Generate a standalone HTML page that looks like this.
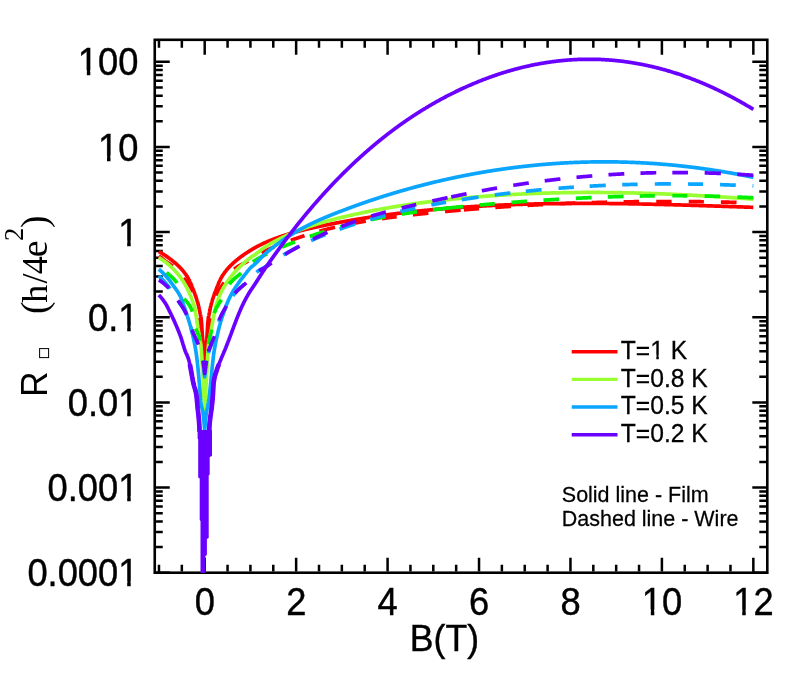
<!DOCTYPE html>
<html><head><meta charset="utf-8"><title>R vs B</title>
<style>
html,body{margin:0;padding:0;background:#fff;}
body{width:789px;height:684px;overflow:hidden;font-family:"Liberation Sans",sans-serif;}
svg{will-change:transform;display:block;position:absolute;left:0;top:0}
</style></head>
<body>
<svg width="789" height="684" viewBox="0 0 789 684">
<rect width="789" height="684" fill="#fff"/>
<rect x="154.75" y="39.8" width="612.55" height="532.90" fill="none" stroke="#000" stroke-width="2.6"/>
<path d="M158.98,571.40v-6.7 M158.98,41.10v6.7 M181.84,571.40v-6.7 M181.84,41.10v6.7 M204.70,571.40v-13.7 M204.70,41.10v13.7 M227.56,571.40v-6.7 M227.56,41.10v6.7 M250.42,571.40v-6.7 M250.42,41.10v6.7 M273.28,571.40v-6.7 M273.28,41.10v6.7 M296.14,571.40v-13.7 M296.14,41.10v13.7 M319.00,571.40v-6.7 M319.00,41.10v6.7 M341.86,571.40v-6.7 M341.86,41.10v6.7 M364.72,571.40v-6.7 M364.72,41.10v6.7 M387.58,571.40v-13.7 M387.58,41.10v13.7 M410.44,571.40v-6.7 M410.44,41.10v6.7 M433.30,571.40v-6.7 M433.30,41.10v6.7 M456.16,571.40v-6.7 M456.16,41.10v6.7 M479.02,571.40v-13.7 M479.02,41.10v13.7 M501.88,571.40v-6.7 M501.88,41.10v6.7 M524.74,571.40v-6.7 M524.74,41.10v6.7 M547.60,571.40v-6.7 M547.60,41.10v6.7 M570.46,571.40v-13.7 M570.46,41.10v13.7 M593.32,571.40v-6.7 M593.32,41.10v6.7 M616.18,571.40v-6.7 M616.18,41.10v6.7 M639.04,571.40v-6.7 M639.04,41.10v6.7 M661.90,571.40v-13.7 M661.90,41.10v13.7 M684.76,571.40v-6.7 M684.76,41.10v6.7 M707.62,571.40v-6.7 M707.62,41.10v6.7 M730.48,571.40v-6.7 M730.48,41.10v6.7 M753.34,571.40v-13.7 M753.34,41.10v13.7 M156.05,572.70h13.7 M766.00,572.70h-13.7 M156.05,547.07h6.7 M766.00,547.07h-6.7 M156.05,532.07h6.7 M766.00,532.07h-6.7 M156.05,521.43h6.7 M766.00,521.43h-6.7 M156.05,513.18h6.7 M766.00,513.18h-6.7 M156.05,506.44h6.7 M766.00,506.44h-6.7 M156.05,500.74h6.7 M766.00,500.74h-6.7 M156.05,495.80h6.7 M766.00,495.80h-6.7 M156.05,491.45h6.7 M766.00,491.45h-6.7 M156.05,487.55h13.7 M766.00,487.55h-13.7 M156.05,461.92h6.7 M766.00,461.92h-6.7 M156.05,446.92h6.7 M766.00,446.92h-6.7 M156.05,436.28h6.7 M766.00,436.28h-6.7 M156.05,428.03h6.7 M766.00,428.03h-6.7 M156.05,421.29h6.7 M766.00,421.29h-6.7 M156.05,415.59h6.7 M766.00,415.59h-6.7 M156.05,410.65h6.7 M766.00,410.65h-6.7 M156.05,406.30h6.7 M766.00,406.30h-6.7 M156.05,402.40h13.7 M766.00,402.40h-13.7 M156.05,376.77h6.7 M766.00,376.77h-6.7 M156.05,361.77h6.7 M766.00,361.77h-6.7 M156.05,351.13h6.7 M766.00,351.13h-6.7 M156.05,342.88h6.7 M766.00,342.88h-6.7 M156.05,336.14h6.7 M766.00,336.14h-6.7 M156.05,330.44h6.7 M766.00,330.44h-6.7 M156.05,325.50h6.7 M766.00,325.50h-6.7 M156.05,321.15h6.7 M766.00,321.15h-6.7 M156.05,317.25h13.7 M766.00,317.25h-13.7 M156.05,291.62h6.7 M766.00,291.62h-6.7 M156.05,276.62h6.7 M766.00,276.62h-6.7 M156.05,265.98h6.7 M766.00,265.98h-6.7 M156.05,257.73h6.7 M766.00,257.73h-6.7 M156.05,250.99h6.7 M766.00,250.99h-6.7 M156.05,245.29h6.7 M766.00,245.29h-6.7 M156.05,240.35h6.7 M766.00,240.35h-6.7 M156.05,236.00h6.7 M766.00,236.00h-6.7 M156.05,232.10h13.7 M766.00,232.10h-13.7 M156.05,206.47h6.7 M766.00,206.47h-6.7 M156.05,191.47h6.7 M766.00,191.47h-6.7 M156.05,180.83h6.7 M766.00,180.83h-6.7 M156.05,172.58h6.7 M766.00,172.58h-6.7 M156.05,165.84h6.7 M766.00,165.84h-6.7 M156.05,160.14h6.7 M766.00,160.14h-6.7 M156.05,155.20h6.7 M766.00,155.20h-6.7 M156.05,150.85h6.7 M766.00,150.85h-6.7 M156.05,146.95h13.7 M766.00,146.95h-13.7 M156.05,121.32h6.7 M766.00,121.32h-6.7 M156.05,106.32h6.7 M766.00,106.32h-6.7 M156.05,95.68h6.7 M766.00,95.68h-6.7 M156.05,87.43h6.7 M766.00,87.43h-6.7 M156.05,80.69h6.7 M766.00,80.69h-6.7 M156.05,74.99h6.7 M766.00,74.99h-6.7 M156.05,70.05h6.7 M766.00,70.05h-6.7 M156.05,65.70h6.7 M766.00,65.70h-6.7 M156.05,61.80h13.7 M766.00,61.80h-13.7" stroke="#000" stroke-width="2.5" fill="none"/>
<clipPath id="c"><rect x="154.75" y="39.80" width="612.55" height="533.20"/></clipPath>
<g clip-path="url(#c)" fill="none" stroke-linejoin="round">
<path d="M158.80,251.49 L158.98,251.60 L159.16,251.71 L159.35,251.82 L159.53,251.93 L159.71,252.04 L159.89,252.14 L160.08,252.25 L160.26,252.36 L160.44,252.47 L160.62,252.58 L160.80,252.69 L160.98,252.79 L161.16,252.90 L161.34,253.01 L161.52,253.12 L161.69,253.23 L161.87,253.33 L162.05,253.44 L162.23,253.55 L162.40,253.66 L162.58,253.77 L162.76,253.88 L162.93,253.99 L163.11,254.10 L163.28,254.20 L163.46,254.31 L163.63,254.42 L163.80,254.53 L163.98,254.65 L164.15,254.76 L164.32,254.87 L164.50,254.98 L164.67,255.09 L164.84,255.20 L165.01,255.32 L165.18,255.43 L165.35,255.54 L165.52,255.66 L165.69,255.77 L165.86,255.89 L166.03,256.00 L166.20,256.12 L166.37,256.24 L166.54,256.35 L166.70,256.47 L166.87,256.59 L167.04,256.71 L167.20,256.83 L167.37,256.94 L167.54,257.06 L167.70,257.18 L167.87,257.30 L168.03,257.41 L168.19,257.53 L168.36,257.65 L168.52,257.77 L168.69,257.89 L168.85,258.00 L169.01,258.12 L169.17,258.24 L169.33,258.36 L169.50,258.48 L169.66,258.60 L169.82,258.71 L169.98,258.83 L170.14,258.95 L170.30,259.07 L170.46,259.19 L170.61,259.31 L170.77,259.43 L170.93,259.55 L171.09,259.67 L171.25,259.79 L171.40,259.91 L171.56,260.03 L171.71,260.15 L171.87,260.27 L172.03,260.39 L172.18,260.51 L172.34,260.63 L172.49,260.75 L172.64,260.87 L172.80,260.99 L172.95,261.12 L173.10,261.24 L173.26,261.36 L173.41,261.49 L173.56,261.61 L173.71,261.73 L173.86,261.86 L174.01,261.98 L174.16,262.10 L174.31,262.23 L174.46,262.35 L174.61,262.48 L174.76,262.61 L174.91,262.73 L175.06,262.86 L175.20,262.98 L175.35,263.11 L175.50,263.24 L175.65,263.37 L175.79,263.50 L175.94,263.62 L176.08,263.75 L176.23,263.88 L176.37,264.01 L176.52,264.14 L176.66,264.27 L176.80,264.40 L176.95,264.53 L177.09,264.66 L177.23,264.80 L177.37,264.93 L177.52,265.06 L177.66,265.19 L177.80,265.33 L177.94,265.46 L178.08,265.60 L178.22,265.73 L178.36,265.87 L178.50,266.00 L178.64,266.14 L178.78,266.27 L178.91,266.41 L179.05,266.55 L179.19,266.68 L179.33,266.82 L179.46,266.96 L179.60,267.10 L179.73,267.24 L179.87,267.38 L180.01,267.52 L180.14,267.66 L180.27,267.80 L180.41,267.94 L180.54,268.08 L180.68,268.22 L180.81,268.36 L180.94,268.50 L181.07,268.64 L181.21,268.79 L181.34,268.93 L181.47,269.07 L181.60,269.22 L181.73,269.36 L181.86,269.51 L181.99,269.65 L182.12,269.80 L182.25,269.95 L182.37,270.09 L182.50,270.24 L182.63,270.39 L182.76,270.54 L182.88,270.69 L183.01,270.84 L183.14,270.99 L183.26,271.14 L183.39,271.30 L183.51,271.45 L183.64,271.61 L183.76,271.76 L183.89,271.92 L184.01,272.07 L184.13,272.23 L184.26,272.39 L184.38,272.55 L184.50,272.71 L184.62,272.87 L184.75,273.03 L184.87,273.19 L184.99,273.36 L185.11,273.52 L185.23,273.69 L185.35,273.85 L185.47,274.02 L185.59,274.19 L185.70,274.35 L185.82,274.52 L185.94,274.69 L186.06,274.86 L186.18,275.04 L186.29,275.21 L186.41,275.38 L186.52,275.56 L186.64,275.73 L186.75,275.91 L186.87,276.09 L186.98,276.26 L187.10,276.44 L187.21,276.62 L187.33,276.80 L187.44,276.99 L187.55,277.17 L187.66,277.35 L187.78,277.54 L187.89,277.73 L188.00,277.92 L188.11,278.12 L188.22,278.31 L188.33,278.51 L188.44,278.72 L188.55,278.92 L188.66,279.13 L188.77,279.34 L188.87,279.55 L188.98,279.76 L189.09,279.98 L189.20,280.19 L189.30,280.41 L189.41,280.63 L189.52,280.85 L189.62,281.08 L189.73,281.30 L189.83,281.53 L189.94,281.76 L190.04,281.98 L190.14,282.21 L190.25,282.44 L190.35,282.68 L190.45,282.91 L190.56,283.14 L190.66,283.38 L190.76,283.61 L190.86,283.85 L190.96,284.08 L191.06,284.32 L191.16,284.56 L191.26,284.79 L191.36,285.03 L191.46,285.27 L191.56,285.51 L191.66,285.75 L191.75,285.99 L191.85,286.23 L191.95,286.47 L192.05,286.70 L192.14,286.94 L192.24,287.18 L192.33,287.42 L192.43,287.66 L192.52,287.90 L192.62,288.14 L192.71,288.37 L192.81,288.61 L192.90,288.85 L192.99,289.08 L193.09,289.32 L193.18,289.55 L193.27,289.79 L193.36,290.02 L193.45,290.26 L193.54,290.49 L193.63,290.72 L193.72,290.95 L193.81,291.19 L193.90,291.42 L193.99,291.65 L194.08,291.88 L194.17,292.11 L194.26,292.34 L194.35,292.57 L194.43,292.80 L194.52,293.03 L194.61,293.26 L194.69,293.49 L194.78,293.72 L194.86,293.95 L194.95,294.18 L195.03,294.41 L195.12,294.64 L195.20,294.87 L195.28,295.11 L195.37,295.34 L195.45,295.57 L195.53,295.80 L195.61,296.04 L195.70,296.27 L195.78,296.51 L195.86,296.74 L195.94,296.98 L196.02,297.21 L196.10,297.45 L196.18,297.69 L196.26,297.92 L196.34,298.16 L196.41,298.40 L196.49,298.64 L196.57,298.88 L196.65,299.12 L196.72,299.37 L196.80,299.61 L196.88,299.85 L196.95,300.10 L197.03,300.34 L197.10,300.59 L197.18,300.84 L197.25,301.08 L197.33,301.33 L197.40,301.58 L197.47,301.83 L197.55,302.08 L197.62,302.33 L197.69,302.59 L197.76,302.84 L197.83,303.09 L197.90,303.35 L197.97,303.60 L198.05,303.86 L198.11,304.12 L198.18,304.37 L198.25,304.63 L198.32,304.89 L198.39,305.15 L198.46,305.42 L198.53,305.69 L198.59,305.97 L198.66,306.25 L198.73,306.54 L198.79,306.83 L198.86,307.12 L198.92,307.42 L198.99,307.73 L199.05,308.03 L199.12,308.34 L199.18,308.65 L199.25,308.96 L199.31,309.27 L199.37,309.59 L199.43,309.90 L199.50,310.21 L199.56,310.53 L199.62,310.84 L199.68,311.15 L199.74,311.46 L199.80,311.77 L199.86,312.07 L199.92,312.38 L199.98,312.67 L200.04,312.96 L200.10,313.24 L200.16,313.52 L200.21,313.79 L200.27,314.06 L200.33,314.33 L200.38,314.60 L200.44,314.87 L200.50,315.14 L200.55,315.42 L200.61,315.70 L200.66,315.98 L200.72,316.27 L200.77,316.56 L200.82,316.87 L200.88,317.18 L200.93,317.50 L200.98,317.83 L201.03,318.17 L201.09,318.52 L201.14,318.89 L201.19,319.26 L201.24,319.65 L201.29,320.05 L201.34,320.50 L201.39,321.00 L201.44,321.54 L201.49,322.12 L201.54,322.74 L201.58,323.38 L201.63,324.05 L201.68,324.75 L201.73,325.46 L201.77,326.18 L201.82,326.92 L201.87,327.66 L201.91,328.41 L201.96,329.16 L202.00,329.91 L202.05,330.65 L202.09,331.39 L202.13,332.11 L202.18,332.83 L202.22,333.53 L202.26,334.21 L202.30,334.87 L202.35,335.51 L202.39,336.13 L202.43,336.73 L202.47,337.30 L202.51,337.84 L202.55,338.35 L202.59,338.84 L202.63,339.29 L202.67,339.71 L202.71,340.12 L202.74,340.51 L202.78,340.88 L202.82,341.25 L202.86,341.60 L202.89,341.93 L202.93,342.26 L202.97,342.58 L203.00,342.89 L203.04,343.19 L203.07,343.49 L203.11,343.78 L203.14,344.06 L203.17,344.34 L203.21,344.61 L203.24,344.88 L203.27,345.15 L203.30,345.41 L203.34,345.67 L203.37,345.93 L203.40,346.18 L203.43,346.44 L203.46,346.69 L203.49,346.94 L203.52,347.20 L203.55,347.45 L203.58,347.70 L203.61,347.95 L203.64,348.21 L203.66,348.46 L203.69,348.71 L203.72,348.97 L203.74,349.23 L203.77,349.48 L203.80,349.74 L203.82,350.00 L203.85,350.25 L203.87,350.51 L203.90,350.76 L203.92,351.01 L203.94,351.25 L203.97,351.50 L203.99,351.74 L204.01,351.98 L204.04,352.22 L204.06,352.45 L204.08,352.69 L204.10,352.91 L204.12,353.14 L204.14,353.36 L204.16,353.58 L204.18,353.80 L204.20,354.02 L204.22,354.23 L204.24,354.44 L204.26,354.64 L204.28,354.84 L204.29,355.04 L204.31,355.23 L204.33,355.43 L204.34,355.61 L204.36,355.80 L204.37,355.98 L204.39,356.15 L204.41,356.32 L204.42,356.49 L204.43,356.66 L204.45,356.82 L204.46,356.98 L204.47,357.13 L204.49,357.28 L204.50,357.42 L204.51,357.57 L204.52,357.70 L204.53,357.84 L204.54,357.96 L204.56,358.09 L204.57,358.21 L204.58,358.33 L204.58,358.44 L204.59,358.55 L204.60,358.65 L204.61,358.75 L204.62,358.84 L204.63,358.93 L204.63,359.02 L204.64,359.10 L204.65,359.18 L204.65,359.25 L204.66,359.32 L204.66,359.39 L204.67,359.45 L204.67,359.50 L204.68,359.55 L204.68,359.60 L204.69,359.64 L204.69,359.68 L204.69,359.72 L204.69,359.74 L204.70,359.77 L204.70,359.79 L204.70,359.80 L204.70,359.82 L204.70,359.82 L204.70,359.82 L204.70,359.82 L204.70,359.82 L204.70,359.82 L204.70,359.81 L204.70,359.80 L204.70,359.79 L204.70,359.78 L204.71,359.76 L204.71,359.74 L204.71,359.72 L204.71,359.69 L204.71,359.66 L204.72,359.63 L204.72,359.60 L204.72,359.56 L204.73,359.52 L204.73,359.48 L204.73,359.43 L204.74,359.38 L204.74,359.33 L204.75,359.27 L204.75,359.21 L204.76,359.15 L204.76,359.08 L204.77,359.01 L204.77,358.94 L204.78,358.86 L204.79,358.78 L204.79,358.70 L204.80,358.61 L204.81,358.52 L204.82,358.43 L204.82,358.33 L204.83,358.23 L204.84,358.13 L204.85,358.02 L204.86,357.91 L204.87,357.79 L204.88,357.68 L204.89,357.55 L204.90,357.43 L204.91,357.30 L204.92,357.17 L204.93,357.03 L204.95,356.90 L204.96,356.75 L204.97,356.61 L204.98,356.46 L205.00,356.31 L205.01,356.15 L205.02,355.99 L205.04,355.83 L205.05,355.66 L205.07,355.50 L205.08,355.32 L205.10,355.15 L205.11,354.97 L205.13,354.79 L205.15,354.60 L205.16,354.41 L205.18,354.22 L205.20,354.03 L205.21,353.83 L205.23,353.63 L205.25,353.43 L205.27,353.22 L205.29,353.01 L205.31,352.80 L205.33,352.58 L205.35,352.37 L205.37,352.15 L205.39,351.92 L205.41,351.70 L205.43,351.47 L205.45,351.24 L205.48,351.01 L205.50,350.77 L205.52,350.54 L205.55,350.30 L205.57,350.06 L205.59,349.81 L205.62,349.57 L205.64,349.32 L205.67,349.08 L205.69,348.84 L205.72,348.59 L205.75,348.35 L205.77,348.11 L205.80,347.87 L205.83,347.63 L205.85,347.38 L205.88,347.14 L205.91,346.90 L205.94,346.66 L205.97,346.41 L206.00,346.17 L206.03,345.92 L206.06,345.67 L206.09,345.42 L206.12,345.17 L206.15,344.91 L206.18,344.65 L206.22,344.38 L206.25,344.12 L206.28,343.84 L206.32,343.56 L206.35,343.28 L206.38,342.99 L206.42,342.69 L206.45,342.38 L206.49,342.06 L206.52,341.74 L206.56,341.40 L206.60,341.05 L206.63,340.69 L206.67,340.32 L206.71,339.93 L206.74,339.53 L206.78,339.10 L206.82,338.65 L206.86,338.16 L206.90,337.65 L206.94,337.11 L206.98,336.54 L207.02,335.94 L207.06,335.33 L207.10,334.69 L207.15,334.02 L207.19,333.34 L207.23,332.65 L207.27,331.94 L207.32,331.21 L207.36,330.48 L207.40,329.74 L207.45,329.00 L207.49,328.25 L207.54,327.50 L207.59,326.76 L207.63,326.03 L207.68,325.30 L207.73,324.59 L207.77,323.90 L207.82,323.23 L207.87,322.58 L207.92,321.97 L207.97,321.39 L208.02,320.85 L208.07,320.36 L208.12,319.91 L208.17,319.51 L208.22,319.12 L208.27,318.74 L208.32,318.37 L208.37,318.02 L208.43,317.68 L208.48,317.34 L208.53,317.02 L208.59,316.71 L208.64,316.40 L208.70,316.10 L208.75,315.81 L208.81,315.52 L208.86,315.24 L208.92,314.96 L208.98,314.68 L209.03,314.41 L209.09,314.13 L209.15,313.86 L209.21,313.58 L209.27,313.30 L209.33,313.01 L209.38,312.72 L209.44,312.42 L209.51,312.12 L209.57,311.80 L209.63,311.49 L209.69,311.17 L209.75,310.85 L209.81,310.53 L209.88,310.21 L209.94,309.88 L210.00,309.56 L210.07,309.24 L210.13,308.92 L210.20,308.59 L210.26,308.27 L210.33,307.96 L210.40,307.64 L210.46,307.32 L210.53,307.01 L210.60,306.71 L210.67,306.40 L210.74,306.10 L210.81,305.81 L210.87,305.52 L210.94,305.24 L211.01,304.97 L211.09,304.70 L211.16,304.43 L211.23,304.16 L211.30,303.89 L211.37,303.62 L211.45,303.35 L211.52,303.09 L211.59,302.82 L211.67,302.56 L211.74,302.29 L211.82,302.03 L211.89,301.76 L211.97,301.50 L212.04,301.24 L212.12,300.98 L212.20,300.72 L212.28,300.46 L212.35,300.20 L212.43,299.94 L212.51,299.69 L212.59,299.43 L212.67,299.17 L212.75,298.92 L212.83,298.66 L212.91,298.41 L212.99,298.16 L213.08,297.91 L213.16,297.65 L213.24,297.40 L213.33,297.15 L213.41,296.90 L213.49,296.65 L213.58,296.40 L213.66,296.15 L213.75,295.91 L213.83,295.66 L213.92,295.41 L214.01,295.16 L214.10,294.92 L214.18,294.67 L214.27,294.42 L214.36,294.18 L214.45,293.93 L214.54,293.69 L214.63,293.44 L214.72,293.20 L214.81,292.95 L214.90,292.71 L214.99,292.46 L215.09,292.22 L215.18,291.97 L215.27,291.72 L215.37,291.48 L215.46,291.23 L215.55,290.98 L215.65,290.74 L215.74,290.49 L215.84,290.24 L215.94,289.99 L216.03,289.74 L216.13,289.49 L216.23,289.24 L216.33,288.98 L216.43,288.73 L216.52,288.48 L216.62,288.22 L216.72,287.97 L216.82,287.71 L216.93,287.45 L217.03,287.20 L217.13,286.94 L217.23,286.68 L217.33,286.43 L217.44,286.17 L217.54,285.91 L217.64,285.65 L217.75,285.40 L217.85,285.14 L217.96,284.88 L218.07,284.62 L218.17,284.37 L218.28,284.11 L218.39,283.85 L218.49,283.60 L218.60,283.34 L218.71,283.09 L218.82,282.83 L218.93,282.58 L219.04,282.33 L219.15,282.07 L219.26,281.82 L219.37,281.57 L219.48,281.33 L219.60,281.08 L219.71,280.83 L219.82,280.59 L219.94,280.35 L220.05,280.11 L220.17,279.87 L220.28,279.63 L220.40,279.40 L220.51,279.16 L220.63,278.93 L220.75,278.70 L220.86,278.48 L220.98,278.25 L221.10,278.03 L221.22,277.81 L221.34,277.60 L221.46,277.39 L221.58,277.18 L221.70,276.97 L221.82,276.77 L221.94,276.57 L222.06,276.37 L222.19,276.17 L222.31,275.97 L222.43,275.77 L222.56,275.58 L222.68,275.38 L222.81,275.19 L222.93,274.99 L223.06,274.80 L223.19,274.61 L223.31,274.42 L223.44,274.23 L223.57,274.04 L223.70,273.86 L223.83,273.67 L223.95,273.49 L224.08,273.30 L224.21,273.12 L224.35,272.94 L224.48,272.75 L224.61,272.57 L224.74,272.39 L224.87,272.22 L225.01,272.04 L225.14,271.86 L225.27,271.68 L225.41,271.51 L225.54,271.33 L225.68,271.16 L225.81,270.99 L225.95,270.82 L226.09,270.65 L226.23,270.48 L226.36,270.31 L226.50,270.14 L226.64,269.97 L226.78,269.80 L226.92,269.64 L227.06,269.47 L227.20,269.31 L227.34,269.14 L227.48,268.98 L227.63,268.81 L227.77,268.65 L227.91,268.49 L228.06,268.33 L228.20,268.17 L228.34,268.01 L228.49,267.85 L228.64,267.69 L228.78,267.53 L228.93,267.37 L229.08,267.21 L229.22,267.05 L229.37,266.90 L229.52,266.74 L229.67,266.58 L229.82,266.43 L229.97,266.27 L230.12,266.11 L230.27,265.96 L230.42,265.80 L230.57,265.65 L230.73,265.50 L230.88,265.34 L231.03,265.19 L231.19,265.03 L231.34,264.88 L231.49,264.73 L231.65,264.58 L231.81,264.43 L231.96,264.28 L232.12,264.13 L232.28,263.98 L232.43,263.83 L232.59,263.68 L232.75,263.53 L232.91,263.38 L233.07,263.23 L233.23,263.09 L233.39,262.94 L233.55,262.79 L233.71,262.65 L233.88,262.50 L234.04,262.35 L234.20,262.21 L234.37,262.06 L234.53,261.92 L234.70,261.78 L234.86,261.63 L235.03,261.49 L235.19,261.35 L235.36,261.20 L235.53,261.06 L235.69,260.92 L235.86,260.78 L236.03,260.64 L236.20,260.50 L236.37,260.35 L236.54,260.21 L236.71,260.07 L236.88,259.93 L237.05,259.79 L237.23,259.65 L237.40,259.52 L237.57,259.38 L237.75,259.24 L237.92,259.10 L238.09,258.96 L238.27,258.82 L238.45,258.69 L238.62,258.55 L238.80,258.41 L238.98,258.27 L239.15,258.13 L239.33,258.00 L239.51,257.86 L239.69,257.72 L239.87,257.59 L240.05,257.45 L240.23,257.31 L240.41,257.18 L240.59,257.04 L240.77,256.90 L240.96,256.77 L241.14,256.63 L241.32,256.49 L241.51,256.36 L241.69,256.22 L241.88,256.08 L242.06,255.95 L242.25,255.81 L242.44,255.67 L242.62,255.53 L242.81,255.40 L243.00,255.26 L243.19,255.12 L243.38,254.99 L243.57,254.85 L243.76,254.72 L243.95,254.59 L244.14,254.45 L244.33,254.32 L244.52,254.19 L244.72,254.06 L244.91,253.93 L245.10,253.80 L245.30,253.67 L245.49,253.54 L245.69,253.41 L245.88,253.28 L246.08,253.15 L246.28,253.02 L246.48,252.89 L246.67,252.76 L246.87,252.64 L247.07,252.51 L247.27,252.38 L247.47,252.25 L247.67,252.13 L247.87,252.00 L248.07,251.87 L248.27,251.75 L248.48,251.62 L248.68,251.49 L248.88,251.36 L249.09,251.24 L249.29,251.11 L249.50,250.98 L249.70,250.85 L249.91,250.73 L250.12,250.60 L250.32,250.47 L250.53,250.34 L250.74,250.21 L250.95,250.08 L251.16,249.95 L251.37,249.82 L251.58,249.69 L251.79,249.56 L252.00,249.43 L252.21,249.30 L252.42,249.18 L252.64,249.05 L252.85,248.92 L253.06,248.79 L253.28,248.66 L253.49,248.54 L253.71,248.41 L253.92,248.29 L254.14,248.16 L254.36,248.04 L254.57,247.92 L254.79,247.79 L255.01,247.67 L255.23,247.55 L255.45,247.43 L255.67,247.31 L255.89,247.19 L256.11,247.07 L256.33,246.95 L256.55,246.83 L256.78,246.71 L257.00,246.59 L257.22,246.48 L257.45,246.36 L257.67,246.24 L257.90,246.12 L258.12,246.00 L258.35,245.89 L258.58,245.77 L258.80,245.65 L259.03,245.53 L259.26,245.42 L259.49,245.30 L259.72,245.19 L259.95,245.07 L260.18,244.96 L260.41,244.84 L260.64,244.73 L260.87,244.61 L261.11,244.50 L261.34,244.38 L261.57,244.27 L261.81,244.16 L262.04,244.05 L262.28,243.93 L262.51,243.82 L262.75,243.71 L262.99,243.60 L263.22,243.49 L263.46,243.38 L263.70,243.27 L263.94,243.16 L264.18,243.05 L264.42,242.94 L264.66,242.83 L264.90,242.73 L265.14,242.62 L265.38,242.51 L265.62,242.40 L265.87,242.30 L266.11,242.19 L266.36,242.08 L266.60,241.98 L266.84,241.87 L267.09,241.77 L267.34,241.66 L267.58,241.56 L267.83,241.45 L268.08,241.35 L268.33,241.24 L268.58,241.14 L268.83,241.04 L269.08,240.93 L269.33,240.83 L269.58,240.73 L269.83,240.62 L270.08,240.52 L270.33,240.42 L270.59,240.32 L270.84,240.21 L271.09,240.11 L271.35,240.01 L271.60,239.91 L271.86,239.81 L272.12,239.71 L272.37,239.61 L272.63,239.51 L272.89,239.41 L273.15,239.31 L273.41,239.21 L273.67,239.11 L273.93,239.01 L274.19,238.91 L274.45,238.81 L274.71,238.71 L274.97,238.62 L275.23,238.52 L275.50,238.42 L275.76,238.32 L276.03,238.22 L276.29,238.13 L276.56,238.03 L276.82,237.93 L277.09,237.84 L277.36,237.74 L277.62,237.64 L277.89,237.55 L278.16,237.45 L278.43,237.35 L278.70,237.26 L278.97,237.16 L279.24,237.07 L279.51,236.97 L279.78,236.88 L280.05,236.78 L280.33,236.69 L280.60,236.60 L280.88,236.50 L281.15,236.41 L281.43,236.32 L281.70,236.22 L281.98,236.13 L282.25,236.04 L282.53,235.94 L282.81,235.85 L283.09,235.76 L283.37,235.67 L283.65,235.58 L283.93,235.49 L284.21,235.39 L284.49,235.30 L284.77,235.21 L285.05,235.12 L285.33,235.03 L285.62,234.94 L285.90,234.85 L286.18,234.76 L286.47,234.67 L286.75,234.59 L287.04,234.50 L287.33,234.41 L287.61,234.32 L287.90,234.23 L288.19,234.14 L288.48,234.06 L288.77,233.97 L289.06,233.88 L289.35,233.80 L289.64,233.71 L289.93,233.62 L290.22,233.54 L290.51,233.45 L290.81,233.37 L291.10,233.28 L291.39,233.19 L291.69,233.11 L291.98,233.02 L292.28,232.94 L292.58,232.86 L292.87,232.77 L293.17,232.69 L293.47,232.60 L293.77,232.52 L294.07,232.44 L294.36,232.35 L294.66,232.27 L294.97,232.19 L295.27,232.10 L295.57,232.02 L295.87,231.94 L296.17,231.86 L296.48,231.78 L296.78,231.69 L297.08,231.61 L297.39,231.53 L297.70,231.45 L298.00,231.37 L298.31,231.29 L298.62,231.21 L298.92,231.13 L299.23,231.05 L299.54,230.97 L299.85,230.89 L300.16,230.81 L300.47,230.73 L300.78,230.65 L301.09,230.57 L301.40,230.49 L301.72,230.41 L302.03,230.34 L302.34,230.26 L302.66,230.18 L302.97,230.10 L303.29,230.02 L303.61,229.95 L303.92,229.87 L304.24,229.79 L304.56,229.72 L304.87,229.64 L305.19,229.56 L305.51,229.49 L305.83,229.41 L306.15,229.33 L306.47,229.26 L306.80,229.18 L307.12,229.11 L307.44,229.03 L307.76,228.95 L308.09,228.88 L308.41,228.80 L308.74,228.73 L309.06,228.65 L309.39,228.58 L309.71,228.50 L310.04,228.43 L310.37,228.35 L310.70,228.28 L311.03,228.20 L311.35,228.13 L311.68,228.05 L312.01,227.98 L312.35,227.90 L312.68,227.83 L313.01,227.76 L313.34,227.68 L313.68,227.61 L314.01,227.54 L314.34,227.46 L314.68,227.39 L315.01,227.32 L315.35,227.24 L315.69,227.17 L316.02,227.10 L316.36,227.03 L316.70,226.95 L317.04,226.88 L317.38,226.81 L317.72,226.73 L318.06,226.66 L318.40,226.59 L318.74,226.52 L319.08,226.45 L319.42,226.37 L319.77,226.30 L320.11,226.23 L320.46,226.16 L320.80,226.08 L321.15,226.01 L321.49,225.94 L321.84,225.87 L322.19,225.79 L322.53,225.72 L322.88,225.65 L323.23,225.58 L323.58,225.50 L323.93,225.43 L324.28,225.36 L324.63,225.29 L324.98,225.22 L325.33,225.14 L325.69,225.07 L326.04,225.00 L326.39,224.93 L326.75,224.86 L327.10,224.79 L327.46,224.71 L327.82,224.64 L328.17,224.57 L328.53,224.50 L328.89,224.43 L329.25,224.36 L329.60,224.29 L329.96,224.21 L330.32,224.14 L330.68,224.07 L331.05,224.00 L331.41,223.93 L331.77,223.86 L332.13,223.79 L332.50,223.72 L332.86,223.65 L333.23,223.58 L333.59,223.51 L333.96,223.43 L334.32,223.36 L334.69,223.29 L335.06,223.22 L335.42,223.15 L335.79,223.08 L336.16,223.01 L336.53,222.94 L336.90,222.87 L337.27,222.80 L337.64,222.73 L338.02,222.66 L338.39,222.59 L338.76,222.52 L339.13,222.45 L339.51,222.38 L339.88,222.31 L340.26,222.24 L340.64,222.17 L341.01,222.10 L341.39,222.03 L341.77,221.96 L342.14,221.89 L342.52,221.82 L342.90,221.75 L343.28,221.69 L343.66,221.62 L344.04,221.55 L344.43,221.48 L344.81,221.41 L345.19,221.34 L345.57,221.27 L345.96,221.20 L346.34,221.14 L346.73,221.07 L347.11,221.00 L347.50,220.93 L347.89,220.86 L348.27,220.79 L348.66,220.72 L349.05,220.66 L349.44,220.59 L349.83,220.52 L350.22,220.45 L350.61,220.39 L351.00,220.32 L351.39,220.25 L351.78,220.18 L352.18,220.11 L352.57,220.05 L352.96,219.98 L353.36,219.91 L353.75,219.85 L354.15,219.78 L354.55,219.71 L354.94,219.64 L355.34,219.58 L355.74,219.51 L356.14,219.44 L356.54,219.38 L356.94,219.31 L357.34,219.25 L357.74,219.18 L358.14,219.11 L358.54,219.05 L358.94,218.98 L359.35,218.91 L359.75,218.85 L360.16,218.78 L360.56,218.72 L360.97,218.65 L361.37,218.59 L361.78,218.52 L362.19,218.46 L362.60,218.39 L363.00,218.33 L363.41,218.26 L363.82,218.19 L364.23,218.13 L364.64,218.07 L365.05,218.00 L365.47,217.94 L365.88,217.87 L366.29,217.81 L366.71,217.74 L367.12,217.68 L367.53,217.61 L367.95,217.55 L368.37,217.49 L368.78,217.42 L369.20,217.36 L369.62,217.30 L370.04,217.23 L370.45,217.17 L370.87,217.11 L371.29,217.04 L371.71,216.98 L372.14,216.92 L372.56,216.85 L372.98,216.79 L373.40,216.73 L373.83,216.67 L374.25,216.60 L374.68,216.54 L375.10,216.48 L375.53,216.42 L375.95,216.35 L376.38,216.29 L376.81,216.23 L377.24,216.17 L377.66,216.11 L378.09,216.05 L378.52,215.98 L378.95,215.92 L379.38,215.86 L379.82,215.80 L380.25,215.74 L380.68,215.68 L381.11,215.62 L381.55,215.56 L381.98,215.50 L382.42,215.44 L382.85,215.38 L383.29,215.32 L383.73,215.26 L384.16,215.20 L384.60,215.14 L385.04,215.08 L385.48,215.02 L385.92,214.96 L386.36,214.90 L386.80,214.84 L387.24,214.78 L387.68,214.72 L388.13,214.66 L388.57,214.60 L389.01,214.54 L389.46,214.49 L389.90,214.43 L390.35,214.37 L390.80,214.31 L391.24,214.25 L391.69,214.20 L392.14,214.14 L392.59,214.08 L393.04,214.02 L393.49,213.96 L393.94,213.91 L394.39,213.85 L394.84,213.79 L395.29,213.74 L395.74,213.68 L396.20,213.62 L396.65,213.57 L397.10,213.51 L397.56,213.45 L398.01,213.40 L398.47,213.34 L398.93,213.28 L399.38,213.23 L399.84,213.17 L400.30,213.12 L400.76,213.06 L401.22,213.01 L401.68,212.95 L402.14,212.90 L402.60,212.84 L403.06,212.79 L403.53,212.73 L403.99,212.68 L404.45,212.62 L404.92,212.57 L405.38,212.51 L405.85,212.46 L406.31,212.41 L406.78,212.35 L407.25,212.30 L407.72,212.25 L408.18,212.19 L408.65,212.14 L409.12,212.09 L409.59,212.03 L410.06,211.98 L410.54,211.93 L411.01,211.88 L411.48,211.82 L411.95,211.77 L412.43,211.72 L412.90,211.67 L413.38,211.61 L413.85,211.56 L414.33,211.51 L414.80,211.46 L415.28,211.41 L415.76,211.36 L416.24,211.31 L416.72,211.26 L417.20,211.20 L417.68,211.15 L418.16,211.10 L418.64,211.05 L419.12,211.00 L419.60,210.95 L420.09,210.90 L420.57,210.85 L421.06,210.80 L421.54,210.75 L422.03,210.70 L422.51,210.65 L423.00,210.61 L423.49,210.56 L423.98,210.51 L424.46,210.46 L424.95,210.41 L425.44,210.36 L425.93,210.31 L426.42,210.27 L426.92,210.22 L427.41,210.17 L427.90,210.12 L428.39,210.08 L428.89,210.03 L429.38,209.98 L429.88,209.93 L430.37,209.89 L430.87,209.84 L431.37,209.79 L431.86,209.75 L432.36,209.70 L432.86,209.65 L433.36,209.61 L433.86,209.56 L434.36,209.52 L434.86,209.47 L435.36,209.42 L435.86,209.38 L436.37,209.33 L436.87,209.29 L437.37,209.24 L437.88,209.20 L438.38,209.16 L438.89,209.11 L439.40,209.07 L439.90,209.02 L440.41,208.98 L440.92,208.93 L441.43,208.89 L441.94,208.85 L442.45,208.80 L442.96,208.76 L443.47,208.72 L443.98,208.67 L444.49,208.63 L445.01,208.59 L445.52,208.55 L446.03,208.50 L446.55,208.46 L447.06,208.42 L447.58,208.38 L448.10,208.34 L448.61,208.30 L449.13,208.25 L449.65,208.21 L450.17,208.17 L450.69,208.13 L451.21,208.09 L451.73,208.05 L452.25,208.01 L452.77,207.97 L453.30,207.93 L453.82,207.89 L454.34,207.85 L454.87,207.81 L455.39,207.77 L455.92,207.73 L456.44,207.69 L456.97,207.65 L457.50,207.61 L458.03,207.57 L458.55,207.54 L459.08,207.50 L459.61,207.46 L460.14,207.42 L460.67,207.38 L461.21,207.35 L461.74,207.31 L462.27,207.27 L462.80,207.23 L463.34,207.20 L463.87,207.16 L464.41,207.12 L464.94,207.09 L465.48,207.05 L466.02,207.01 L466.55,206.98 L467.09,206.94 L467.63,206.91 L468.17,206.87 L468.71,206.84 L469.25,206.80 L469.79,206.76 L470.33,206.73 L470.88,206.70 L471.42,206.66 L471.96,206.63 L472.51,206.59 L473.05,206.56 L473.60,206.52 L474.14,206.49 L474.69,206.46 L475.24,206.42 L475.79,206.39 L476.33,206.36 L476.88,206.33 L477.43,206.29 L477.98,206.26 L478.53,206.23 L479.09,206.20 L479.64,206.16 L480.19,206.13 L480.74,206.10 L481.30,206.07 L481.85,206.04 L482.41,206.01 L482.96,205.98 L483.52,205.95 L484.08,205.91 L484.63,205.88 L485.19,205.85 L485.75,205.82 L486.31,205.79 L486.87,205.76 L487.43,205.74 L487.99,205.71 L488.55,205.68 L489.12,205.65 L489.68,205.62 L490.24,205.59 L490.81,205.56 L491.37,205.53 L491.94,205.51 L492.50,205.48 L493.07,205.45 L493.64,205.42 L494.21,205.40 L494.77,205.37 L495.34,205.34 L495.91,205.31 L496.48,205.29 L497.05,205.26 L497.63,205.24 L498.20,205.21 L498.77,205.18 L499.34,205.16 L499.92,205.13 L500.49,205.11 L501.07,205.08 L501.64,205.06 L502.22,205.03 L502.80,205.01 L503.37,204.98 L503.95,204.96 L504.53,204.93 L505.11,204.91 L505.69,204.89 L506.27,204.86 L506.85,204.84 L507.43,204.82 L508.02,204.79 L508.60,204.77 L509.18,204.75 L509.77,204.73 L510.35,204.70 L510.94,204.68 L511.52,204.66 L512.11,204.64 L512.70,204.62 L513.29,204.60 L513.87,204.57 L514.46,204.55 L515.05,204.53 L515.64,204.51 L516.24,204.49 L516.83,204.47 L517.42,204.45 L518.01,204.43 L518.61,204.41 L519.20,204.39 L519.79,204.37 L520.39,204.36 L520.99,204.34 L521.58,204.32 L522.18,204.30 L522.78,204.28 L523.38,204.26 L523.97,204.24 L524.57,204.23 L525.17,204.21 L525.78,204.19 L526.38,204.17 L526.98,204.16 L527.58,204.14 L528.19,204.12 L528.79,204.11 L529.39,204.09 L530.00,204.08 L530.60,204.06 L531.21,204.04 L531.82,204.03 L532.43,204.01 L533.03,204.00 L533.64,203.98 L534.25,203.97 L534.86,203.95 L535.47,203.94 L536.08,203.93 L536.70,203.91 L537.31,203.90 L537.92,203.88 L538.54,203.87 L539.15,203.86 L539.76,203.85 L540.38,203.83 L541.00,203.82 L541.61,203.81 L542.23,203.79 L542.85,203.78 L543.47,203.77 L544.09,203.76 L544.71,203.75 L545.33,203.74 L545.95,203.72 L546.57,203.71 L547.19,203.70 L547.82,203.69 L548.44,203.68 L549.06,203.67 L549.69,203.66 L550.31,203.65 L550.94,203.64 L551.57,203.63 L552.19,203.62 L552.82,203.61 L553.45,203.61 L554.08,203.60 L554.71,203.59 L555.34,203.58 L555.97,203.57 L556.60,203.56 L557.24,203.56 L557.87,203.55 L558.50,203.54 L559.14,203.53 L559.77,203.53 L560.41,203.52 L561.04,203.51 L561.68,203.51 L562.32,203.50 L562.95,203.50 L563.59,203.49 L564.23,203.48 L564.87,203.48 L565.51,203.47 L566.15,203.47 L566.79,203.46 L567.44,203.46 L568.08,203.45 L568.72,203.45 L569.37,203.44 L570.01,203.44 L570.66,203.43 L571.30,203.43 L571.95,203.43 L572.60,203.43 L573.24,203.42 L573.89,203.42 L574.54,203.42 L575.19,203.42 L575.84,203.41 L576.49,203.41 L577.14,203.41 L577.80,203.41 L578.45,203.41 L579.10,203.40 L579.76,203.40 L580.41,203.40 L581.07,203.40 L581.72,203.40 L582.38,203.40 L583.04,203.40 L583.69,203.40 L584.35,203.40 L585.01,203.40 L585.67,203.40 L586.33,203.40 L586.99,203.40 L587.65,203.40 L588.32,203.40 L588.98,203.40 L589.64,203.41 L590.31,203.41 L590.97,203.41 L591.64,203.41 L592.30,203.41 L592.97,203.42 L593.64,203.42 L594.30,203.42 L594.97,203.42 L595.64,203.43 L596.31,203.43 L596.98,203.43 L597.65,203.43 L598.32,203.44 L598.99,203.44 L599.67,203.45 L600.34,203.45 L601.02,203.46 L601.69,203.46 L602.36,203.47 L603.04,203.47 L603.72,203.48 L604.39,203.48 L605.07,203.49 L605.75,203.49 L606.43,203.50 L607.11,203.50 L607.79,203.51 L608.47,203.52 L609.15,203.52 L609.83,203.53 L610.52,203.54 L611.20,203.54 L611.88,203.55 L612.57,203.56 L613.25,203.57 L613.94,203.57 L614.63,203.58 L615.31,203.59 L616.00,203.60 L616.69,203.61 L617.38,203.62 L618.07,203.62 L618.76,203.63 L619.45,203.64 L620.14,203.65 L620.83,203.66 L621.53,203.67 L622.22,203.68 L622.91,203.69 L623.61,203.70 L624.30,203.71 L625.00,203.72 L625.70,203.73 L626.39,203.74 L627.09,203.75 L627.79,203.76 L628.49,203.78 L629.19,203.79 L629.89,203.80 L630.59,203.81 L631.29,203.82 L631.99,203.83 L632.70,203.85 L633.40,203.86 L634.11,203.87 L634.81,203.88 L635.52,203.90 L636.22,203.91 L636.93,203.92 L637.64,203.94 L638.34,203.95 L639.05,203.96 L639.76,203.98 L640.47,203.99 L641.18,204.00 L641.89,204.02 L642.60,204.03 L643.32,204.05 L644.03,204.06 L644.74,204.08 L645.46,204.09 L646.17,204.11 L646.89,204.12 L647.60,204.14 L648.32,204.15 L649.04,204.17 L649.76,204.18 L650.47,204.20 L651.19,204.22 L651.91,204.23 L652.63,204.25 L653.36,204.26 L654.08,204.28 L654.80,204.30 L655.52,204.31 L656.25,204.33 L656.97,204.35 L657.70,204.37 L658.42,204.38 L659.15,204.40 L659.88,204.42 L660.60,204.44 L661.33,204.46 L662.06,204.47 L662.79,204.49 L663.52,204.51 L664.25,204.53 L664.98,204.55 L665.71,204.57 L666.45,204.58 L667.18,204.60 L667.91,204.62 L668.65,204.64 L669.38,204.66 L670.12,204.68 L670.85,204.70 L671.59,204.72 L672.33,204.74 L673.07,204.76 L673.81,204.78 L674.55,204.80 L675.29,204.82 L676.03,204.84 L676.77,204.86 L677.51,204.88 L678.25,204.90 L679.00,204.93 L679.74,204.95 L680.49,204.97 L681.23,204.99 L681.98,205.01 L682.72,205.03 L683.47,205.05 L684.22,205.08 L684.97,205.10 L685.72,205.12 L686.47,205.14 L687.22,205.16 L687.97,205.19 L688.72,205.21 L689.47,205.23 L690.22,205.25 L690.98,205.28 L691.73,205.30 L692.49,205.32 L693.24,205.35 L694.00,205.37 L694.76,205.39 L695.51,205.42 L696.27,205.44 L697.03,205.46 L697.79,205.49 L698.55,205.51 L699.31,205.53 L700.07,205.56 L700.83,205.58 L701.60,205.61 L702.36,205.63 L703.12,205.65 L703.89,205.68 L704.65,205.70 L705.42,205.73 L706.18,205.75 L706.95,205.78 L707.72,205.80 L708.49,205.83 L709.26,205.85 L710.03,205.88 L710.80,205.90 L711.57,205.93 L712.34,205.95 L713.11,205.98 L713.88,206.00 L714.66,206.03 L715.43,206.05 L716.21,206.08 L716.98,206.11 L717.76,206.13 L718.53,206.16 L719.31,206.18 L720.09,206.21 L720.87,206.24 L721.65,206.26 L722.43,206.29 L723.21,206.31 L723.99,206.34 L724.77,206.37 L725.55,206.39 L726.33,206.42 L727.12,206.45 L727.90,206.47 L728.69,206.50 L729.47,206.53 L730.26,206.55 L731.05,206.58 L731.83,206.61 L732.62,206.63 L733.41,206.66 L734.20,206.69 L734.99,206.71 L735.78,206.74 L736.57,206.77 L737.36,206.80 L738.16,206.82 L738.95,206.85 L739.74,206.88 L740.54,206.90 L741.33,206.93 L742.13,206.96 L742.93,206.99 L743.72,207.01 L744.52,207.04 L745.32,207.07 L746.12,207.10 L746.92,207.12 L747.72,207.15 L748.52,207.18 L749.32,207.21 L750.12,207.23 L750.93,207.26 L751.73,207.29 L752.54,207.32 L753.34,207.34" stroke="#ff0000" stroke-width="3.7"/>
<path d="M158.80,256.16 L158.98,256.28 L159.16,256.41 L159.35,256.53 L159.53,256.65 L159.71,256.77 L159.89,256.90 L160.08,257.03 L160.26,257.16 L160.44,257.29 L160.62,257.42 L160.80,257.55 L160.98,257.68 L161.16,257.81 L161.34,257.95 L161.52,258.08 L161.69,258.22 L161.87,258.35 L162.05,258.49 L162.23,258.62 L162.40,258.76 L162.58,258.89 L162.76,259.03 L162.93,259.17 L163.11,259.30 L163.28,259.44 L163.46,259.57 L163.63,259.71 L163.80,259.84 L163.98,259.98 L164.15,260.11 L164.32,260.25 L164.50,260.38 L164.67,260.51 L164.84,260.64 L165.01,260.78 L165.18,260.91 L165.35,261.04 L165.52,261.16 L165.69,261.29 L165.86,261.42 L166.03,261.54 L166.20,261.67 L166.37,261.79 L166.54,261.92 L166.70,262.04 L166.87,262.16 L167.04,262.27 L167.20,262.39 L167.37,262.50 L167.54,262.62 L167.70,262.73 L167.87,262.84 L168.03,262.95 L168.19,263.05 L168.36,263.16 L168.52,263.26 L168.69,263.37 L168.85,263.47 L169.01,263.58 L169.17,263.68 L169.33,263.78 L169.50,263.89 L169.66,263.99 L169.82,264.09 L169.98,264.20 L170.14,264.30 L170.30,264.41 L170.46,264.51 L170.61,264.62 L170.77,264.73 L170.93,264.83 L171.09,264.94 L171.25,265.05 L171.40,265.17 L171.56,265.28 L171.71,265.39 L171.87,265.51 L172.03,265.63 L172.18,265.75 L172.34,265.87 L172.49,265.99 L172.64,266.12 M183.51,278.12 L183.64,278.27 L183.76,278.43 L183.89,278.58 L184.01,278.73 L184.13,278.88 L184.26,279.02 L184.38,279.17 L184.50,279.31 L184.62,279.46 L184.75,279.60 L184.87,279.74 L184.99,279.88 L185.11,280.02 L185.23,280.16 L185.35,280.29 L185.47,280.43 L185.59,280.57 L185.70,280.70 L185.82,280.84 L185.94,280.97 L186.06,281.11 L186.18,281.24 L186.29,281.38 L186.41,281.51 L186.52,281.65 L186.64,281.78 L186.75,281.91 L186.87,282.05 L186.98,282.18 L187.10,282.32 L187.21,282.45 L187.33,282.59 L187.44,282.72 L187.55,282.86 L187.66,283.00 L187.78,283.14 L187.89,283.27 L188.00,283.41 L188.11,283.55 L188.22,283.69 L188.33,283.83 L188.44,283.97 L188.55,284.12 L188.66,284.26 L188.77,284.40 L188.87,284.55 L188.98,284.70 L189.09,284.84 L189.20,284.99 L189.30,285.14 L189.41,285.29 L189.52,285.45 L189.62,285.60 L189.73,285.75 L189.83,285.91 L189.94,286.07 L190.04,286.22 L190.14,286.38 L190.25,286.55 L190.35,286.71 L190.45,286.87 L190.56,287.04 L190.66,287.20 L190.76,287.37 L190.86,287.54 L190.96,287.71 L191.06,287.89 L191.16,288.06 L191.26,288.24 L191.36,288.42 L191.46,288.60 L191.56,288.78 L191.66,288.96 L191.75,289.14 L191.85,289.33 L191.95,289.52 L192.05,289.71 L192.14,289.90 L192.24,290.09 L192.33,290.29 L192.43,290.48 L192.52,290.68 L192.62,290.88 L192.71,291.08 L192.81,291.29 L192.90,291.49 L192.99,291.70 M198.92,318.05 L198.99,318.45 L199.05,318.85 L199.12,319.26 L199.18,319.66 L199.25,320.06 L199.31,320.46 L199.37,320.86 L199.43,321.26 L199.50,321.65 L199.56,322.05 L199.62,322.45 L199.68,322.84 L199.74,323.23 L199.80,323.63 L199.86,324.02 L199.92,324.41 L199.98,324.80 L200.04,325.18 L200.10,325.57 L200.16,325.95 L200.21,326.34 L200.27,326.73 L200.33,327.13 L200.38,327.53 L200.44,327.94 L200.50,328.34 L200.55,328.75 L200.61,329.17 L200.66,329.58 L200.72,329.99 L200.77,330.41 L200.82,330.82 L200.88,331.24 L200.93,331.65 L200.98,332.06 L201.03,332.47 L201.09,332.88 L201.14,333.29 L201.19,333.69 L201.24,334.10 L201.29,334.49 L201.34,334.89 L201.39,335.28 L201.44,335.67 L201.49,336.06 L201.54,336.44 L201.58,336.81 L201.63,337.18 L201.68,337.55 L201.73,337.91 L201.77,338.27 L201.82,338.62 L201.87,338.96 L201.91,339.30 L201.96,339.63 L202.00,339.96 L202.05,340.28 L202.09,340.60 L202.13,340.91 L202.18,341.21 L202.22,341.51 L202.26,341.80 L202.30,342.08 L202.35,342.36 L202.39,342.63 L202.43,342.89 L202.47,343.15 L202.51,343.40 L202.55,343.66 L202.59,343.91 L202.63,344.15 L202.67,344.39 L202.71,344.63 L202.74,344.87 L202.78,345.10 L202.82,345.33 L202.86,345.56 L202.89,345.79 L202.93,346.01 L202.97,346.22 L203.00,346.44 L203.04,346.65 L203.07,346.86 L203.11,347.06 L203.14,347.27 L203.17,347.47 L203.21,347.66 L203.24,347.86 L203.27,348.05 L203.30,348.23 L203.34,348.42 L203.37,348.60 L203.40,348.78 L203.43,348.96 L203.46,349.13 L203.49,349.30 L203.52,349.47 L203.55,349.63 L203.58,349.80 L203.61,349.96 L203.64,350.11 L203.66,350.27 L203.69,350.42 L203.72,350.57 L203.74,350.71 L203.77,350.86 L203.80,351.00 L203.82,351.14 L203.85,351.28 L203.87,351.41 L203.90,351.54 L203.92,351.67 L203.94,351.80 L203.97,351.92 L203.99,352.04 L204.01,352.16 L204.04,352.28 L204.06,352.39 L204.08,352.51 L204.10,352.62 L204.12,352.73 L204.14,352.83 L204.16,352.93 L204.18,353.04 L204.20,353.13 L204.22,353.23 L204.24,353.33 L204.26,353.42 L204.28,353.51 L204.29,353.60 L204.31,353.68 L204.33,353.77 L204.34,353.85 L204.36,353.93 L204.37,354.01 L204.39,354.08 L204.41,354.15 L204.42,354.23 L204.43,354.30 L204.45,354.36 L204.46,354.43 L204.47,354.49 L204.49,354.55 L204.50,354.61 L204.51,354.67 L204.52,354.73 L204.53,354.78 L204.54,354.83 L204.56,354.88 L204.57,354.93 L204.58,354.98 L204.58,355.02 L204.59,355.07 L204.60,355.11 L204.61,355.15 L204.62,355.19 L204.63,355.22 L204.63,355.26 L204.64,355.29 L204.65,355.32 L204.65,355.35 L204.66,355.37 L204.66,355.40 L204.67,355.42 L204.67,355.44 L204.68,355.46 L204.68,355.48 L204.69,355.50 L204.69,355.51 L204.69,355.53 L204.69,355.54 L204.70,355.55 L204.70,355.55 L204.70,355.56 L204.70,355.56 L204.70,355.57 L204.70,355.57 L204.70,355.57 L204.70,355.57 L204.70,355.56 L204.70,355.56 L204.70,355.56 L204.70,355.55 L204.70,355.55 L204.71,355.54 L204.71,355.53 L204.71,355.53 L204.71,355.52 L204.71,355.51 L204.72,355.49 L204.72,355.48 L204.72,355.47 L204.73,355.45 L204.73,355.43 L204.73,355.41 L204.74,355.40 L204.74,355.37 L204.75,355.35 L204.75,355.33 L204.76,355.31 L204.76,355.28 L204.77,355.25 L204.77,355.22 L204.78,355.19 L204.79,355.16 L204.79,355.13 L204.80,355.09 L204.81,355.06 L204.82,355.02 L204.82,354.98 L204.83,354.94 L204.84,354.90 L204.85,354.86 L204.86,354.81 L204.87,354.77 L204.88,354.72 L204.89,354.67 L204.90,354.62 L204.91,354.57 L204.92,354.51 L204.93,354.46 L204.95,354.40 L204.96,354.34 L204.97,354.28 L204.98,354.21 L205.00,354.15 L205.01,354.08 L205.02,354.02 L205.04,353.95 L205.05,353.87 L205.07,353.80 L205.08,353.73 L205.10,353.65 L205.11,353.57 L205.13,353.49 L205.15,353.41 L205.16,353.32 L205.18,353.23 L205.20,353.14 L205.21,353.05 L205.23,352.96 L205.25,352.87 L205.27,352.77 L205.29,352.67 L205.31,352.57 L205.33,352.47 L205.35,352.36 L205.37,352.25 L205.39,352.14 L205.41,352.03 L205.43,351.92 L205.45,351.80 L205.48,351.68 L205.50,351.56 L205.52,351.44 L205.55,351.31 L205.57,351.18 L205.59,351.05 L205.62,350.92 L205.64,350.78 L205.67,350.65 L205.69,350.51 L205.72,350.36 L205.75,350.22 L205.77,350.07 L205.80,349.92 L205.83,349.77 L205.85,349.61 L205.88,349.45 L205.91,349.29 L205.94,349.13 L205.97,348.96 L206.00,348.79 L206.03,348.62 L206.06,348.44 L206.09,348.27 L206.12,348.09 L206.15,347.90 L206.18,347.72 L206.22,347.53 L206.25,347.33 L206.28,347.14 L206.32,346.94 L206.35,346.74 L206.38,346.53 L206.42,346.33 L206.45,346.12 L206.49,345.90 L206.52,345.69 L206.56,345.47 L206.60,345.24 L206.63,345.02 L206.67,344.79 L206.71,344.55 L206.74,344.32 L206.78,344.08 L206.82,343.83 L206.86,343.59 L206.90,343.34 L206.94,343.09 L206.98,342.83 L207.02,342.57 L207.06,342.30 L207.10,342.02 L207.15,341.74 L207.19,341.45 L207.23,341.15 L207.27,340.85 L207.32,340.54 L207.36,340.22 L207.40,339.90 L207.45,339.57 L207.49,339.23 L207.54,338.89 L207.59,338.54 L207.63,338.18 L207.68,337.82 L207.73,337.45 L207.77,337.08 L207.82,336.71 L207.87,336.32 L207.92,335.94 L207.97,335.55 L208.02,335.15 L208.07,334.75 L208.12,334.35 L208.17,333.94 L208.22,333.53 L208.27,333.12 L208.32,332.71 L208.37,332.30 L208.43,331.88 L208.48,331.46 L208.53,331.04 L208.59,330.63 L208.64,330.21 L208.70,329.79 L208.75,329.38 L208.81,328.96 L208.86,328.55 L208.92,328.15 L208.98,327.74 L209.03,327.34 L209.09,326.95 L209.15,326.56 L209.21,326.18 L209.27,325.80 L209.33,325.43 L209.38,325.06 L209.44,324.69 L209.51,324.31 L209.57,323.94 L209.63,323.56 L209.69,323.18 L209.75,322.81 L209.81,322.43 L209.88,322.05 L209.94,321.67 L210.00,321.29 L210.07,320.91 L210.13,320.53 L210.20,320.15 L210.26,319.76 L210.33,319.38 L210.40,319.00 L210.46,318.62 L210.53,318.24 M216.52,295.72 L216.62,295.49 L216.72,295.26 L216.82,295.04 L216.93,294.81 L217.03,294.58 L217.13,294.36 L217.23,294.14 L217.33,293.92 L217.44,293.70 L217.54,293.48 L217.64,293.26 L217.75,293.04 L217.85,292.83 L217.96,292.62 L218.07,292.40 L218.17,292.19 L218.28,291.98 L218.39,291.77 L218.49,291.57 L218.60,291.36 L218.71,291.15 L218.82,290.95 L218.93,290.75 L219.04,290.54 L219.15,290.34 L219.26,290.14 L219.37,289.94 L219.48,289.75 L219.60,289.55 L219.71,289.35 L219.82,289.16 L219.94,288.96 L220.05,288.77 L220.17,288.58 L220.28,288.38 L220.40,288.19 L220.51,288.00 L220.63,287.81 L220.75,287.62 L220.86,287.43 L220.98,287.24 L221.10,287.05 L221.22,286.86 L221.34,286.68 L221.46,286.49 L221.58,286.30 L221.70,286.12 L221.82,285.93 L221.94,285.74 L222.06,285.55 L222.19,285.37 L222.31,285.18 L222.43,284.99 L222.56,284.81 L222.68,284.62 L222.81,284.43 L222.93,284.24 L223.06,284.05 L223.19,283.86 L223.31,283.67 L223.44,283.48 L223.57,283.29 L223.70,283.10 L223.83,282.90 L223.95,282.71 L224.08,282.51 M234.20,269.21 L234.37,269.08 L234.53,268.95 L234.70,268.81 L234.86,268.68 L235.03,268.55 L235.19,268.42 L235.36,268.30 L235.53,268.17 L235.69,268.05 L235.86,267.92 L236.03,267.80 L236.20,267.68 L236.37,267.56 L236.54,267.44 L236.71,267.33 L236.88,267.21 L237.05,267.10 L237.23,266.98 L237.40,266.87 L237.57,266.76 L237.75,266.65 L237.92,266.54 L238.09,266.43 L238.27,266.32 L238.45,266.22 L238.62,266.11 L238.80,266.01 L238.98,265.90 L239.15,265.80 L239.33,265.69 L239.51,265.59 L239.69,265.49 L239.87,265.39 L240.05,265.29 L240.23,265.19 L240.41,265.09 L240.59,264.99 L240.77,264.89 L240.96,264.80 L241.14,264.70 L241.32,264.60 L241.51,264.50 L241.69,264.41 L241.88,264.31 L242.06,264.21 L242.25,264.12 L242.44,264.02 L242.62,263.93 L242.81,263.83 L243.00,263.73 L243.19,263.64 L243.38,263.54 L243.57,263.44 L243.76,263.35 L243.95,263.25 L244.14,263.15 L244.33,263.05 L244.52,262.96 L244.72,262.86 L244.91,262.76 L245.10,262.66 L245.30,262.55 L245.49,262.45 L245.69,262.35 L245.88,262.25 L246.08,262.14 L246.28,262.04 L246.48,261.93 L246.67,261.82 L246.87,261.71 L247.07,261.60 L247.27,261.49 L247.47,261.38 L247.67,261.26 L247.87,261.15 L248.07,261.03 M261.57,252.88 L261.81,252.75 L262.04,252.62 L262.28,252.49 L262.51,252.36 L262.75,252.24 L262.99,252.11 L263.22,251.99 L263.46,251.86 L263.70,251.74 L263.94,251.62 L264.18,251.49 L264.42,251.37 L264.66,251.25 L264.90,251.13 L265.14,251.02 L265.38,250.90 L265.62,250.78 L265.87,250.66 L266.11,250.55 L266.36,250.43 L266.60,250.31 L266.84,250.20 L267.09,250.08 L267.34,249.97 L267.58,249.86 L267.83,249.74 L268.08,249.63 L268.33,249.52 L268.58,249.41 L268.83,249.29 L269.08,249.18 L269.33,249.07 L269.58,248.96 L269.83,248.85 L270.08,248.74 L270.33,248.63 L270.59,248.52 L270.84,248.41 L271.09,248.30 L271.35,248.19 L271.60,248.08 L271.86,247.97 L272.12,247.86 L272.37,247.75 L272.63,247.64 L272.89,247.53 L273.15,247.42 L273.41,247.31 L273.67,247.20 L273.93,247.09 L274.19,246.98 M290.81,240.37 L291.10,240.26 L291.39,240.15 L291.69,240.04 L291.98,239.94 L292.28,239.83 L292.58,239.72 L292.87,239.61 L293.17,239.51 L293.47,239.40 L293.77,239.29 L294.07,239.19 L294.36,239.08 L294.66,238.97 L294.97,238.87 L295.27,238.76 L295.57,238.65 L295.87,238.55 L296.17,238.44 L296.48,238.34 L296.78,238.23 L297.08,238.13 L297.39,238.02 L297.70,237.91 L298.00,237.81 L298.31,237.70 L298.62,237.60 L298.92,237.50 L299.23,237.39 L299.54,237.29 L299.85,237.18 L300.16,237.08 L300.47,236.97 L300.78,236.87 L301.09,236.77 L301.40,236.66 L301.72,236.56 L302.03,236.46 L302.34,236.35 L302.66,236.25 L302.97,236.15 L303.29,236.04 L303.61,235.94 L303.92,235.84 L304.24,235.74 L304.56,235.63 M319.42,231.20 L319.77,231.11 L320.11,231.01 L320.46,230.92 L320.80,230.83 L321.15,230.73 L321.49,230.64 L321.84,230.55 L322.19,230.45 L322.53,230.36 L322.88,230.27 L323.23,230.17 L323.58,230.08 L323.93,229.99 L324.28,229.90 L324.63,229.81 L324.98,229.71 L325.33,229.62 L325.69,229.53 L326.04,229.44 L326.39,229.35 L326.75,229.26 L327.10,229.17 L327.46,229.08 L327.82,228.99 L328.17,228.90 L328.53,228.81 L328.89,228.72 L329.25,228.63 L329.60,228.54 L329.96,228.45 L330.32,228.36 L330.68,228.27 L331.05,228.19 L331.41,228.10 L331.77,228.01 L332.13,227.92 L332.50,227.84 L332.86,227.75 L333.23,227.66 L333.59,227.58 L333.96,227.49 L334.32,227.40 L334.69,227.32 L335.06,227.23 M349.83,224.04 L350.22,223.96 L350.61,223.89 L351.00,223.81 L351.39,223.73 L351.78,223.65 L352.18,223.58 L352.57,223.50 L352.96,223.43 L353.36,223.35 L353.75,223.27 L354.15,223.20 L354.55,223.12 L354.94,223.05 L355.34,222.97 L355.74,222.90 L356.14,222.83 L356.54,222.75 L356.94,222.68 L357.34,222.60 L357.74,222.53 L358.14,222.46 L358.54,222.38 L358.94,222.31 L359.35,222.24 L359.75,222.17 L360.16,222.09 L360.56,222.02 L360.97,221.95 L361.37,221.88 L361.78,221.81 L362.19,221.74 L362.60,221.67 L363.00,221.60 L363.41,221.52 L363.82,221.45 L364.23,221.38 L364.64,221.31 L365.05,221.24 L365.47,221.18 L365.88,221.11 M381.98,218.62 L382.42,218.56 L382.85,218.50 L383.29,218.44 L383.73,218.38 L384.16,218.32 L384.60,218.26 L385.04,218.20 L385.48,218.14 L385.92,218.08 L386.36,218.02 L386.80,217.96 L387.24,217.90 L387.68,217.84 L388.13,217.78 L388.57,217.72 L389.01,217.66 L389.46,217.60 L389.90,217.54 L390.35,217.48 L390.80,217.43 L391.24,217.37 L391.69,217.31 L392.14,217.25 L392.59,217.19 L393.04,217.14 L393.49,217.08 L393.94,217.02 L394.39,216.96 L394.84,216.91 L395.29,216.85 L395.74,216.79 L396.20,216.74 L396.65,216.68 M412.90,214.79 L413.38,214.74 L413.85,214.69 L414.33,214.63 L414.80,214.58 L415.28,214.53 L415.76,214.48 L416.24,214.43 L416.72,214.38 L417.20,214.32 L417.68,214.27 L418.16,214.22 L418.64,214.17 L419.12,214.12 L419.60,214.07 L420.09,214.02 L420.57,213.97 L421.06,213.92 L421.54,213.86 L422.03,213.81 L422.51,213.76 L423.00,213.71 L423.49,213.66 L423.98,213.61 L424.46,213.56 L424.95,213.51 L425.44,213.46 L425.93,213.41 L426.42,213.36 L426.92,213.31 L427.41,213.26 L427.90,213.21 L428.39,213.16 M445.01,211.53 L445.52,211.49 L446.03,211.44 L446.55,211.39 L447.06,211.34 L447.58,211.29 L448.10,211.25 L448.61,211.20 L449.13,211.15 L449.65,211.10 L450.17,211.06 L450.69,211.01 L451.21,210.96 L451.73,210.91 L452.25,210.87 L452.77,210.82 L453.30,210.77 L453.82,210.73 L454.34,210.68 L454.87,210.63 L455.39,210.59 L455.92,210.54 L456.44,210.49 L456.97,210.45 L457.50,210.40 L458.03,210.35 L458.55,210.31 L459.08,210.26 L459.61,210.21 L460.14,210.17 L460.67,210.12 M463.87,209.85 L464.41,209.80 L464.94,209.76 L465.48,209.71 L466.02,209.67 L466.55,209.62 L467.09,209.58 L467.63,209.53 L468.17,209.49 L468.71,209.44 L469.25,209.40 L469.79,209.35 L470.33,209.31 L470.88,209.26 L471.42,209.22 L471.96,209.18 L472.51,209.13 L473.05,209.09 L473.60,209.04 L474.14,209.00 L474.69,208.96 L475.24,208.91 L475.79,208.87 L476.33,208.82 L476.88,208.78 L477.43,208.74 L477.98,208.69 L478.53,208.65 L479.09,208.61 M495.34,207.40 L495.91,207.36 L496.48,207.32 L497.05,207.28 L497.63,207.24 L498.20,207.20 L498.77,207.16 L499.34,207.12 L499.92,207.08 L500.49,207.04 L501.07,207.00 L501.64,206.96 L502.22,206.92 L502.80,206.89 L503.37,206.85 L503.95,206.81 L504.53,206.77 L505.11,206.73 L505.69,206.69 L506.27,206.65 L506.85,206.62 L507.43,206.58 L508.02,206.54 L508.60,206.50 L509.18,206.46 L509.77,206.43 L510.35,206.39 L510.94,206.35 M527.58,205.35 L528.19,205.32 L528.79,205.28 L529.39,205.25 L530.00,205.22 L530.60,205.18 L531.21,205.15 L531.82,205.12 L532.43,205.08 L533.03,205.05 L533.64,205.02 L534.25,204.99 L534.86,204.95 L535.47,204.92 L536.08,204.89 L536.70,204.86 L537.31,204.82 L537.92,204.79 L538.54,204.76 L539.15,204.73 L539.76,204.70 L540.38,204.67 L541.00,204.63 L541.61,204.60 L542.23,204.57 L542.85,204.54 M559.77,203.76 L560.41,203.73 L561.04,203.70 L561.68,203.68 L562.32,203.65 L562.95,203.62 L563.59,203.60 L564.23,203.57 L564.87,203.55 L565.51,203.52 L566.15,203.49 L566.79,203.47 L567.44,203.44 L568.08,203.42 L568.72,203.39 L569.37,203.37 L570.01,203.34 L570.66,203.32 L571.30,203.29 L571.95,203.27 L572.60,203.25 L573.24,203.22 L573.89,203.20 L574.54,203.17 L575.19,203.15 M591.64,202.61 L592.30,202.59 L592.97,202.57 L593.64,202.55 L594.30,202.53 L594.97,202.51 L595.64,202.49 L596.31,202.48 L596.98,202.46 L597.65,202.44 L598.32,202.42 L598.99,202.40 L599.67,202.39 L600.34,202.37 L601.02,202.35 L601.69,202.33 L602.36,202.32 L603.04,202.30 L603.72,202.28 L604.39,202.27 L605.07,202.25 L605.75,202.23 L606.43,202.22 L607.11,202.20 M623.61,201.87 L624.30,201.86 L625.00,201.85 L625.70,201.84 L626.39,201.83 L627.09,201.82 L627.79,201.81 L628.49,201.80 L629.19,201.79 L629.89,201.78 L630.59,201.77 L631.29,201.76 L631.99,201.75 L632.70,201.74 L633.40,201.73 L634.11,201.72 L634.81,201.71 L635.52,201.70 L636.22,201.69 L636.93,201.68 L637.64,201.68 L638.34,201.67 L639.05,201.66 M656.25,201.54 L656.97,201.53 L657.70,201.53 L658.42,201.53 L659.15,201.52 L659.88,201.52 L660.60,201.52 L661.33,201.52 L662.06,201.52 L662.79,201.52 L663.52,201.51 L664.25,201.51 L664.98,201.51 L665.71,201.51 L666.45,201.52 L667.18,201.52 L667.91,201.52 L668.65,201.52 L669.38,201.52 L670.12,201.52 L670.85,201.52 L671.59,201.52 M688.72,201.60 L689.47,201.61 L690.22,201.61 L690.98,201.62 L691.73,201.63 L692.49,201.63 L693.24,201.64 L694.00,201.65 L694.76,201.66 L695.51,201.66 L696.27,201.67 L697.03,201.68 L697.79,201.69 L698.55,201.70 L699.31,201.71 L700.07,201.71 L700.83,201.72 L701.60,201.73 L702.36,201.74 L703.12,201.75 L703.89,201.76 M720.87,202.04 L721.65,202.06 L722.43,202.08 L723.21,202.09 L723.99,202.11 L724.77,202.12 L725.55,202.14 L726.33,202.16 L727.12,202.17 L727.90,202.19 L728.69,202.21 L729.47,202.23 L730.26,202.24 L731.05,202.26 L731.83,202.28 L732.62,202.30 L733.41,202.32 L734.20,202.34 L734.99,202.36 L735.78,202.37 L736.57,202.39" stroke="#ff0000" stroke-width="3.7"/>
<path d="M158.80,257.52 L158.98,257.65 L159.16,257.77 L159.35,257.90 L159.53,258.03 L159.71,258.15 L159.89,258.28 L160.08,258.40 L160.26,258.53 L160.44,258.65 L160.62,258.77 L160.80,258.89 L160.98,259.01 L161.16,259.13 L161.34,259.25 L161.52,259.37 L161.69,259.48 L161.87,259.60 L162.05,259.72 L162.23,259.84 L162.40,259.95 L162.58,260.07 L162.76,260.19 L162.93,260.30 L163.11,260.42 L163.28,260.54 L163.46,260.66 L163.63,260.78 L163.80,260.89 L163.98,261.01 L164.15,261.13 L164.32,261.25 L164.50,261.37 L164.67,261.49 L164.84,261.61 L165.01,261.73 L165.18,261.86 L165.35,261.98 L165.52,262.10 L165.69,262.23 L165.86,262.35 L166.03,262.48 L166.20,262.61 L166.37,262.74 L166.54,262.86 L166.70,263.00 L166.87,263.13 L167.04,263.26 L167.20,263.39 L167.37,263.53 L167.54,263.67 L167.70,263.80 L167.87,263.94 L168.03,264.08 L168.19,264.22 L168.36,264.36 L168.52,264.50 L168.69,264.64 L168.85,264.79 L169.01,264.93 L169.17,265.07 L169.33,265.22 L169.50,265.36 L169.66,265.50 L169.82,265.65 L169.98,265.79 L170.14,265.94 L170.30,266.09 L170.46,266.23 L170.61,266.38 L170.77,266.53 L170.93,266.68 L171.09,266.83 L171.25,266.98 L171.40,267.13 L171.56,267.28 L171.71,267.43 L171.87,267.58 L172.03,267.73 L172.18,267.89 L172.34,268.04 L172.49,268.19 L172.64,268.35 L172.80,268.50 L172.95,268.66 L173.10,268.81 L173.26,268.97 L173.41,269.12 L173.56,269.28 L173.71,269.44 L173.86,269.60 L174.01,269.75 L174.16,269.91 L174.31,270.07 L174.46,270.23 L174.61,270.39 L174.76,270.55 L174.91,270.71 L175.06,270.88 L175.20,271.04 L175.35,271.20 L175.50,271.36 L175.65,271.53 L175.79,271.69 L175.94,271.85 L176.08,272.02 L176.23,272.18 L176.37,272.35 L176.52,272.51 L176.66,272.68 L176.80,272.85 L176.95,273.01 L177.09,273.18 L177.23,273.35 L177.37,273.52 L177.52,273.68 L177.66,273.85 L177.80,274.02 L177.94,274.19 L178.08,274.36 L178.22,274.53 L178.36,274.70 L178.50,274.87 L178.64,275.04 L178.78,275.22 L178.91,275.39 L179.05,275.56 L179.19,275.73 L179.33,275.91 L179.46,276.08 L179.60,276.25 L179.73,276.43 L179.87,276.60 L180.01,276.78 L180.14,276.95 L180.27,277.13 L180.41,277.30 L180.54,277.48 L180.68,277.66 L180.81,277.84 L180.94,278.02 L181.07,278.20 L181.21,278.38 L181.34,278.57 L181.47,278.75 L181.60,278.94 L181.73,279.13 L181.86,279.31 L181.99,279.50 L182.12,279.70 L182.25,279.89 L182.37,280.08 L182.50,280.28 L182.63,280.47 L182.76,280.67 L182.88,280.86 L183.01,281.06 L183.14,281.26 L183.26,281.46 L183.39,281.66 L183.51,281.87 L183.64,282.07 L183.76,282.27 L183.89,282.48 L184.01,282.68 L184.13,282.89 L184.26,283.09 L184.38,283.30 L184.50,283.51 L184.62,283.72 L184.75,283.93 L184.87,284.14 L184.99,284.35 L185.11,284.56 L185.23,284.77 L185.35,284.98 L185.47,285.20 L185.59,285.41 L185.70,285.63 L185.82,285.84 L185.94,286.06 L186.06,286.27 L186.18,286.49 L186.29,286.71 L186.41,286.92 L186.52,287.14 L186.64,287.36 L186.75,287.58 L186.87,287.80 L186.98,288.02 L187.10,288.24 L187.21,288.47 L187.33,288.69 L187.44,288.92 L187.55,289.15 L187.66,289.38 L187.78,289.61 L187.89,289.85 L188.00,290.08 L188.11,290.31 L188.22,290.55 L188.33,290.79 L188.44,291.02 L188.55,291.26 L188.66,291.50 L188.77,291.74 L188.87,291.98 L188.98,292.23 L189.09,292.47 L189.20,292.71 L189.30,292.96 L189.41,293.20 L189.52,293.45 L189.62,293.69 L189.73,293.94 L189.83,294.19 L189.94,294.43 L190.04,294.68 L190.14,294.93 L190.25,295.18 L190.35,295.43 L190.45,295.68 L190.56,295.93 L190.66,296.17 L190.76,296.42 L190.86,296.67 L190.96,296.92 L191.06,297.17 L191.16,297.42 L191.26,297.67 L191.36,297.92 L191.46,298.17 L191.56,298.42 L191.66,298.67 L191.75,298.92 L191.85,299.17 L191.95,299.42 L192.05,299.66 L192.14,299.90 L192.24,300.15 L192.33,300.39 L192.43,300.63 L192.52,300.87 L192.62,301.11 L192.71,301.35 L192.81,301.59 L192.90,301.84 L192.99,302.09 L193.09,302.34 L193.18,302.59 L193.27,302.85 L193.36,303.12 L193.45,303.38 L193.54,303.65 L193.63,303.93 L193.72,304.21 L193.81,304.50 L193.90,304.79 L193.99,305.09 L194.08,305.40 L194.17,305.71 L194.26,306.03 L194.35,306.36 L194.43,306.70 L194.52,307.05 L194.61,307.42 L194.69,307.80 L194.78,308.19 L194.86,308.59 L194.95,309.00 L195.03,309.42 L195.12,309.85 L195.20,310.29 L195.28,310.74 L195.37,311.19 L195.45,311.65 L195.53,312.12 L195.61,312.60 L195.70,313.07 L195.78,313.56 L195.86,314.05 L195.94,314.54 L196.02,315.03 L196.10,315.53 L196.18,316.04 L196.26,316.54 L196.34,317.05 L196.41,317.55 L196.49,318.06 L196.57,318.57 L196.65,319.08 L196.72,319.59 L196.80,320.10 L196.88,320.61 L196.95,321.12 L197.03,321.63 L197.10,322.14 L197.18,322.64 L197.25,323.14 L197.33,323.64 L197.40,324.14 L197.47,324.63 L197.55,325.12 L197.62,325.61 L197.69,326.09 L197.76,326.57 L197.83,327.05 L197.90,327.52 L197.97,327.99 L198.05,328.45 L198.11,328.90 L198.18,329.36 L198.25,329.80 L198.32,330.24 L198.39,330.68 L198.46,331.11 L198.53,331.53 L198.59,331.95 L198.66,332.36 L198.73,332.76 L198.79,333.16 L198.86,333.55 L198.92,333.93 L198.99,334.31 L199.05,334.67 L199.12,335.02 L199.18,335.36 L199.25,335.69 L199.31,336.01 L199.37,336.32 L199.43,336.63 L199.50,336.92 L199.56,337.22 L199.62,337.51 L199.68,337.80 L199.74,338.09 L199.80,338.38 L199.86,338.67 L199.92,338.96 L199.98,339.26 L200.04,339.55 L200.10,339.86 L200.16,340.17 L200.21,340.48 L200.27,340.81 L200.33,341.14 L200.38,341.48 L200.44,341.83 L200.50,342.19 L200.55,342.56 L200.61,342.94 L200.66,343.33 L200.72,343.73 L200.77,344.15 L200.82,344.58 L200.88,345.04 L200.93,345.52 L200.98,346.04 L201.03,346.58 L201.09,347.14 L201.14,347.73 L201.19,348.34 L201.24,348.98 L201.29,349.63 L201.34,350.29 L201.39,350.98 L201.44,351.68 L201.49,352.39 L201.54,353.12 L201.58,353.86 L201.63,354.60 L201.68,355.36 L201.73,356.12 L201.77,356.90 L201.82,357.67 L201.87,358.46 L201.91,359.24 L201.96,360.04 L202.00,360.83 L202.05,361.62 L202.09,362.42 L202.13,363.21 L202.18,364.01 L202.22,364.80 L202.26,365.59 L202.30,366.38 L202.35,367.16 L202.39,367.94 L202.43,368.72 L202.47,369.49 L202.51,370.26 L202.55,371.02 L202.59,371.77 L202.63,372.52 L202.67,373.26 L202.71,373.99 L202.74,374.71 L202.78,375.43 L202.82,376.13 L202.86,376.83 L202.89,377.52 L202.93,378.19 L202.97,378.86 L203.00,379.52 L203.04,380.17 L203.07,380.81 L203.11,381.43 L203.14,382.05 L203.17,382.65 L203.21,383.25 L203.24,383.83 L203.27,384.40 L203.30,384.96 L203.34,385.51 L203.37,386.05 L203.40,386.59 L203.43,387.12 L203.46,387.65 L203.49,388.17 L203.52,388.69 L203.55,389.20 L203.58,389.71 L203.61,390.21 L203.64,390.71 L203.66,391.20 L203.69,391.68 L203.72,392.16 L203.74,392.64 L203.77,393.10 L203.80,393.57 L203.82,394.02 L203.85,394.47 L203.87,394.92 L203.90,395.36 L203.92,395.79 L203.94,396.22 L203.97,396.64 L203.99,397.06 L204.01,397.47 L204.04,397.87 L204.06,398.27 L204.08,398.66 L204.10,399.04 L204.12,399.42 L204.14,399.79 L204.16,400.16 L204.18,400.52 L204.20,400.87 L204.22,401.21 L204.24,401.56 L204.26,401.89 L204.28,402.22 L204.29,402.54 L204.31,402.85 L204.33,403.16 L204.34,403.46 L204.36,403.75 L204.37,404.04 L204.39,404.32 L204.41,404.60 L204.42,404.87 L204.43,405.13 L204.45,405.38 L204.46,405.63 L204.47,405.87 L204.49,406.11 L204.50,406.34 L204.51,406.56 L204.52,406.77 L204.53,406.98 L204.54,407.18 L204.56,407.38 L204.57,407.57 L204.58,407.75 L204.58,407.92 L204.59,408.09 L204.60,408.25 L204.61,408.40 L204.62,408.55 L204.63,408.69 L204.63,408.83 L204.64,408.95 L204.65,409.07 L204.65,409.19 L204.66,409.29 L204.66,409.39 L204.67,409.48 L204.67,409.57 L204.68,409.65 L204.68,409.72 L204.69,409.79 L204.69,409.84 L204.69,409.90 L204.69,409.94 L204.70,409.98 L204.70,410.01 L204.70,410.03 L204.70,410.05 L204.70,410.06 L204.70,410.06 L204.70,410.06 L204.70,410.06 L204.70,410.05 L204.70,410.04 L204.70,410.03 L204.70,410.01 L204.70,409.99 L204.71,409.96 L204.71,409.93 L204.71,409.90 L204.71,409.86 L204.71,409.81 L204.72,409.77 L204.72,409.71 L204.72,409.66 L204.73,409.59 L204.73,409.53 L204.73,409.46 L204.74,409.38 L204.74,409.30 L204.75,409.21 L204.75,409.12 L204.76,409.02 L204.76,408.92 L204.77,408.81 L204.77,408.70 L204.78,408.58 L204.79,408.46 L204.79,408.33 L204.80,408.20 L204.81,408.06 L204.82,407.91 L204.82,407.76 L204.83,407.60 L204.84,407.44 L204.85,407.28 L204.86,407.10 L204.87,406.92 L204.88,406.74 L204.89,406.55 L204.90,406.36 L204.91,406.15 L204.92,405.95 L204.93,405.73 L204.95,405.52 L204.96,405.29 L204.97,405.06 L204.98,404.83 L205.00,404.58 L205.01,404.34 L205.02,404.08 L205.04,403.82 L205.05,403.56 L205.07,403.29 L205.08,403.01 L205.10,402.73 L205.11,402.44 L205.13,402.15 L205.15,401.84 L205.16,401.54 L205.18,401.23 L205.20,400.91 L205.21,400.58 L205.23,400.25 L205.25,399.92 L205.27,399.57 L205.29,399.23 L205.31,398.87 L205.33,398.51 L205.35,398.15 L205.37,397.78 L205.39,397.40 L205.41,397.01 L205.43,396.63 L205.45,396.23 L205.48,395.83 L205.50,395.42 L205.52,395.01 L205.55,394.59 L205.57,394.17 L205.59,393.74 L205.62,393.30 L205.64,392.86 L205.67,392.41 L205.69,391.96 L205.72,391.50 L205.75,391.04 L205.77,390.57 L205.80,390.10 L205.83,389.62 L205.85,389.13 L205.88,388.64 L205.91,388.14 L205.94,387.64 L205.97,387.14 L206.00,386.63 L206.03,386.11 L206.06,385.59 L206.09,385.06 L206.12,384.52 L206.15,383.97 L206.18,383.41 L206.22,382.84 L206.25,382.25 L206.28,381.66 L206.32,381.06 L206.35,380.44 L206.38,379.82 L206.42,379.18 L206.45,378.53 L206.49,377.88 L206.52,377.21 L206.56,376.54 L206.60,375.85 L206.63,375.16 L206.67,374.45 L206.71,373.74 L206.74,373.02 L206.78,372.29 L206.82,371.56 L206.86,370.81 L206.90,370.06 L206.94,369.31 L206.98,368.55 L207.02,367.78 L207.06,367.01 L207.10,366.23 L207.15,365.45 L207.19,364.67 L207.23,363.88 L207.27,363.09 L207.32,362.30 L207.36,361.51 L207.40,360.72 L207.45,359.93 L207.49,359.15 L207.54,358.36 L207.59,357.58 L207.63,356.81 L207.68,356.04 L207.73,355.28 L207.77,354.52 L207.82,353.77 L207.87,353.04 L207.92,352.31 L207.97,351.60 L208.02,350.90 L208.07,350.21 L208.12,349.54 L208.17,348.89 L208.22,348.26 L208.27,347.65 L208.32,347.06 L208.37,346.49 L208.43,345.95 L208.48,345.43 L208.53,344.95 L208.59,344.49 L208.64,344.06 L208.70,343.64 L208.75,343.23 L208.81,342.83 L208.86,342.45 L208.92,342.07 L208.98,341.70 L209.03,341.35 L209.09,341.00 L209.15,340.66 L209.21,340.32 L209.27,340.00 L209.33,339.68 L209.38,339.36 L209.44,339.05 L209.51,338.75 L209.57,338.44 L209.63,338.14 L209.69,337.85 L209.75,337.55 L209.81,337.25 L209.88,336.95 L209.94,336.65 L210.00,336.35 L210.07,336.04 L210.13,335.72 L210.20,335.40 L210.26,335.07 L210.33,334.73 L210.40,334.38 L210.46,334.01 L210.53,333.65 L210.60,333.28 L210.67,332.90 L210.74,332.53 L210.81,332.14 L210.87,331.76 L210.94,331.37 L211.01,330.97 L211.09,330.58 L211.16,330.17 L211.23,329.77 L211.30,329.36 L211.37,328.95 L211.45,328.54 L211.52,328.12 L211.59,327.70 L211.67,327.27 L211.74,326.85 L211.82,326.42 L211.89,325.98 L211.97,325.55 L212.04,325.11 L212.12,324.67 L212.20,324.23 L212.28,323.79 L212.35,323.34 L212.43,322.90 L212.51,322.45 L212.59,322.00 L212.67,321.54 L212.75,321.09 L212.83,320.64 L212.91,320.18 L212.99,319.73 L213.08,319.27 L213.16,318.82 L213.24,318.36 L213.33,317.91 L213.41,317.45 L213.49,317.00 L213.58,316.54 L213.66,316.09 L213.75,315.64 L213.83,315.19 L213.92,314.74 L214.01,314.30 L214.10,313.85 L214.18,313.41 L214.27,312.97 L214.36,312.54 L214.45,312.11 L214.54,311.68 L214.63,311.25 L214.72,310.83 L214.81,310.42 L214.90,310.01 L214.99,309.60 L215.09,309.20 L215.18,308.80 L215.27,308.42 L215.37,308.03 L215.46,307.66 L215.55,307.29 L215.65,306.93 L215.74,306.58 L215.84,306.23 L215.94,305.90 L216.03,305.56 L216.13,305.23 L216.23,304.90 L216.33,304.57 L216.43,304.24 L216.52,303.92 L216.62,303.60 L216.72,303.28 L216.82,302.97 L216.93,302.65 L217.03,302.34 L217.13,302.03 L217.23,301.73 L217.33,301.42 L217.44,301.12 L217.54,300.82 L217.64,300.53 L217.75,300.23 L217.85,299.94 L217.96,299.65 L218.07,299.36 L218.17,299.07 L218.28,298.79 L218.39,298.51 L218.49,298.23 L218.60,297.95 L218.71,297.67 L218.82,297.40 L218.93,297.12 L219.04,296.85 L219.15,296.58 L219.26,296.32 L219.37,296.05 L219.48,295.79 L219.60,295.52 L219.71,295.26 L219.82,295.00 L219.94,294.74 L220.05,294.48 L220.17,294.22 L220.28,293.97 L220.40,293.71 L220.51,293.46 L220.63,293.20 L220.75,292.95 L220.86,292.70 L220.98,292.45 L221.10,292.20 L221.22,291.95 L221.34,291.70 L221.46,291.46 L221.58,291.21 L221.70,290.97 L221.82,290.73 L221.94,290.49 L222.06,290.26 L222.19,290.02 L222.31,289.79 L222.43,289.55 L222.56,289.32 L222.68,289.09 L222.81,288.87 L222.93,288.64 L223.06,288.41 L223.19,288.19 L223.31,287.96 L223.44,287.74 L223.57,287.52 L223.70,287.30 L223.83,287.08 L223.95,286.86 L224.08,286.64 L224.21,286.43 L224.35,286.21 L224.48,286.00 L224.61,285.78 L224.74,285.57 L224.87,285.36 L225.01,285.14 L225.14,284.93 L225.27,284.72 L225.41,284.51 L225.54,284.30 L225.68,284.09 L225.81,283.88 L225.95,283.66 L226.09,283.45 L226.23,283.24 L226.36,283.03 L226.50,282.82 L226.64,282.61 L226.78,282.40 L226.92,282.20 L227.06,281.99 L227.20,281.78 L227.34,281.57 L227.48,281.36 L227.63,281.16 L227.77,280.95 L227.91,280.75 L228.06,280.54 L228.20,280.33 L228.34,280.13 L228.49,279.92 L228.64,279.72 L228.78,279.52 L228.93,279.31 L229.08,279.11 L229.22,278.91 L229.37,278.71 L229.52,278.51 L229.67,278.30 L229.82,278.10 L229.97,277.90 L230.12,277.70 L230.27,277.51 L230.42,277.31 L230.57,277.11 L230.73,276.91 L230.88,276.71 L231.03,276.52 L231.19,276.32 L231.34,276.13 L231.49,275.93 L231.65,275.74 L231.81,275.54 L231.96,275.35 L232.12,275.16 L232.28,274.96 L232.43,274.77 L232.59,274.58 L232.75,274.39 L232.91,274.20 L233.07,274.01 L233.23,273.82 L233.39,273.63 L233.55,273.45 L233.71,273.26 L233.88,273.07 L234.04,272.89 L234.20,272.70 L234.37,272.52 L234.53,272.33 L234.70,272.15 L234.86,271.96 L235.03,271.78 L235.19,271.60 L235.36,271.41 L235.53,271.23 L235.69,271.05 L235.86,270.87 L236.03,270.69 L236.20,270.51 L236.37,270.32 L236.54,270.14 L236.71,269.97 L236.88,269.79 L237.05,269.61 L237.23,269.43 L237.40,269.25 L237.57,269.07 L237.75,268.90 L237.92,268.72 L238.09,268.54 L238.27,268.37 L238.45,268.19 L238.62,268.01 L238.80,267.84 L238.98,267.66 L239.15,267.49 L239.33,267.31 L239.51,267.14 L239.69,266.96 L239.87,266.79 L240.05,266.62 L240.23,266.44 L240.41,266.27 L240.59,266.10 L240.77,265.92 L240.96,265.75 L241.14,265.58 L241.32,265.40 L241.51,265.23 L241.69,265.06 L241.88,264.89 L242.06,264.72 L242.25,264.54 L242.44,264.37 L242.62,264.20 L242.81,264.03 L243.00,263.86 L243.19,263.68 L243.38,263.51 L243.57,263.34 L243.76,263.17 L243.95,263.00 L244.14,262.82 L244.33,262.65 L244.52,262.48 L244.72,262.31 L244.91,262.14 L245.10,261.97 L245.30,261.79 L245.49,261.62 L245.69,261.45 L245.88,261.28 L246.08,261.11 L246.28,260.94 L246.48,260.78 L246.67,260.61 L246.87,260.44 L247.07,260.27 L247.27,260.11 L247.47,259.94 L247.67,259.78 L247.87,259.61 L248.07,259.45 L248.27,259.29 L248.48,259.12 L248.68,258.96 L248.88,258.80 L249.09,258.64 L249.29,258.49 L249.50,258.33 L249.70,258.17 L249.91,258.02 L250.12,257.87 L250.32,257.72 L250.53,257.57 L250.74,257.42 L250.95,257.27 L251.16,257.13 L251.37,256.99 L251.58,256.85 L251.79,256.72 L252.00,256.58 L252.21,256.45 L252.42,256.32 L252.64,256.18 L252.85,256.05 L253.06,255.92 L253.28,255.79 L253.49,255.65 L253.71,255.51 L253.92,255.38 L254.14,255.24 L254.36,255.10 L254.57,254.95 L254.79,254.80 L255.01,254.65 L255.23,254.50 L255.45,254.34 L255.67,254.18 L255.89,254.02 L256.11,253.85 L256.33,253.69 L256.55,253.52 L256.78,253.35 L257.00,253.17 L257.22,253.00 L257.45,252.82 L257.67,252.64 L257.90,252.46 L258.12,252.28 L258.35,252.10 L258.58,251.92 L258.80,251.73 L259.03,251.55 L259.26,251.36 L259.49,251.18 L259.72,250.99 L259.95,250.81 L260.18,250.62 L260.41,250.43 L260.64,250.25 L260.87,250.06 L261.11,249.88 L261.34,249.70 L261.57,249.51 L261.81,249.33 L262.04,249.15 L262.28,248.97 L262.51,248.80 L262.75,248.62 L262.99,248.45 L263.22,248.28 L263.46,248.11 L263.70,247.94 L263.94,247.78 L264.18,247.62 L264.42,247.46 L264.66,247.30 L264.90,247.14 L265.14,246.98 L265.38,246.83 L265.62,246.67 L265.87,246.52 L266.11,246.37 L266.36,246.21 L266.60,246.06 L266.84,245.91 L267.09,245.76 L267.34,245.61 L267.58,245.46 L267.83,245.31 L268.08,245.16 L268.33,245.01 L268.58,244.86 L268.83,244.72 L269.08,244.57 L269.33,244.42 L269.58,244.28 L269.83,244.13 L270.08,243.99 L270.33,243.85 L270.59,243.70 L270.84,243.56 L271.09,243.42 L271.35,243.27 L271.60,243.13 L271.86,242.99 L272.12,242.85 L272.37,242.70 L272.63,242.56 L272.89,242.42 L273.15,242.28 L273.41,242.14 L273.67,242.00 L273.93,241.86 L274.19,241.72 L274.45,241.57 L274.71,241.43 L274.97,241.29 L275.23,241.15 L275.50,241.01 L275.76,240.87 L276.03,240.73 L276.29,240.59 L276.56,240.45 L276.82,240.31 L277.09,240.17 L277.36,240.03 L277.62,239.89 L277.89,239.75 L278.16,239.61 L278.43,239.47 L278.70,239.33 L278.97,239.19 L279.24,239.05 L279.51,238.92 L279.78,238.78 L280.05,238.64 L280.33,238.50 L280.60,238.37 L280.88,238.23 L281.15,238.09 L281.43,237.96 L281.70,237.82 L281.98,237.68 L282.25,237.55 L282.53,237.41 L282.81,237.28 L283.09,237.14 L283.37,237.01 L283.65,236.88 L283.93,236.74 L284.21,236.61 L284.49,236.48 L284.77,236.34 L285.05,236.21 L285.33,236.08 L285.62,235.95 L285.90,235.81 L286.18,235.68 L286.47,235.55 L286.75,235.42 L287.04,235.29 L287.33,235.16 L287.61,235.03 L287.90,234.90 L288.19,234.77 L288.48,234.64 L288.77,234.51 L289.06,234.38 L289.35,234.25 L289.64,234.12 L289.93,233.99 L290.22,233.87 L290.51,233.74 L290.81,233.61 L291.10,233.48 L291.39,233.36 L291.69,233.23 L291.98,233.10 L292.28,232.98 L292.58,232.85 L292.87,232.73 L293.17,232.60 L293.47,232.47 L293.77,232.35 L294.07,232.23 L294.36,232.10 L294.66,231.98 L294.97,231.85 L295.27,231.73 L295.57,231.61 L295.87,231.48 L296.17,231.36 L296.48,231.24 L296.78,231.12 L297.08,231.00 L297.39,230.88 L297.70,230.75 L298.00,230.63 L298.31,230.51 L298.62,230.39 L298.92,230.27 L299.23,230.15 L299.54,230.03 L299.85,229.92 L300.16,229.80 L300.47,229.68 L300.78,229.56 L301.09,229.44 L301.40,229.33 L301.72,229.21 L302.03,229.09 L302.34,228.97 L302.66,228.86 L302.97,228.74 L303.29,228.63 L303.61,228.51 L303.92,228.40 L304.24,228.28 L304.56,228.17 L304.87,228.05 L305.19,227.94 L305.51,227.82 L305.83,227.71 L306.15,227.60 L306.47,227.48 L306.80,227.37 L307.12,227.26 L307.44,227.15 L307.76,227.03 L308.09,226.92 L308.41,226.81 L308.74,226.70 L309.06,226.59 L309.39,226.48 L309.71,226.37 L310.04,226.26 L310.37,226.15 L310.70,226.04 L311.03,225.93 L311.35,225.82 L311.68,225.71 L312.01,225.61 L312.35,225.50 L312.68,225.39 L313.01,225.28 L313.34,225.18 L313.68,225.07 L314.01,224.96 L314.34,224.86 L314.68,224.75 L315.01,224.64 L315.35,224.54 L315.69,224.43 L316.02,224.33 L316.36,224.22 L316.70,224.12 L317.04,224.02 L317.38,223.91 L317.72,223.81 L318.06,223.70 L318.40,223.60 L318.74,223.50 L319.08,223.40 L319.42,223.29 L319.77,223.19 L320.11,223.09 L320.46,222.99 L320.80,222.89 L321.15,222.78 L321.49,222.68 L321.84,222.58 L322.19,222.48 L322.53,222.38 L322.88,222.28 L323.23,222.18 L323.58,222.08 L323.93,221.98 L324.28,221.88 L324.63,221.79 L324.98,221.69 L325.33,221.59 L325.69,221.49 L326.04,221.39 L326.39,221.30 L326.75,221.20 L327.10,221.10 L327.46,221.00 L327.82,220.91 L328.17,220.81 L328.53,220.71 L328.89,220.62 L329.25,220.52 L329.60,220.43 L329.96,220.33 L330.32,220.23 L330.68,220.14 L331.05,220.04 L331.41,219.95 L331.77,219.85 L332.13,219.76 L332.50,219.66 L332.86,219.57 L333.23,219.47 L333.59,219.38 L333.96,219.29 L334.32,219.19 L334.69,219.10 L335.06,219.01 L335.42,218.91 L335.79,218.82 L336.16,218.73 L336.53,218.63 L336.90,218.54 L337.27,218.45 L337.64,218.36 L338.02,218.26 L338.39,218.17 L338.76,218.08 L339.13,217.99 L339.51,217.90 L339.88,217.81 L340.26,217.72 L340.64,217.62 L341.01,217.53 L341.39,217.44 L341.77,217.35 L342.14,217.26 L342.52,217.17 L342.90,217.08 L343.28,216.99 L343.66,216.90 L344.04,216.81 L344.43,216.72 L344.81,216.63 L345.19,216.54 L345.57,216.45 L345.96,216.36 L346.34,216.27 L346.73,216.18 L347.11,216.09 L347.50,216.00 L347.89,215.91 L348.27,215.82 L348.66,215.73 L349.05,215.64 L349.44,215.55 L349.83,215.46 L350.22,215.38 L350.61,215.29 L351.00,215.20 L351.39,215.11 L351.78,215.02 L352.18,214.93 L352.57,214.85 L352.96,214.76 L353.36,214.67 L353.75,214.58 L354.15,214.49 L354.55,214.41 L354.94,214.32 L355.34,214.23 L355.74,214.15 L356.14,214.06 L356.54,213.97 L356.94,213.88 L357.34,213.80 L357.74,213.71 L358.14,213.63 L358.54,213.54 L358.94,213.45 L359.35,213.37 L359.75,213.28 L360.16,213.19 L360.56,213.11 L360.97,213.02 L361.37,212.94 L361.78,212.85 L362.19,212.77 L362.60,212.68 L363.00,212.60 L363.41,212.51 L363.82,212.43 L364.23,212.34 L364.64,212.26 L365.05,212.17 L365.47,212.09 L365.88,212.01 L366.29,211.92 L366.71,211.84 L367.12,211.76 L367.53,211.67 L367.95,211.59 L368.37,211.51 L368.78,211.42 L369.20,211.34 L369.62,211.26 L370.04,211.17 L370.45,211.09 L370.87,211.01 L371.29,210.93 L371.71,210.84 L372.14,210.76 L372.56,210.68 L372.98,210.60 L373.40,210.52 L373.83,210.44 L374.25,210.35 L374.68,210.27 L375.10,210.19 L375.53,210.11 L375.95,210.03 L376.38,209.95 L376.81,209.87 L377.24,209.79 L377.66,209.71 L378.09,209.63 L378.52,209.55 L378.95,209.47 L379.38,209.39 L379.82,209.31 L380.25,209.23 L380.68,209.15 L381.11,209.07 L381.55,208.99 L381.98,208.92 L382.42,208.84 L382.85,208.76 L383.29,208.68 L383.73,208.60 L384.16,208.52 L384.60,208.45 L385.04,208.37 L385.48,208.29 L385.92,208.21 L386.36,208.14 L386.80,208.06 L387.24,207.98 L387.68,207.91 L388.13,207.83 L388.57,207.75 L389.01,207.68 L389.46,207.60 L389.90,207.53 L390.35,207.45 L390.80,207.37 L391.24,207.30 L391.69,207.22 L392.14,207.15 L392.59,207.07 L393.04,207.00 L393.49,206.92 L393.94,206.85 L394.39,206.78 L394.84,206.70 L395.29,206.63 L395.74,206.55 L396.20,206.48 L396.65,206.41 L397.10,206.33 L397.56,206.26 L398.01,206.19 L398.47,206.11 L398.93,206.04 L399.38,205.97 L399.84,205.90 L400.30,205.82 L400.76,205.75 L401.22,205.68 L401.68,205.61 L402.14,205.54 L402.60,205.47 L403.06,205.39 L403.53,205.32 L403.99,205.25 L404.45,205.18 L404.92,205.11 L405.38,205.04 L405.85,204.97 L406.31,204.90 L406.78,204.83 L407.25,204.76 L407.72,204.69 L408.18,204.62 L408.65,204.55 L409.12,204.48 L409.59,204.42 L410.06,204.35 L410.54,204.28 L411.01,204.21 L411.48,204.14 L411.95,204.07 L412.43,204.01 L412.90,203.94 L413.38,203.87 L413.85,203.81 L414.33,203.74 L414.80,203.67 L415.28,203.60 L415.76,203.54 L416.24,203.47 L416.72,203.41 L417.20,203.34 L417.68,203.27 L418.16,203.21 L418.64,203.14 L419.12,203.08 L419.60,203.01 L420.09,202.95 L420.57,202.88 L421.06,202.82 L421.54,202.75 L422.03,202.69 L422.51,202.63 L423.00,202.56 L423.49,202.50 L423.98,202.43 L424.46,202.37 L424.95,202.31 L425.44,202.24 L425.93,202.18 L426.42,202.12 L426.92,202.06 L427.41,201.99 L427.90,201.93 L428.39,201.87 L428.89,201.81 L429.38,201.75 L429.88,201.69 L430.37,201.62 L430.87,201.56 L431.37,201.50 L431.86,201.44 L432.36,201.38 L432.86,201.32 L433.36,201.26 L433.86,201.20 L434.36,201.14 L434.86,201.08 L435.36,201.02 L435.86,200.96 L436.37,200.90 L436.87,200.85 L437.37,200.79 L437.88,200.73 L438.38,200.67 L438.89,200.61 L439.40,200.55 L439.90,200.50 L440.41,200.44 L440.92,200.38 L441.43,200.32 L441.94,200.27 L442.45,200.21 L442.96,200.15 L443.47,200.10 L443.98,200.04 L444.49,199.98 L445.01,199.93 L445.52,199.87 L446.03,199.82 L446.55,199.76 L447.06,199.71 L447.58,199.65 L448.10,199.60 L448.61,199.54 L449.13,199.49 L449.65,199.43 L450.17,199.38 L450.69,199.32 L451.21,199.27 L451.73,199.22 L452.25,199.16 L452.77,199.11 L453.30,199.06 L453.82,199.00 L454.34,198.95 L454.87,198.90 L455.39,198.85 L455.92,198.79 L456.44,198.74 L456.97,198.69 L457.50,198.64 L458.03,198.59 L458.55,198.54 L459.08,198.48 L459.61,198.43 L460.14,198.38 L460.67,198.33 L461.21,198.28 L461.74,198.23 L462.27,198.18 L462.80,198.13 L463.34,198.08 L463.87,198.03 L464.41,197.98 L464.94,197.93 L465.48,197.88 L466.02,197.84 L466.55,197.79 L467.09,197.74 L467.63,197.69 L468.17,197.64 L468.71,197.59 L469.25,197.55 L469.79,197.50 L470.33,197.45 L470.88,197.40 L471.42,197.36 L471.96,197.31 L472.51,197.26 L473.05,197.22 L473.60,197.17 L474.14,197.13 L474.69,197.08 L475.24,197.03 L475.79,196.99 L476.33,196.94 L476.88,196.90 L477.43,196.85 L477.98,196.81 L478.53,196.77 L479.09,196.72 L479.64,196.68 L480.19,196.63 L480.74,196.59 L481.30,196.55 L481.85,196.50 L482.41,196.46 L482.96,196.42 L483.52,196.38 L484.08,196.33 L484.63,196.29 L485.19,196.25 L485.75,196.21 L486.31,196.17 L486.87,196.12 L487.43,196.08 L487.99,196.04 L488.55,196.00 L489.12,195.96 L489.68,195.92 L490.24,195.88 L490.81,195.84 L491.37,195.80 L491.94,195.76 L492.50,195.72 L493.07,195.68 L493.64,195.64 L494.21,195.61 L494.77,195.57 L495.34,195.53 L495.91,195.49 L496.48,195.45 L497.05,195.42 L497.63,195.38 L498.20,195.34 L498.77,195.30 L499.34,195.27 L499.92,195.23 L500.49,195.19 L501.07,195.16 L501.64,195.12 L502.22,195.09 L502.80,195.05 L503.37,195.02 L503.95,194.98 L504.53,194.95 L505.11,194.91 L505.69,194.88 L506.27,194.84 L506.85,194.81 L507.43,194.78 L508.02,194.74 L508.60,194.71 L509.18,194.68 L509.77,194.64 L510.35,194.61 L510.94,194.58 L511.52,194.55 L512.11,194.52 L512.70,194.48 L513.29,194.45 L513.87,194.42 L514.46,194.39 L515.05,194.36 L515.64,194.33 L516.24,194.30 L516.83,194.27 L517.42,194.24 L518.01,194.21 L518.61,194.18 L519.20,194.15 L519.79,194.12 L520.39,194.09 L520.99,194.07 L521.58,194.04 L522.18,194.01 L522.78,193.98 L523.38,193.95 L523.97,193.93 L524.57,193.90 L525.17,193.87 L525.78,193.85 L526.38,193.82 L526.98,193.79 L527.58,193.77 L528.19,193.74 L528.79,193.72 L529.39,193.69 L530.00,193.67 L530.60,193.64 L531.21,193.62 L531.82,193.60 L532.43,193.57 L533.03,193.55 L533.64,193.52 L534.25,193.50 L534.86,193.48 L535.47,193.45 L536.08,193.43 L536.70,193.41 L537.31,193.39 L537.92,193.37 L538.54,193.35 L539.15,193.32 L539.76,193.30 L540.38,193.28 L541.00,193.26 L541.61,193.24 L542.23,193.22 L542.85,193.20 L543.47,193.18 L544.09,193.16 L544.71,193.14 L545.33,193.13 L545.95,193.11 L546.57,193.09 L547.19,193.07 L547.82,193.05 L548.44,193.04 L549.06,193.02 L549.69,193.00 L550.31,192.98 L550.94,192.97 L551.57,192.95 L552.19,192.94 L552.82,192.92 L553.45,192.90 L554.08,192.89 L554.71,192.87 L555.34,192.86 L555.97,192.84 L556.60,192.83 L557.24,192.82 L557.87,192.80 L558.50,192.79 L559.14,192.78 L559.77,192.76 L560.41,192.75 L561.04,192.74 L561.68,192.73 L562.32,192.71 L562.95,192.70 L563.59,192.69 L564.23,192.68 L564.87,192.67 L565.51,192.66 L566.15,192.65 L566.79,192.64 L567.44,192.63 L568.08,192.62 L568.72,192.61 L569.37,192.60 L570.01,192.59 L570.66,192.58 L571.30,192.57 L571.95,192.57 L572.60,192.56 L573.24,192.55 L573.89,192.54 L574.54,192.54 L575.19,192.53 L575.84,192.52 L576.49,192.52 L577.14,192.51 L577.80,192.50 L578.45,192.50 L579.10,192.49 L579.76,192.49 L580.41,192.48 L581.07,192.48 L581.72,192.47 L582.38,192.47 L583.04,192.47 L583.69,192.47 L584.35,192.46 L585.01,192.46 L585.67,192.46 L586.33,192.46 L586.99,192.46 L587.65,192.46 L588.32,192.46 L588.98,192.46 L589.64,192.46 L590.31,192.46 L590.97,192.46 L591.64,192.46 L592.30,192.46 L592.97,192.46 L593.64,192.46 L594.30,192.45 L594.97,192.45 L595.64,192.45 L596.31,192.46 L596.98,192.46 L597.65,192.46 L598.32,192.46 L598.99,192.46 L599.67,192.47 L600.34,192.47 L601.02,192.48 L601.69,192.48 L602.36,192.48 L603.04,192.49 L603.72,192.50 L604.39,192.50 L605.07,192.51 L605.75,192.51 L606.43,192.52 L607.11,192.52 L607.79,192.53 L608.47,192.54 L609.15,192.54 L609.83,192.55 L610.52,192.56 L611.20,192.57 L611.88,192.57 L612.57,192.58 L613.25,192.59 L613.94,192.60 L614.63,192.61 L615.31,192.62 L616.00,192.63 L616.69,192.64 L617.38,192.65 L618.07,192.66 L618.76,192.67 L619.45,192.68 L620.14,192.69 L620.83,192.71 L621.53,192.72 L622.22,192.73 L622.91,192.74 L623.61,192.76 L624.30,192.77 L625.00,192.78 L625.70,192.80 L626.39,192.81 L627.09,192.83 L627.79,192.84 L628.49,192.85 L629.19,192.87 L629.89,192.88 L630.59,192.90 L631.29,192.92 L631.99,192.93 L632.70,192.95 L633.40,192.97 L634.11,192.98 L634.81,193.00 L635.52,193.02 L636.22,193.04 L636.93,193.05 L637.64,193.07 L638.34,193.09 L639.05,193.11 L639.76,193.13 L640.47,193.15 L641.18,193.17 L641.89,193.19 L642.60,193.21 L643.32,193.23 L644.03,193.25 L644.74,193.27 L645.46,193.29 L646.17,193.32 L646.89,193.34 L647.60,193.36 L648.32,193.38 L649.04,193.41 L649.76,193.43 L650.47,193.45 L651.19,193.48 L651.91,193.50 L652.63,193.53 L653.36,193.55 L654.08,193.58 L654.80,193.60 L655.52,193.63 L656.25,193.65 L656.97,193.68 L657.70,193.70 L658.42,193.73 L659.15,193.76 L659.88,193.79 L660.60,193.81 L661.33,193.84 L662.06,193.87 L662.79,193.90 L663.52,193.93 L664.25,193.95 L664.98,193.98 L665.71,194.01 L666.45,194.04 L667.18,194.07 L667.91,194.10 L668.65,194.13 L669.38,194.16 L670.12,194.20 L670.85,194.23 L671.59,194.26 L672.33,194.29 L673.07,194.32 L673.81,194.36 L674.55,194.39 L675.29,194.42 L676.03,194.45 L676.77,194.49 L677.51,194.52 L678.25,194.56 L679.00,194.59 L679.74,194.63 L680.49,194.66 L681.23,194.70 L681.98,194.73 L682.72,194.77 L683.47,194.80 L684.22,194.84 L684.97,194.88 L685.72,194.91 L686.47,194.95 L687.22,194.99 L687.97,195.03 L688.72,195.07 L689.47,195.10 L690.22,195.14 L690.98,195.18 L691.73,195.22 L692.49,195.26 L693.24,195.30 L694.00,195.34 L694.76,195.38 L695.51,195.42 L696.27,195.46 L697.03,195.50 L697.79,195.54 L698.55,195.59 L699.31,195.63 L700.07,195.67 L700.83,195.71 L701.60,195.76 L702.36,195.80 L703.12,195.84 L703.89,195.89 L704.65,195.93 L705.42,195.97 L706.18,196.02 L706.95,196.06 L707.72,196.11 L708.49,196.15 L709.26,196.20 L710.03,196.25 L710.80,196.29 L711.57,196.34 L712.34,196.39 L713.11,196.43 L713.88,196.48 L714.66,196.53 L715.43,196.57 L716.21,196.62 L716.98,196.67 L717.76,196.72 L718.53,196.77 L719.31,196.82 L720.09,196.87 L720.87,196.92 L721.65,196.97 L722.43,197.02 L723.21,197.07 L723.99,197.12 L724.77,197.17 L725.55,197.22 L726.33,197.27 L727.12,197.32 L727.90,197.38 L728.69,197.43 L729.47,197.48 L730.26,197.53 L731.05,197.59 L731.83,197.64 L732.62,197.69 L733.41,197.75 L734.20,197.80 L734.99,197.86 L735.78,197.91 L736.57,197.97 L737.36,198.02 L738.16,198.08 L738.95,198.13 L739.74,198.19 L740.54,198.25 L741.33,198.30 L742.13,198.36 L742.93,198.42 L743.72,198.47 L744.52,198.53 L745.32,198.59 L746.12,198.65 L746.92,198.71 L747.72,198.77 L748.52,198.82 L749.32,198.88 L750.12,198.94 L750.93,199.00 L751.73,199.06 L752.54,199.12 L753.34,199.18" stroke="#99ff33" stroke-width="3.7"/>
<path d="M166.54,272.51 L166.70,272.66 L166.87,272.81 L167.04,272.96 L167.20,273.10 L167.37,273.25 L167.54,273.39 L167.70,273.54 L167.87,273.68 L168.03,273.82 L168.19,273.96 L168.36,274.10 L168.52,274.24 L168.69,274.38 L168.85,274.52 L169.01,274.66 L169.17,274.80 L169.33,274.94 L169.50,275.07 L169.66,275.21 L169.82,275.35 L169.98,275.49 L170.14,275.63 L170.30,275.76 L170.46,275.90 L170.61,276.04 L170.77,276.18 L170.93,276.32 L171.09,276.46 L171.25,276.60 L171.40,276.74 L171.56,276.88 L171.71,277.02 L171.87,277.17 L172.03,277.31 L172.18,277.46 L172.34,277.60 L172.49,277.75 L172.64,277.90 L172.80,278.04 L172.95,278.19 L173.10,278.34 L173.26,278.50 L173.41,278.65 L173.56,278.80 L173.71,278.96 L173.86,279.12 L174.01,279.28 L174.16,279.44 L174.31,279.60 L174.46,279.76 L174.61,279.93 L174.76,280.09 L174.91,280.26 L175.06,280.43 L175.20,280.60 L175.35,280.78 L175.50,280.95 L175.65,281.13 L175.79,281.31 L175.94,281.49 L176.08,281.67 L176.23,281.85 L176.37,282.04 L176.52,282.23 L176.66,282.42 L176.80,282.61 L176.95,282.81 L177.09,283.01 M184.26,298.50 L184.38,298.69 L184.50,298.88 L184.62,299.06 L184.75,299.24 L184.87,299.41 L184.99,299.58 L185.11,299.74 L185.23,299.90 L185.35,300.06 L185.47,300.21 L185.59,300.36 L185.70,300.51 L185.82,300.66 L185.94,300.80 L186.06,300.94 L186.18,301.08 L186.29,301.21 L186.41,301.35 L186.52,301.49 L186.64,301.62 L186.75,301.75 L186.87,301.89 L186.98,302.02 L187.10,302.15 L187.21,302.29 L187.33,302.42 L187.44,302.56 L187.55,302.69 L187.66,302.83 L187.78,302.97 L187.89,303.11 L188.00,303.25 L188.11,303.40 L188.22,303.54 L188.33,303.69 L188.44,303.84 L188.55,304.00 L188.66,304.15 L188.77,304.31 L188.87,304.47 L188.98,304.64 L189.09,304.81 L189.20,304.98 L189.30,305.16 L189.41,305.33 L189.52,305.50 L189.62,305.68 L189.73,305.85 L189.83,306.03 L189.94,306.21 L190.04,306.38 L190.14,306.56 L190.25,306.75 L190.35,306.93 L190.45,307.12 L190.56,307.30 L190.66,307.50 L190.76,307.69 L190.86,307.89 L190.96,308.09 L191.06,308.29 L191.16,308.50 L191.26,308.71 L191.36,308.93 L191.46,309.15 L191.56,309.37 L191.66,309.60 L191.75,309.83 L191.85,310.07 L191.95,310.32 L192.05,310.56 L192.14,310.82 L192.24,311.08 L192.33,311.34 L192.43,311.62 M195.86,328.57 L195.94,328.83 L196.02,329.08 L196.10,329.32 L196.18,329.55 L196.26,329.78 L196.34,330.00 L196.41,330.21 L196.49,330.41 L196.57,330.61 L196.65,330.80 L196.72,330.99 L196.80,331.17 L196.88,331.35 L196.95,331.52 L197.03,331.69 L197.10,331.85 L197.18,332.02 L197.25,332.18 L197.33,332.33 L197.40,332.49 L197.47,332.64 L197.55,332.79 L197.62,332.94 L197.69,333.09 L197.76,333.23 L197.83,333.38 L197.90,333.53 L197.97,333.67 L198.05,333.82 L198.11,333.97 L198.18,334.11 L198.25,334.26 L198.32,334.41 L198.39,334.56 L198.46,334.71 L198.53,334.87 L198.59,335.02 L198.66,335.18 L198.73,335.34 L198.79,335.50 L198.86,335.66 L198.92,335.83 L198.99,336.00 L199.05,336.17 L199.12,336.35 L199.18,336.52 L199.25,336.71 L199.31,336.89 L199.37,337.08 L199.43,337.27 L199.50,337.47 L199.56,337.67 L199.62,337.87 L199.68,338.07 L199.74,338.29 L199.80,338.51 L199.86,338.73 L199.92,338.97 L199.98,339.21 L200.04,339.47 L200.10,339.72 L200.16,339.98 L200.21,340.25 L200.27,340.52 L200.33,340.80 M203.80,360.14 L203.82,360.31 L203.85,360.47 L203.87,360.62 L203.90,360.78 L203.92,360.93 L203.94,361.08 L203.97,361.23 L203.99,361.38 L204.01,361.52 L204.04,361.67 L204.06,361.81 L204.08,361.95 L204.10,362.08 L204.12,362.22 L204.14,362.35 L204.16,362.48 L204.18,362.61 L204.20,362.74 L204.22,362.86 L204.24,362.98 L204.26,363.10 L204.28,363.22 L204.29,363.33 L204.31,363.44 L204.33,363.56 L204.34,363.66 L204.36,363.77 L204.37,363.87 L204.39,363.97 L204.41,364.07 L204.42,364.17 L204.43,364.26 L204.45,364.35 L204.46,364.44 L204.47,364.53 L204.49,364.61 L204.50,364.70 L204.51,364.78 L204.52,364.85 L204.53,364.93 L204.54,365.00 L204.56,365.07 L204.57,365.14 L204.58,365.20 L204.58,365.27 L204.59,365.33 L204.60,365.39 L204.61,365.44 L204.62,365.49 L204.63,365.55 L204.63,365.59 L204.64,365.64 L204.65,365.68 L204.65,365.72 L204.66,365.76 L204.66,365.80 L204.67,365.83 L204.67,365.86 L204.68,365.89 L204.68,365.92 L204.69,365.94 L204.69,365.96 L204.69,365.98 L204.69,366.00 L204.70,366.01 L204.70,366.02 L204.70,366.03 L204.70,366.04 L204.70,366.04 L204.70,366.04 L204.70,366.04 L204.70,366.04 L204.70,366.04 L204.70,366.03 L204.70,366.03 L204.70,366.02 L204.70,366.01 L204.71,366.01 L204.71,365.99 L204.71,365.98 L204.71,365.97 L204.71,365.95 L204.72,365.94 L204.72,365.92 L204.72,365.90 L204.73,365.88 L204.73,365.85 L204.73,365.83 L204.74,365.80 L204.74,365.77 L204.75,365.74 L204.75,365.71 L204.76,365.68 L204.76,365.64 L204.77,365.61 L204.77,365.57 L204.78,365.53 L204.79,365.48 L204.79,365.44 L204.80,365.39 L204.81,365.34 L204.82,365.29 L204.82,365.24 L204.83,365.19 L204.84,365.13 L204.85,365.07 L204.86,365.01 L204.87,364.95 L204.88,364.88 L204.89,364.82 L204.90,364.75 L204.91,364.68 L204.92,364.61 L204.93,364.53 L204.95,364.46 L204.96,364.38 L204.97,364.30 L204.98,364.22 L205.00,364.13 L205.01,364.04 L205.02,363.96 L205.04,363.87 L205.05,363.77 L205.07,363.68 L205.08,363.58 L205.10,363.48 L205.11,363.38 L205.13,363.28 L205.15,363.17 L205.16,363.06 L205.18,362.95 L205.20,362.84 L205.21,362.73 L205.23,362.61 L205.25,362.49 L205.27,362.37 L205.29,362.25 L205.31,362.12 L205.33,362.00 L205.35,361.87 L205.37,361.74 L205.39,361.60 L205.41,361.47 L205.43,361.33 L205.45,361.19 L205.48,361.05 L205.50,360.90 L205.52,360.75 L205.55,360.60 L205.57,360.45 L205.59,360.30 L205.62,360.14 M208.22,343.88 L208.27,343.61 L208.32,343.34 L208.37,343.08 L208.43,342.82 L208.48,342.57 L208.53,342.32 L208.59,342.06 L208.64,341.82 L208.70,341.57 L208.75,341.33 L208.81,341.08 L208.86,340.84 L208.92,340.61 L208.98,340.37 L209.03,340.14 L209.09,339.90 L209.15,339.67 L209.21,339.44 L209.27,339.21 L209.33,338.98 L209.38,338.76 L209.44,338.53 L209.51,338.30 L209.57,338.07 L209.63,337.85 L209.69,337.62 L209.75,337.39 L209.81,337.16 L209.88,336.93 L209.94,336.70 L210.00,336.46 L210.07,336.22 L210.13,335.98 L210.20,335.74 L210.26,335.50 L210.33,335.25 L210.40,334.99 L210.46,334.74 L210.53,334.48 L210.60,334.21 L210.67,333.93 L210.74,333.66 L210.81,333.37 L210.87,333.08 L210.94,332.78 L211.01,332.47 L211.09,332.15 L211.16,331.83 L211.23,331.49 L211.30,331.15 L211.37,330.79 L211.45,330.43 L211.52,330.05 L211.59,329.66 M214.27,313.16 L214.36,312.89 L214.45,312.63 L214.54,312.37 L214.63,312.11 L214.72,311.86 L214.81,311.61 L214.90,311.37 L214.99,311.14 L215.09,310.90 L215.18,310.68 L215.27,310.45 L215.37,310.23 L215.46,310.01 L215.55,309.80 L215.65,309.59 L215.74,309.39 L215.84,309.18 L215.94,308.98 L216.03,308.79 L216.13,308.59 L216.23,308.40 L216.33,308.21 L216.43,308.02 L216.52,307.84 L216.62,307.65 L216.72,307.47 L216.82,307.29 L216.93,307.11 L217.03,306.93 L217.13,306.75 L217.23,306.57 L217.33,306.39 L217.44,306.21 L217.54,306.03 L217.64,305.85 L217.75,305.67 L217.85,305.49 L217.96,305.30 L218.07,305.11 L218.17,304.92 L218.28,304.73 L218.39,304.53 L218.49,304.34 L218.60,304.14 L218.71,303.95 L218.82,303.76 L218.93,303.58 L219.04,303.39 L219.15,303.21 L219.26,303.04 L219.37,302.86 L219.48,302.69 L219.60,302.51 L219.71,302.34 L219.82,302.17 L219.94,302.01 L220.05,301.84 L220.17,301.67 L220.28,301.50 L220.40,301.33 L220.51,301.16 L220.63,300.99 L220.75,300.82 L220.86,300.65 L220.98,300.48 L221.10,300.30 L221.22,300.12 L221.34,299.94 L221.46,299.76 M229.22,284.24 L229.37,284.04 L229.52,283.85 L229.67,283.66 L229.82,283.47 L229.97,283.29 L230.12,283.10 L230.27,282.92 L230.42,282.74 L230.57,282.56 L230.73,282.39 L230.88,282.21 L231.03,282.04 L231.19,281.87 L231.34,281.70 L231.49,281.53 L231.65,281.37 L231.81,281.20 L231.96,281.04 L232.12,280.88 L232.28,280.72 L232.43,280.56 L232.59,280.40 L232.75,280.25 L232.91,280.10 L233.07,279.94 L233.23,279.79 L233.39,279.64 L233.55,279.49 L233.71,279.35 L233.88,279.20 L234.04,279.05 L234.20,278.91 L234.37,278.76 L234.53,278.62 L234.70,278.48 L234.86,278.34 L235.03,278.19 L235.19,278.05 L235.36,277.91 L235.53,277.77 L235.69,277.63 L235.86,277.49 L236.03,277.36 L236.20,277.22 L236.37,277.08 L236.54,276.94 L236.71,276.80 L236.88,276.66 L237.05,276.52 L237.23,276.38 L237.40,276.24 L237.57,276.10 L237.75,275.95 L237.92,275.81 L238.09,275.67 L238.27,275.52 L238.45,275.38 L238.62,275.23 L238.80,275.09 L238.98,274.94 L239.15,274.79 L239.33,274.63 L239.51,274.48 L239.69,274.33 L239.87,274.17 L240.05,274.01 L240.23,273.85 L240.41,273.69 L240.59,273.52 L240.77,273.36 L240.96,273.19 L241.14,273.01 M252.85,261.89 L253.06,261.73 L253.28,261.58 L253.49,261.43 L253.71,261.28 L253.92,261.14 L254.14,260.99 L254.36,260.85 L254.57,260.70 L254.79,260.56 L255.01,260.42 L255.23,260.28 L255.45,260.14 L255.67,260.00 L255.89,259.87 L256.11,259.73 L256.33,259.60 L256.55,259.46 L256.78,259.33 L257.00,259.20 L257.22,259.07 L257.45,258.94 L257.67,258.81 L257.90,258.68 L258.12,258.55 L258.35,258.42 L258.58,258.30 L258.80,258.17 L259.03,258.04 L259.26,257.92 L259.49,257.79 L259.72,257.67 L259.95,257.55 L260.18,257.42 L260.41,257.30 L260.64,257.18 L260.87,257.05 L261.11,256.93 L261.34,256.81 L261.57,256.69 L261.81,256.56 L262.04,256.44 L262.28,256.32 L262.51,256.20 L262.75,256.07 L262.99,255.95 L263.22,255.83 L263.46,255.70 L263.70,255.58 L263.94,255.46 L264.18,255.33 L264.42,255.21 L264.66,255.08 L264.90,254.96 L265.14,254.84 L265.38,254.72 L265.62,254.59 L265.87,254.47 L266.11,254.35 L266.36,254.23 L266.60,254.11 L266.84,253.99 L267.09,253.87 M281.98,247.14 L282.25,247.02 L282.53,246.90 L282.81,246.78 L283.09,246.66 L283.37,246.54 L283.65,246.42 L283.93,246.30 L284.21,246.19 L284.49,246.07 L284.77,245.95 L285.05,245.83 L285.33,245.71 L285.62,245.59 L285.90,245.47 L286.18,245.36 L286.47,245.24 L286.75,245.12 L287.04,245.00 L287.33,244.88 L287.61,244.76 L287.90,244.65 L288.19,244.53 L288.48,244.41 L288.77,244.29 L289.06,244.17 L289.35,244.06 L289.64,243.94 L289.93,243.82 L290.22,243.70 L290.51,243.58 L290.81,243.47 L291.10,243.35 L291.39,243.23 L291.69,243.11 L291.98,242.99 L292.28,242.88 L292.58,242.76 L292.87,242.64 L293.17,242.52 L293.47,242.41 L293.77,242.29 L294.07,242.17 L294.36,242.05 L294.66,241.94 L294.97,241.82 M309.71,236.40 L310.04,236.29 L310.37,236.18 L310.70,236.06 L311.03,235.95 L311.35,235.84 L311.68,235.73 L312.01,235.61 L312.35,235.50 L312.68,235.39 L313.01,235.28 L313.34,235.16 L313.68,235.05 L314.01,234.94 L314.34,234.83 L314.68,234.72 L315.01,234.61 L315.35,234.49 L315.69,234.38 L316.02,234.27 L316.36,234.16 L316.70,234.05 L317.04,233.94 L317.38,233.83 L317.72,233.72 L318.06,233.61 L318.40,233.50 L318.74,233.39 L319.08,233.28 L319.42,233.17 L319.77,233.06 L320.11,232.95 L320.46,232.84 L320.80,232.73 L321.15,232.62 L321.49,232.51 L321.84,232.40 L322.19,232.29 L322.53,232.18 L322.88,232.07 L323.23,231.96 L323.58,231.86 L323.93,231.75 L324.28,231.64 L324.63,231.53 M340.26,227.01 L340.64,226.91 L341.01,226.81 L341.39,226.71 L341.77,226.60 L342.14,226.50 L342.52,226.40 L342.90,226.30 L343.28,226.20 L343.66,226.10 L344.04,226.00 L344.43,225.90 L344.81,225.80 L345.19,225.70 L345.57,225.60 L345.96,225.50 L346.34,225.40 L346.73,225.30 L347.11,225.20 L347.50,225.11 L347.89,225.01 L348.27,224.91 L348.66,224.81 L349.05,224.71 L349.44,224.61 L349.83,224.52 L350.22,224.42 L350.61,224.32 L351.00,224.22 L351.39,224.13 L351.78,224.03 L352.18,223.93 L352.57,223.84 L352.96,223.74 L353.36,223.64 L353.75,223.55 L354.15,223.45 L354.55,223.36 L354.94,223.26 L355.34,223.17 M371.29,219.60 L371.71,219.52 L372.14,219.43 L372.56,219.34 L372.98,219.26 L373.40,219.17 L373.83,219.08 L374.25,219.00 L374.68,218.91 L375.10,218.83 L375.53,218.74 L375.95,218.65 L376.38,218.57 L376.81,218.48 L377.24,218.40 L377.66,218.32 L378.09,218.23 L378.52,218.15 L378.95,218.06 L379.38,217.98 L379.82,217.90 L380.25,217.81 L380.68,217.73 L381.11,217.65 L381.55,217.56 L381.98,217.48 L382.42,217.40 L382.85,217.32 L383.29,217.24 L383.73,217.15 L384.16,217.07 L384.60,216.99 L385.04,216.91 L385.48,216.83 M401.68,214.06 L402.14,213.99 L402.60,213.92 L403.06,213.84 L403.53,213.77 L403.99,213.70 L404.45,213.63 L404.92,213.56 L405.38,213.49 L405.85,213.41 L406.31,213.34 L406.78,213.27 L407.25,213.20 L407.72,213.13 L408.18,213.06 L408.65,212.99 L409.12,212.92 L409.59,212.85 L410.06,212.78 L410.54,212.71 L411.01,212.64 L411.48,212.57 L411.95,212.51 L412.43,212.44 L412.90,212.37 L413.38,212.30 L413.85,212.23 L414.33,212.17 L414.80,212.10 L415.28,212.03 L415.76,211.97 L416.24,211.90 L416.72,211.83 L417.20,211.77 M432.86,209.75 L433.36,209.69 L433.86,209.63 L434.36,209.57 L434.86,209.51 L435.36,209.45 L435.86,209.39 L436.37,209.33 L436.87,209.27 L437.37,209.21 L437.88,209.15 L438.38,209.10 L438.89,209.04 L439.40,208.98 L439.90,208.92 L440.41,208.87 L440.92,208.81 L441.43,208.75 L441.94,208.69 L442.45,208.64 L442.96,208.58 L443.47,208.52 L443.98,208.47 L444.49,208.41 L445.01,208.36 L445.52,208.30 L446.03,208.24 L446.55,208.19 L447.06,208.13 L447.58,208.08 L448.10,208.02 L448.61,207.97 L449.13,207.91 L449.65,207.86 L450.17,207.80 L450.69,207.75 L451.21,207.70 L451.73,207.64 L452.25,207.59 L452.77,207.53 L453.30,207.48 L453.82,207.43 L454.34,207.37 L454.87,207.32 L455.39,207.27 L455.92,207.22 L456.44,207.16 L456.97,207.11 L457.50,207.06 L458.03,207.01 L458.55,206.95 L459.08,206.90 L459.61,206.85 L460.14,206.80 L460.67,206.75 L461.21,206.70 L461.74,206.64 L462.27,206.59 L462.80,206.54 L463.34,206.49 M479.64,205.01 L480.19,204.96 L480.74,204.92 L481.30,204.87 L481.85,204.82 L482.41,204.77 L482.96,204.72 L483.52,204.68 L484.08,204.63 L484.63,204.58 L485.19,204.53 L485.75,204.49 L486.31,204.44 L486.87,204.39 L487.43,204.35 L487.99,204.30 L488.55,204.25 L489.12,204.20 L489.68,204.16 L490.24,204.11 L490.81,204.06 L491.37,204.02 L491.94,203.97 L492.50,203.92 L493.07,203.88 L493.64,203.83 L494.21,203.78 L494.77,203.74 M511.52,202.42 L512.11,202.37 L512.70,202.33 L513.29,202.28 L513.87,202.24 L514.46,202.19 L515.05,202.15 L515.64,202.11 L516.24,202.06 L516.83,202.02 L517.42,201.97 L518.01,201.93 L518.61,201.89 L519.20,201.84 L519.79,201.80 L520.39,201.76 L520.99,201.71 L521.58,201.67 L522.18,201.63 L522.78,201.58 L523.38,201.54 L523.97,201.50 L524.57,201.45 L525.17,201.41 L525.78,201.37 L526.38,201.33 L526.98,201.28 M543.47,200.17 L544.09,200.13 L544.71,200.09 L545.33,200.05 L545.95,200.01 L546.57,199.97 L547.19,199.94 L547.82,199.90 L548.44,199.86 L549.06,199.82 L549.69,199.78 L550.31,199.74 L550.94,199.70 L551.57,199.67 L552.19,199.63 L552.82,199.59 L553.45,199.55 L554.08,199.51 L554.71,199.48 L555.34,199.44 L555.97,199.40 L556.60,199.36 L557.24,199.33 L557.87,199.29 L558.50,199.25 L559.14,199.22 M575.84,198.31 L576.49,198.28 L577.14,198.25 L577.80,198.21 L578.45,198.18 L579.10,198.15 L579.76,198.12 L580.41,198.08 L581.07,198.05 L581.72,198.02 L582.38,197.99 L583.04,197.96 L583.69,197.93 L584.35,197.90 L585.01,197.87 L585.67,197.84 L586.33,197.81 L586.99,197.78 L587.65,197.75 L588.32,197.72 L588.98,197.69 L589.64,197.66 L590.31,197.63 L590.97,197.60 L591.64,197.57 M607.79,196.93 L608.47,196.91 L609.15,196.89 L609.83,196.86 L610.52,196.84 L611.20,196.81 L611.88,196.79 L612.57,196.77 L613.25,196.75 L613.94,196.72 L614.63,196.70 L615.31,196.68 L616.00,196.66 L616.69,196.64 L617.38,196.62 L618.07,196.59 L618.76,196.57 L619.45,196.55 L620.14,196.53 L620.83,196.51 L621.53,196.49 L622.22,196.47 L622.91,196.45 L623.61,196.43 M639.76,196.06 L640.47,196.05 L641.18,196.03 L641.89,196.02 L642.60,196.01 L643.32,196.00 L644.03,195.98 L644.74,195.97 L645.46,195.96 L646.17,195.95 L646.89,195.94 L647.60,195.93 L648.32,195.92 L649.04,195.91 L649.76,195.90 L650.47,195.89 L651.19,195.88 L651.91,195.87 L652.63,195.86 L653.36,195.85 L654.08,195.85 L654.80,195.84 M672.33,195.75 L673.07,195.74 L673.81,195.74 L674.55,195.74 L675.29,195.74 L676.03,195.74 L676.77,195.74 L677.51,195.75 L678.25,195.75 L679.00,195.75 L679.74,195.75 L680.49,195.76 L681.23,195.76 L681.98,195.77 L682.72,195.77 L683.47,195.78 L684.22,195.78 L684.97,195.79 L685.72,195.79 L686.47,195.80 L687.22,195.80 M704.65,196.05 L705.42,196.06 L706.18,196.08 L706.95,196.09 L707.72,196.11 L708.49,196.13 L709.26,196.14 L710.03,196.16 L710.80,196.18 L711.57,196.20 L712.34,196.22 L713.11,196.24 L713.88,196.25 L714.66,196.28 L715.43,196.30 L716.21,196.32 L716.98,196.34 L717.76,196.36 L718.53,196.38 L719.31,196.40 L720.09,196.43 M737.36,197.04 L738.16,197.07 L738.95,197.11 L739.74,197.14 L740.54,197.18 L741.33,197.21 L742.13,197.25 L742.93,197.28 L743.72,197.32 L744.52,197.35 L745.32,197.39 L746.12,197.43 L746.92,197.47 L747.72,197.51 L748.52,197.55 L749.32,197.59 L750.12,197.63 L750.93,197.67 L751.73,197.71 L752.54,197.75 L753.34,197.79" stroke="#00ee00" stroke-width="3.7"/>
<path d="M158.80,269.23 L158.98,269.37 L159.16,269.52 L159.35,269.67 L159.53,269.83 L159.71,269.98 L159.89,270.13 L160.08,270.29 L160.26,270.45 L160.44,270.61 L160.62,270.77 L160.80,270.93 L160.98,271.09 L161.16,271.26 L161.34,271.42 L161.52,271.59 L161.69,271.76 L161.87,271.93 L162.05,272.10 L162.23,272.27 L162.40,272.44 L162.58,272.61 L162.76,272.78 L162.93,272.96 L163.11,273.13 L163.28,273.31 L163.46,273.49 L163.63,273.67 L163.80,273.84 L163.98,274.02 L164.15,274.20 L164.32,274.39 L164.50,274.57 L164.67,274.75 L164.84,274.93 L165.01,275.12 L165.18,275.30 L165.35,275.49 L165.52,275.67 L165.69,275.86 L165.86,276.04 L166.03,276.23 L166.20,276.42 L166.37,276.60 L166.54,276.79 L166.70,276.98 L166.87,277.17 L167.04,277.36 L167.20,277.55 L167.37,277.74 L167.54,277.93 L167.70,278.12 L167.87,278.31 L168.03,278.51 L168.19,278.70 L168.36,278.90 L168.52,279.10 L168.69,279.30 L168.85,279.50 L169.01,279.70 L169.17,279.91 L169.33,280.11 L169.50,280.32 L169.66,280.53 L169.82,280.74 L169.98,280.95 L170.14,281.16 L170.30,281.37 L170.46,281.59 L170.61,281.80 L170.77,282.02 L170.93,282.23 L171.09,282.45 L171.25,282.66 L171.40,282.88 L171.56,283.10 L171.71,283.32 L171.87,283.53 L172.03,283.75 L172.18,283.97 L172.34,284.19 L172.49,284.41 L172.64,284.62 L172.80,284.84 L172.95,285.06 L173.10,285.28 L173.26,285.50 L173.41,285.72 L173.56,285.93 L173.71,286.15 L173.86,286.37 L174.01,286.58 L174.16,286.80 L174.31,287.01 L174.46,287.22 L174.61,287.43 L174.76,287.64 L174.91,287.85 L175.06,288.05 L175.20,288.26 L175.35,288.46 L175.50,288.66 L175.65,288.87 L175.79,289.07 L175.94,289.27 L176.08,289.47 L176.23,289.67 L176.37,289.88 L176.52,290.08 L176.66,290.28 L176.80,290.49 L176.95,290.69 L177.09,290.90 L177.23,291.11 L177.37,291.32 L177.52,291.53 L177.66,291.74 L177.80,291.95 L177.94,292.17 L178.08,292.39 L178.22,292.61 L178.36,292.83 L178.50,293.05 L178.64,293.28 L178.78,293.51 L178.91,293.74 L179.05,293.97 L179.19,294.21 L179.33,294.45 L179.46,294.70 L179.60,294.94 L179.73,295.19 L179.87,295.45 L180.01,295.70 L180.14,295.97 L180.27,296.23 L180.41,296.50 L180.54,296.77 L180.68,297.06 L180.81,297.35 L180.94,297.65 L181.07,297.95 L181.21,298.27 L181.34,298.58 L181.47,298.91 L181.60,299.24 L181.73,299.57 L181.86,299.91 L181.99,300.26 L182.12,300.60 L182.25,300.96 L182.37,301.31 L182.50,301.67 L182.63,302.03 L182.76,302.39 L182.88,302.76 L183.01,303.13 L183.14,303.50 L183.26,303.87 L183.39,304.24 L183.51,304.62 L183.64,304.99 L183.76,305.37 L183.89,305.74 L184.01,306.12 L184.13,306.49 L184.26,306.87 L184.38,307.24 L184.50,307.61 L184.62,307.98 L184.75,308.34 L184.87,308.70 L184.99,309.06 L185.11,309.42 L185.23,309.78 L185.35,310.13 L185.47,310.49 L185.59,310.84 L185.70,311.19 L185.82,311.54 L185.94,311.89 L186.06,312.24 L186.18,312.59 L186.29,312.93 L186.41,313.28 L186.52,313.62 L186.64,313.97 L186.75,314.31 L186.87,314.65 L186.98,315.00 L187.10,315.34 L187.21,315.68 L187.33,316.02 L187.44,316.37 L187.55,316.71 L187.66,317.05 L187.78,317.39 L187.89,317.74 L188.00,318.08 L188.11,318.42 L188.22,318.77 L188.33,319.11 L188.44,319.46 L188.55,319.80 L188.66,320.15 L188.77,320.50 L188.87,320.85 L188.98,321.20 L189.09,321.55 L189.20,321.90 L189.30,322.25 L189.41,322.60 L189.52,322.96 L189.62,323.31 L189.73,323.67 L189.83,324.03 L189.94,324.39 L190.04,324.75 L190.14,325.11 L190.25,325.47 L190.35,325.84 L190.45,326.20 L190.56,326.57 L190.66,326.94 L190.76,327.31 L190.86,327.68 L190.96,328.06 L191.06,328.43 L191.16,328.81 L191.26,329.19 L191.36,329.57 L191.46,329.95 L191.56,330.33 L191.66,330.72 L191.75,331.11 L191.85,331.50 L191.95,331.89 L192.05,332.28 L192.14,332.68 L192.24,333.07 L192.33,333.47 L192.43,333.87 L192.52,334.27 L192.62,334.68 L192.71,335.09 L192.81,335.49 L192.90,335.90 L192.99,336.32 L193.09,336.73 L193.18,337.15 L193.27,337.57 L193.36,337.99 L193.45,338.41 L193.54,338.83 L193.63,339.26 L193.72,339.69 L193.81,340.12 L193.90,340.55 L193.99,340.98 L194.08,341.42 L194.17,341.85 L194.26,342.29 L194.35,342.74 L194.43,343.18 L194.52,343.62 L194.61,344.07 L194.69,344.52 L194.78,344.97 L194.86,345.42 L194.95,345.88 L195.03,346.33 L195.12,346.79 L195.20,347.25 L195.28,347.72 L195.37,348.18 L195.45,348.64 L195.53,349.11 L195.61,349.58 L195.70,350.05 L195.78,350.53 L195.86,351.02 L195.94,351.52 L196.02,352.04 L196.10,352.57 L196.18,353.11 L196.26,353.65 L196.34,354.21 L196.41,354.78 L196.49,355.36 L196.57,355.95 L196.65,356.55 L196.72,357.16 L196.80,357.77 L196.88,358.40 L196.95,359.03 L197.03,359.66 L197.10,360.31 L197.18,360.96 L197.25,361.62 L197.33,362.28 L197.40,362.95 L197.47,363.63 L197.55,364.31 L197.62,364.99 L197.69,365.68 L197.76,366.38 L197.83,367.07 L197.90,367.78 L197.97,368.48 L198.05,369.19 L198.11,369.90 L198.18,370.62 L198.25,371.34 L198.32,372.06 L198.39,372.78 L198.46,373.50 L198.53,374.23 L198.59,374.95 L198.66,375.68 L198.73,376.41 L198.79,377.14 L198.86,377.87 L198.92,378.61 L198.99,379.34 L199.05,380.07 L199.12,380.80 L199.18,381.53 L199.25,382.26 L199.31,382.99 L199.37,383.72 L199.43,384.45 L199.50,385.18 L199.56,385.91 L199.62,386.63 L199.68,387.36 L199.74,388.08 L199.80,388.80 L199.86,389.52 L199.92,390.24 L199.98,391.04 L200.04,391.90 L200.10,392.82 L200.16,393.76 L200.21,394.71 L200.27,395.65 L200.33,396.56 L200.38,397.42 L200.44,398.21 L200.50,398.92 L200.55,399.53 L200.61,400.04 L200.66,400.51 L200.72,400.95 L200.77,401.38 L200.82,401.78 L200.88,402.17 L200.93,402.55 L200.98,402.90 L201.03,403.25 L201.09,403.57 L201.14,403.89 L201.19,404.19 L201.24,404.48 L201.29,404.76 L201.34,405.03 L201.39,405.29 L201.44,405.54 L201.49,405.78 L201.54,406.01 L201.58,406.24 L201.63,406.46 L201.68,406.68 L201.73,406.89 L201.77,407.09 L201.82,407.30 L201.87,407.49 L201.91,407.69 L201.96,407.88 L202.00,408.07 L202.05,408.26 L202.09,408.44 L202.13,408.63 L202.18,408.81 L202.22,409.00 L202.26,409.18 L202.30,409.36 L202.35,409.55 L202.39,409.73 L202.43,409.92 L202.47,410.10 L202.51,410.29 L202.55,410.48 L202.59,410.67 L202.63,410.86 L202.67,411.05 L202.71,411.25 L202.74,411.45 L202.78,411.65 L202.82,411.85 L202.86,412.06 L202.89,412.27 L202.93,412.48 L202.97,412.69 L203.00,412.91 L203.04,413.13 L203.07,413.35 L203.11,413.58 L203.14,413.81 L203.17,414.04 L203.21,414.27 L203.24,414.51 L203.27,414.75 L203.30,414.99 L203.34,415.24 L203.37,415.49 L203.40,415.74 L203.43,416.00 L203.46,416.26 L203.49,416.52 L203.52,416.78 L203.55,417.05 L203.58,417.32 L203.61,417.59 L203.64,417.87 L203.66,418.14 L203.69,418.41 L203.72,418.69 L203.74,418.96 L203.77,419.24 L203.80,419.51 L203.82,419.78 L203.85,420.06 L203.87,420.33 L203.90,420.60 L203.92,420.87 L203.94,421.14 L203.97,421.40 L203.99,421.66 L204.01,421.93 L204.04,422.18 L204.06,422.44 L204.08,422.69 L204.10,422.95 L204.12,423.19 L204.14,423.44 L204.16,423.68 L204.18,423.92 L204.20,424.16 L204.22,424.39 L204.24,424.62 L204.26,424.84 L204.28,425.06 L204.29,425.28 L204.31,425.50 L204.33,425.71 L204.34,425.91 L204.36,426.11 L204.37,426.31 L204.39,426.50 L204.41,426.69 L204.42,426.88 L204.43,427.06 L204.45,427.24 L204.46,427.41 L204.47,427.58 L204.49,427.74 L204.50,427.90 L204.51,428.05 L204.52,428.20 L204.53,428.35 L204.54,428.49 L204.56,428.62 L204.57,428.75 L204.58,428.88 L204.58,429.00 L204.59,429.12 L204.60,429.23 L204.61,429.34 L204.62,429.44 L204.63,429.54 L204.63,429.63 L204.64,429.72 L204.65,429.81 L204.65,429.88 L204.66,429.96 L204.66,430.03 L204.67,430.09 L204.67,430.15 L204.68,430.21 L204.68,430.26 L204.69,430.30 L204.69,430.35 L204.69,430.38 L204.69,430.41 L204.70,430.44 L204.70,430.46 L204.70,430.48 L204.70,430.49 L204.70,430.50 L204.70,430.50 L204.70,430.50 L204.70,430.50 L204.70,430.49 L204.70,430.48 L204.70,430.47 L204.70,430.46 L204.70,430.45 L204.71,430.43 L204.71,430.41 L204.71,430.38 L204.71,430.36 L204.71,430.32 L204.72,430.29 L204.72,430.25 L204.72,430.21 L204.73,430.17 L204.73,430.12 L204.73,430.07 L204.74,430.02 L204.74,429.96 L204.75,429.90 L204.75,429.84 L204.76,429.77 L204.76,429.70 L204.77,429.62 L204.77,429.54 L204.78,429.46 L204.79,429.38 L204.79,429.29 L204.80,429.19 L204.81,429.09 L204.82,428.99 L204.82,428.89 L204.83,428.78 L204.84,428.67 L204.85,428.55 L204.86,428.43 L204.87,428.31 L204.88,428.18 L204.89,428.05 L204.90,427.91 L204.91,427.77 L204.92,427.63 L204.93,427.48 L204.95,427.33 L204.96,427.17 L204.97,427.01 L204.98,426.85 L205.00,426.68 L205.01,426.51 L205.02,426.34 L205.04,426.16 L205.05,425.98 L205.07,425.79 L205.08,425.60 L205.10,425.41 L205.11,425.22 L205.13,425.02 L205.15,424.81 L205.16,424.61 L205.18,424.40 L205.20,424.18 L205.21,423.97 L205.23,423.75 L205.25,423.52 L205.27,423.30 L205.29,423.07 L205.31,422.84 L205.33,422.60 L205.35,422.36 L205.37,422.12 L205.39,421.88 L205.41,421.64 L205.43,421.39 L205.45,421.14 L205.48,420.89 L205.50,420.64 L205.52,420.38 L205.55,420.13 L205.57,419.87 L205.59,419.61 L205.62,419.35 L205.64,419.09 L205.67,418.83 L205.69,418.57 L205.72,418.31 L205.75,418.05 L205.77,417.79 L205.80,417.53 L205.83,417.27 L205.85,417.02 L205.88,416.76 L205.91,416.50 L205.94,416.25 L205.97,416.00 L206.00,415.76 L206.03,415.51 L206.06,415.27 L206.09,415.03 L206.12,414.80 L206.15,414.56 L206.18,414.33 L206.22,414.10 L206.25,413.86 L206.28,413.63 L206.32,413.41 L206.35,413.18 L206.38,412.95 L206.42,412.73 L206.45,412.50 L206.49,412.28 L206.52,412.06 L206.56,411.84 L206.60,411.62 L206.63,411.41 L206.67,411.19 L206.71,410.98 L206.74,410.76 L206.78,410.55 L206.82,410.34 L206.86,410.13 L206.90,409.92 L206.94,409.71 L206.98,409.50 L207.02,409.30 L207.06,409.09 L207.10,408.88 L207.15,408.68 L207.19,408.47 L207.23,408.26 L207.27,408.06 L207.32,407.85 L207.36,407.64 L207.40,407.43 L207.45,407.22 L207.49,407.01 L207.54,406.80 L207.59,406.59 L207.63,406.37 L207.68,406.15 L207.73,405.93 L207.77,405.70 L207.82,405.47 L207.87,405.24 L207.92,405.00 L207.97,404.76 L208.02,404.52 L208.07,404.27 L208.12,404.01 L208.17,403.75 L208.22,403.48 L208.27,403.20 L208.32,402.91 L208.37,402.62 L208.43,402.32 L208.48,402.01 L208.53,401.68 L208.59,401.35 L208.64,401.01 L208.70,400.65 L208.75,400.29 L208.81,399.90 L208.86,399.51 L208.92,399.09 L208.98,398.66 L209.03,398.20 L209.09,397.74 L209.15,397.25 L209.21,396.76 L209.27,396.24 L209.33,395.72 L209.38,395.19 L209.44,394.64 L209.51,394.09 L209.57,393.53 L209.63,392.97 L209.69,392.40 L209.75,391.83 L209.81,391.26 L209.88,390.69 L209.94,390.12 L210.00,389.55 L210.07,388.97 L210.13,388.38 L210.20,387.78 L210.26,387.16 L210.33,386.54 L210.40,385.91 L210.46,385.26 L210.53,384.61 L210.60,383.95 L210.67,383.27 L210.74,382.59 L210.81,381.90 L210.87,381.20 L210.94,380.49 L211.01,379.77 L211.09,379.05 L211.16,378.32 L211.23,377.58 L211.30,376.84 L211.37,376.09 L211.45,375.34 L211.52,374.57 L211.59,373.81 L211.67,373.04 L211.74,372.27 L211.82,371.49 L211.89,370.72 L211.97,369.93 L212.04,369.15 L212.12,368.37 L212.20,367.59 L212.28,366.81 L212.35,366.03 L212.43,365.25 L212.51,364.47 L212.59,363.70 L212.67,362.93 L212.75,362.16 L212.83,361.40 L212.91,360.65 L212.99,359.91 L213.08,359.17 L213.16,358.44 L213.24,357.72 L213.33,357.01 L213.41,356.31 L213.49,355.63 L213.58,354.96 L213.66,354.30 L213.75,353.66 L213.83,353.04 L213.92,352.43 L214.01,351.84 L214.10,351.27 L214.18,350.73 L214.27,350.20 L214.36,349.70 L214.45,349.19 L214.54,348.69 L214.63,348.19 L214.72,347.69 L214.81,347.19 L214.90,346.69 L214.99,346.20 L215.09,345.71 L215.18,345.21 L215.27,344.72 L215.37,344.23 L215.46,343.74 L215.55,343.26 L215.65,342.77 L215.74,342.29 L215.84,341.81 L215.94,341.33 L216.03,340.85 L216.13,340.37 L216.23,339.90 L216.33,339.42 L216.43,338.95 L216.52,338.48 L216.62,338.01 L216.72,337.55 L216.82,337.08 L216.93,336.62 L217.03,336.16 L217.13,335.70 L217.23,335.24 L217.33,334.78 L217.44,334.33 L217.54,333.88 L217.64,333.43 L217.75,332.98 L217.85,332.53 L217.96,332.09 L218.07,331.65 L218.17,331.21 L218.28,330.77 L218.39,330.33 L218.49,329.90 L218.60,329.46 L218.71,329.03 L218.82,328.60 L218.93,328.17 L219.04,327.75 L219.15,327.32 L219.26,326.90 L219.37,326.48 L219.48,326.06 L219.60,325.65 L219.71,325.23 L219.82,324.82 L219.94,324.41 L220.05,324.00 L220.17,323.59 L220.28,323.19 L220.40,322.79 L220.51,322.38 L220.63,321.98 L220.75,321.58 L220.86,321.19 L220.98,320.79 L221.10,320.40 L221.22,320.01 L221.34,319.62 L221.46,319.23 L221.58,318.84 L221.70,318.45 L221.82,318.07 L221.94,317.69 L222.06,317.31 L222.19,316.93 L222.31,316.55 L222.43,316.17 L222.56,315.79 L222.68,315.42 L222.81,315.04 L222.93,314.67 L223.06,314.30 L223.19,313.93 L223.31,313.56 L223.44,313.19 L223.57,312.82 L223.70,312.45 L223.83,312.09 L223.95,311.72 L224.08,311.35 L224.21,310.99 L224.35,310.62 L224.48,310.26 L224.61,309.90 L224.74,309.53 L224.87,309.17 L225.01,308.81 L225.14,308.44 L225.27,308.08 L225.41,307.72 L225.54,307.36 L225.68,306.99 L225.81,306.63 L225.95,306.26 L226.09,305.90 L226.23,305.54 L226.36,305.18 L226.50,304.83 L226.64,304.47 L226.78,304.12 L226.92,303.77 L227.06,303.43 L227.20,303.09 L227.34,302.74 L227.48,302.41 L227.63,302.07 L227.77,301.74 L227.91,301.41 L228.06,301.08 L228.20,300.75 L228.34,300.43 L228.49,300.10 L228.64,299.78 L228.78,299.47 L228.93,299.15 L229.08,298.84 L229.22,298.53 L229.37,298.22 L229.52,297.91 L229.67,297.60 L229.82,297.30 L229.97,297.00 L230.12,296.69 L230.27,296.40 L230.42,296.10 L230.57,295.80 L230.73,295.51 L230.88,295.21 L231.03,294.92 L231.19,294.63 L231.34,294.34 L231.49,294.05 L231.65,293.77 L231.81,293.48 L231.96,293.19 L232.12,292.91 L232.28,292.63 L232.43,292.34 L232.59,292.06 L232.75,291.78 L232.91,291.51 L233.07,291.23 L233.23,290.96 L233.39,290.69 L233.55,290.42 L233.71,290.15 L233.88,289.88 L234.04,289.62 L234.20,289.36 L234.37,289.10 L234.53,288.84 L234.70,288.58 L234.86,288.32 L235.03,288.06 L235.19,287.81 L235.36,287.55 L235.53,287.30 L235.69,287.05 L235.86,286.80 L236.03,286.55 L236.20,286.30 L236.37,286.05 L236.54,285.80 L236.71,285.55 L236.88,285.30 L237.05,285.06 L237.23,284.81 L237.40,284.56 L237.57,284.32 L237.75,284.07 L237.92,283.82 L238.09,283.58 L238.27,283.33 L238.45,283.08 L238.62,282.83 L238.80,282.58 L238.98,282.34 L239.15,282.09 L239.33,281.84 L239.51,281.60 L239.69,281.36 L239.87,281.11 L240.05,280.87 L240.23,280.63 L240.41,280.39 L240.59,280.14 L240.77,279.90 L240.96,279.66 L241.14,279.43 L241.32,279.19 L241.51,278.95 L241.69,278.71 L241.88,278.47 L242.06,278.23 L242.25,278.00 L242.44,277.76 L242.62,277.52 L242.81,277.28 L243.00,277.05 L243.19,276.81 L243.38,276.57 L243.57,276.33 L243.76,276.09 L243.95,275.86 L244.14,275.62 L244.33,275.38 L244.52,275.14 L244.72,274.90 L244.91,274.66 L245.10,274.42 L245.30,274.17 L245.49,273.93 L245.69,273.69 L245.88,273.44 L246.08,273.20 L246.28,272.95 L246.48,272.70 L246.67,272.45 L246.87,272.19 L247.07,271.93 L247.27,271.67 L247.47,271.41 L247.67,271.15 L247.87,270.89 L248.07,270.63 L248.27,270.37 L248.48,270.11 L248.68,269.85 L248.88,269.60 L249.09,269.35 L249.29,269.10 L249.50,268.86 L249.70,268.63 L249.91,268.40 L250.12,268.18 L250.32,267.96 L250.53,267.75 L250.74,267.55 L250.95,267.36 L251.16,267.17 L251.37,266.98 L251.58,266.80 L251.79,266.63 L252.00,266.46 L252.21,266.29 L252.42,266.12 L252.64,265.95 L252.85,265.78 L253.06,265.62 L253.28,265.45 L253.49,265.28 L253.71,265.11 L253.92,264.94 L254.14,264.76 L254.36,264.58 L254.57,264.40 L254.79,264.21 L255.01,264.01 L255.23,263.81 L255.45,263.61 L255.67,263.40 L255.89,263.19 L256.11,262.98 L256.33,262.76 L256.55,262.54 L256.78,262.32 L257.00,262.09 L257.22,261.87 L257.45,261.64 L257.67,261.40 L257.90,261.17 L258.12,260.93 L258.35,260.70 L258.58,260.46 L258.80,260.22 L259.03,259.98 L259.26,259.73 L259.49,259.49 L259.72,259.25 L259.95,259.00 L260.18,258.76 L260.41,258.51 L260.64,258.27 L260.87,258.02 L261.11,257.78 L261.34,257.54 L261.57,257.30 L261.81,257.05 L262.04,256.81 L262.28,256.58 L262.51,256.34 L262.75,256.11 L262.99,255.87 L263.22,255.64 L263.46,255.41 L263.70,255.19 L263.94,254.97 L264.18,254.75 L264.42,254.53 L264.66,254.31 L264.90,254.10 L265.14,253.88 L265.38,253.67 L265.62,253.45 L265.87,253.24 L266.11,253.03 L266.36,252.82 L266.60,252.61 L266.84,252.39 L267.09,252.18 L267.34,251.97 L267.58,251.76 L267.83,251.56 L268.08,251.35 L268.33,251.14 L268.58,250.93 L268.83,250.73 L269.08,250.52 L269.33,250.31 L269.58,250.11 L269.83,249.90 L270.08,249.70 L270.33,249.50 L270.59,249.29 L270.84,249.09 L271.09,248.88 L271.35,248.68 L271.60,248.48 L271.86,248.28 L272.12,248.08 L272.37,247.87 L272.63,247.67 L272.89,247.47 L273.15,247.27 L273.41,247.07 L273.67,246.87 L273.93,246.67 L274.19,246.47 L274.45,246.27 L274.71,246.07 L274.97,245.87 L275.23,245.67 L275.50,245.47 L275.76,245.27 L276.03,245.07 L276.29,244.87 L276.56,244.67 L276.82,244.47 L277.09,244.27 L277.36,244.08 L277.62,243.88 L277.89,243.68 L278.16,243.48 L278.43,243.29 L278.70,243.09 L278.97,242.89 L279.24,242.70 L279.51,242.50 L279.78,242.30 L280.05,242.11 L280.33,241.91 L280.60,241.72 L280.88,241.53 L281.15,241.33 L281.43,241.14 L281.70,240.94 L281.98,240.75 L282.25,240.56 L282.53,240.37 L282.81,240.17 L283.09,239.98 L283.37,239.79 L283.65,239.60 L283.93,239.41 L284.21,239.22 L284.49,239.03 L284.77,238.84 L285.05,238.65 L285.33,238.46 L285.62,238.27 L285.90,238.08 L286.18,237.90 L286.47,237.71 L286.75,237.52 L287.04,237.33 L287.33,237.15 L287.61,236.96 L287.90,236.78 L288.19,236.59 L288.48,236.41 L288.77,236.22 L289.06,236.04 L289.35,235.85 L289.64,235.67 L289.93,235.49 L290.22,235.30 L290.51,235.12 L290.81,234.94 L291.10,234.76 L291.39,234.57 L291.69,234.39 L291.98,234.21 L292.28,234.03 L292.58,233.85 L292.87,233.67 L293.17,233.49 L293.47,233.31 L293.77,233.13 L294.07,232.96 L294.36,232.78 L294.66,232.60 L294.97,232.42 L295.27,232.24 L295.57,232.07 L295.87,231.89 L296.17,231.72 L296.48,231.54 L296.78,231.37 L297.08,231.19 L297.39,231.02 L297.70,230.84 L298.00,230.67 L298.31,230.49 L298.62,230.32 L298.92,230.15 L299.23,229.98 L299.54,229.80 L299.85,229.63 L300.16,229.46 L300.47,229.29 L300.78,229.12 L301.09,228.95 L301.40,228.78 L301.72,228.61 L302.03,228.44 L302.34,228.27 L302.66,228.10 L302.97,227.94 L303.29,227.77 L303.61,227.60 L303.92,227.43 L304.24,227.27 L304.56,227.10 L304.87,226.94 L305.19,226.77 L305.51,226.60 L305.83,226.44 L306.15,226.28 L306.47,226.11 L306.80,225.95 L307.12,225.78 L307.44,225.62 L307.76,225.46 L308.09,225.29 L308.41,225.13 L308.74,224.97 L309.06,224.81 L309.39,224.65 L309.71,224.48 L310.04,224.32 L310.37,224.16 L310.70,224.00 L311.03,223.84 L311.35,223.68 L311.68,223.52 L312.01,223.37 L312.35,223.21 L312.68,223.05 L313.01,222.89 L313.34,222.73 L313.68,222.58 L314.01,222.42 L314.34,222.26 L314.68,222.11 L315.01,221.95 L315.35,221.80 L315.69,221.64 L316.02,221.49 L316.36,221.33 L316.70,221.18 L317.04,221.02 L317.38,220.87 L317.72,220.71 L318.06,220.56 L318.40,220.41 L318.74,220.25 L319.08,220.10 L319.42,219.95 L319.77,219.80 L320.11,219.64 L320.46,219.49 L320.80,219.34 L321.15,219.19 L321.49,219.04 L321.84,218.88 L322.19,218.73 L322.53,218.58 L322.88,218.43 L323.23,218.28 L323.58,218.13 L323.93,217.98 L324.28,217.84 L324.63,217.69 L324.98,217.54 L325.33,217.39 L325.69,217.24 L326.04,217.09 L326.39,216.95 L326.75,216.80 L327.10,216.65 L327.46,216.50 L327.82,216.36 L328.17,216.21 L328.53,216.06 L328.89,215.92 L329.25,215.77 L329.60,215.62 L329.96,215.48 L330.32,215.33 L330.68,215.19 L331.05,215.04 L331.41,214.89 L331.77,214.75 L332.13,214.60 L332.50,214.46 L332.86,214.31 L333.23,214.16 L333.59,214.02 L333.96,213.87 L334.32,213.73 L334.69,213.58 L335.06,213.44 L335.42,213.29 L335.79,213.15 L336.16,213.00 L336.53,212.86 L336.90,212.71 L337.27,212.57 L337.64,212.43 L338.02,212.28 L338.39,212.14 L338.76,211.99 L339.13,211.85 L339.51,211.71 L339.88,211.56 L340.26,211.42 L340.64,211.27 L341.01,211.13 L341.39,210.99 L341.77,210.84 L342.14,210.70 L342.52,210.56 L342.90,210.41 L343.28,210.27 L343.66,210.12 L344.04,209.98 L344.43,209.84 L344.81,209.69 L345.19,209.55 L345.57,209.40 L345.96,209.26 L346.34,209.12 L346.73,208.97 L347.11,208.83 L347.50,208.69 L347.89,208.54 L348.27,208.40 L348.66,208.25 L349.05,208.11 L349.44,207.97 L349.83,207.82 L350.22,207.68 L350.61,207.54 L351.00,207.39 L351.39,207.25 L351.78,207.11 L352.18,206.96 L352.57,206.82 L352.96,206.67 L353.36,206.53 L353.75,206.39 L354.15,206.25 L354.55,206.10 L354.94,205.96 L355.34,205.82 L355.74,205.67 L356.14,205.53 L356.54,205.39 L356.94,205.24 L357.34,205.10 L357.74,204.96 L358.14,204.82 L358.54,204.67 L358.94,204.53 L359.35,204.39 L359.75,204.24 L360.16,204.10 L360.56,203.96 L360.97,203.82 L361.37,203.67 L361.78,203.53 L362.19,203.39 L362.60,203.25 L363.00,203.10 L363.41,202.96 L363.82,202.82 L364.23,202.68 L364.64,202.54 L365.05,202.39 L365.47,202.25 L365.88,202.11 L366.29,201.97 L366.71,201.83 L367.12,201.69 L367.53,201.54 L367.95,201.40 L368.37,201.26 L368.78,201.12 L369.20,200.98 L369.62,200.84 L370.04,200.70 L370.45,200.56 L370.87,200.41 L371.29,200.27 L371.71,200.13 L372.14,199.99 L372.56,199.85 L372.98,199.71 L373.40,199.57 L373.83,199.43 L374.25,199.29 L374.68,199.15 L375.10,199.01 L375.53,198.87 L375.95,198.73 L376.38,198.59 L376.81,198.45 L377.24,198.31 L377.66,198.17 L378.09,198.03 L378.52,197.89 L378.95,197.75 L379.38,197.61 L379.82,197.47 L380.25,197.34 L380.68,197.20 L381.11,197.06 L381.55,196.92 L381.98,196.78 L382.42,196.64 L382.85,196.50 L383.29,196.37 L383.73,196.23 L384.16,196.09 L384.60,195.95 L385.04,195.81 L385.48,195.68 L385.92,195.54 L386.36,195.40 L386.80,195.26 L387.24,195.13 L387.68,194.99 L388.13,194.85 L388.57,194.71 L389.01,194.58 L389.46,194.44 L389.90,194.30 L390.35,194.17 L390.80,194.03 L391.24,193.90 L391.69,193.76 L392.14,193.62 L392.59,193.49 L393.04,193.35 L393.49,193.22 L393.94,193.08 L394.39,192.95 L394.84,192.81 L395.29,192.68 L395.74,192.54 L396.20,192.41 L396.65,192.27 L397.10,192.14 L397.56,192.00 L398.01,191.87 L398.47,191.73 L398.93,191.60 L399.38,191.47 L399.84,191.33 L400.30,191.20 L400.76,191.07 L401.22,190.93 L401.68,190.80 L402.14,190.67 L402.60,190.53 L403.06,190.40 L403.53,190.27 L403.99,190.14 L404.45,190.01 L404.92,189.87 L405.38,189.74 L405.85,189.61 L406.31,189.48 L406.78,189.35 L407.25,189.22 L407.72,189.08 L408.18,188.95 L408.65,188.82 L409.12,188.69 L409.59,188.56 L410.06,188.43 L410.54,188.30 L411.01,188.17 L411.48,188.04 L411.95,187.91 L412.43,187.78 L412.90,187.65 L413.38,187.53 L413.85,187.40 L414.33,187.27 L414.80,187.14 L415.28,187.01 L415.76,186.88 L416.24,186.76 L416.72,186.63 L417.20,186.50 L417.68,186.37 L418.16,186.25 L418.64,186.12 L419.12,185.99 L419.60,185.87 L420.09,185.74 L420.57,185.61 L421.06,185.49 L421.54,185.36 L422.03,185.24 L422.51,185.11 L423.00,184.98 L423.49,184.86 L423.98,184.73 L424.46,184.61 L424.95,184.49 L425.44,184.36 L425.93,184.24 L426.42,184.11 L426.92,183.99 L427.41,183.87 L427.90,183.74 L428.39,183.62 L428.89,183.50 L429.38,183.38 L429.88,183.25 L430.37,183.13 L430.87,183.01 L431.37,182.89 L431.86,182.77 L432.36,182.64 L432.86,182.52 L433.36,182.40 L433.86,182.28 L434.36,182.16 L434.86,182.04 L435.36,181.92 L435.86,181.80 L436.37,181.68 L436.87,181.56 L437.37,181.44 L437.88,181.32 L438.38,181.21 L438.89,181.09 L439.40,180.97 L439.90,180.85 L440.41,180.73 L440.92,180.62 L441.43,180.50 L441.94,180.38 L442.45,180.27 L442.96,180.15 L443.47,180.03 L443.98,179.92 L444.49,179.80 L445.01,179.69 L445.52,179.57 L446.03,179.46 L446.55,179.34 L447.06,179.23 L447.58,179.11 L448.10,179.00 L448.61,178.89 L449.13,178.77 L449.65,178.66 L450.17,178.55 L450.69,178.43 L451.21,178.32 L451.73,178.21 L452.25,178.10 L452.77,177.98 L453.30,177.87 L453.82,177.76 L454.34,177.65 L454.87,177.54 L455.39,177.43 L455.92,177.32 L456.44,177.21 L456.97,177.10 L457.50,176.99 L458.03,176.88 L458.55,176.77 L459.08,176.67 L459.61,176.56 L460.14,176.45 L460.67,176.34 L461.21,176.24 L461.74,176.13 L462.27,176.02 L462.80,175.92 L463.34,175.81 L463.87,175.70 L464.41,175.60 L464.94,175.49 L465.48,175.39 L466.02,175.28 L466.55,175.18 L467.09,175.07 L467.63,174.97 L468.17,174.87 L468.71,174.76 L469.25,174.66 L469.79,174.56 L470.33,174.46 L470.88,174.35 L471.42,174.25 L471.96,174.15 L472.51,174.05 L473.05,173.95 L473.60,173.85 L474.14,173.75 L474.69,173.65 L475.24,173.55 L475.79,173.45 L476.33,173.35 L476.88,173.25 L477.43,173.15 L477.98,173.06 L478.53,172.96 L479.09,172.86 L479.64,172.77 L480.19,172.67 L480.74,172.57 L481.30,172.48 L481.85,172.38 L482.41,172.29 L482.96,172.19 L483.52,172.10 L484.08,172.00 L484.63,171.91 L485.19,171.81 L485.75,171.72 L486.31,171.63 L486.87,171.53 L487.43,171.44 L487.99,171.35 L488.55,171.26 L489.12,171.17 L489.68,171.08 L490.24,170.99 L490.81,170.90 L491.37,170.81 L491.94,170.72 L492.50,170.63 L493.07,170.54 L493.64,170.45 L494.21,170.36 L494.77,170.27 L495.34,170.19 L495.91,170.10 L496.48,170.01 L497.05,169.93 L497.63,169.84 L498.20,169.76 L498.77,169.67 L499.34,169.59 L499.92,169.50 L500.49,169.42 L501.07,169.33 L501.64,169.25 L502.22,169.17 L502.80,169.08 L503.37,169.00 L503.95,168.92 L504.53,168.84 L505.11,168.76 L505.69,168.68 L506.27,168.60 L506.85,168.52 L507.43,168.44 L508.02,168.36 L508.60,168.28 L509.18,168.20 L509.77,168.12 L510.35,168.05 L510.94,167.97 L511.52,167.89 L512.11,167.82 L512.70,167.74 L513.29,167.67 L513.87,167.59 L514.46,167.52 L515.05,167.44 L515.64,167.37 L516.24,167.30 L516.83,167.22 L517.42,167.15 L518.01,167.08 L518.61,167.01 L519.20,166.93 L519.79,166.86 L520.39,166.79 L520.99,166.72 L521.58,166.65 L522.18,166.58 L522.78,166.52 L523.38,166.45 L523.97,166.38 L524.57,166.31 L525.17,166.24 L525.78,166.18 L526.38,166.11 L526.98,166.05 L527.58,165.98 L528.19,165.92 L528.79,165.85 L529.39,165.79 L530.00,165.73 L530.60,165.66 L531.21,165.60 L531.82,165.54 L532.43,165.48 L533.03,165.41 L533.64,165.35 L534.25,165.29 L534.86,165.23 L535.47,165.17 L536.08,165.11 L536.70,165.06 L537.31,165.00 L537.92,164.94 L538.54,164.88 L539.15,164.83 L539.76,164.77 L540.38,164.72 L541.00,164.66 L541.61,164.61 L542.23,164.55 L542.85,164.50 L543.47,164.45 L544.09,164.39 L544.71,164.34 L545.33,164.29 L545.95,164.24 L546.57,164.19 L547.19,164.14 L547.82,164.09 L548.44,164.04 L549.06,163.99 L549.69,163.94 L550.31,163.89 L550.94,163.85 L551.57,163.80 L552.19,163.75 L552.82,163.71 L553.45,163.66 L554.08,163.62 L554.71,163.57 L555.34,163.53 L555.97,163.49 L556.60,163.44 L557.24,163.40 L557.87,163.36 L558.50,163.32 L559.14,163.28 L559.77,163.24 L560.41,163.20 L561.04,163.16 L561.68,163.12 L562.32,163.08 L562.95,163.05 L563.59,163.01 L564.23,162.97 L564.87,162.94 L565.51,162.90 L566.15,162.87 L566.79,162.83 L567.44,162.80 L568.08,162.77 L568.72,162.73 L569.37,162.70 L570.01,162.67 L570.66,162.64 L571.30,162.61 L571.95,162.58 L572.60,162.55 L573.24,162.52 L573.89,162.50 L574.54,162.47 L575.19,162.44 L575.84,162.42 L576.49,162.39 L577.14,162.36 L577.80,162.34 L578.45,162.31 L579.10,162.29 L579.76,162.27 L580.41,162.24 L581.07,162.22 L581.72,162.20 L582.38,162.18 L583.04,162.16 L583.69,162.14 L584.35,162.12 L585.01,162.11 L585.67,162.09 L586.33,162.07 L586.99,162.06 L587.65,162.04 L588.32,162.02 L588.98,162.01 L589.64,161.99 L590.31,161.98 L590.97,161.96 L591.64,161.95 L592.30,161.94 L592.97,161.93 L593.64,161.92 L594.30,161.91 L594.97,161.90 L595.64,161.90 L596.31,161.89 L596.98,161.89 L597.65,161.88 L598.32,161.88 L598.99,161.87 L599.67,161.87 L600.34,161.87 L601.02,161.86 L601.69,161.86 L602.36,161.86 L603.04,161.85 L603.72,161.85 L604.39,161.85 L605.07,161.85 L605.75,161.85 L606.43,161.85 L607.11,161.85 L607.79,161.85 L608.47,161.85 L609.15,161.85 L609.83,161.86 L610.52,161.86 L611.20,161.87 L611.88,161.88 L612.57,161.89 L613.25,161.90 L613.94,161.91 L614.63,161.92 L615.31,161.93 L616.00,161.94 L616.69,161.95 L617.38,161.96 L618.07,161.97 L618.76,161.98 L619.45,162.00 L620.14,162.01 L620.83,162.03 L621.53,162.04 L622.22,162.06 L622.91,162.08 L623.61,162.10 L624.30,162.12 L625.00,162.14 L625.70,162.16 L626.39,162.18 L627.09,162.20 L627.79,162.23 L628.49,162.25 L629.19,162.27 L629.89,162.30 L630.59,162.32 L631.29,162.35 L631.99,162.37 L632.70,162.40 L633.40,162.43 L634.11,162.46 L634.81,162.49 L635.52,162.52 L636.22,162.55 L636.93,162.58 L637.64,162.61 L638.34,162.65 L639.05,162.68 L639.76,162.72 L640.47,162.75 L641.18,162.79 L641.89,162.82 L642.60,162.86 L643.32,162.90 L644.03,162.94 L644.74,162.98 L645.46,163.02 L646.17,163.06 L646.89,163.10 L647.60,163.15 L648.32,163.19 L649.04,163.23 L649.76,163.28 L650.47,163.33 L651.19,163.37 L651.91,163.42 L652.63,163.47 L653.36,163.52 L654.08,163.57 L654.80,163.62 L655.52,163.67 L656.25,163.72 L656.97,163.77 L657.70,163.83 L658.42,163.88 L659.15,163.94 L659.88,163.99 L660.60,164.05 L661.33,164.11 L662.06,164.17 L662.79,164.23 L663.52,164.29 L664.25,164.35 L664.98,164.41 L665.71,164.47 L666.45,164.53 L667.18,164.60 L667.91,164.66 L668.65,164.73 L669.38,164.79 L670.12,164.86 L670.85,164.93 L671.59,165.00 L672.33,165.07 L673.07,165.14 L673.81,165.21 L674.55,165.28 L675.29,165.35 L676.03,165.43 L676.77,165.50 L677.51,165.58 L678.25,165.65 L679.00,165.73 L679.74,165.81 L680.49,165.89 L681.23,165.97 L681.98,166.05 L682.72,166.13 L683.47,166.21 L684.22,166.30 L684.97,166.38 L685.72,166.46 L686.47,166.55 L687.22,166.64 L687.97,166.72 L688.72,166.81 L689.47,166.90 L690.22,166.99 L690.98,167.08 L691.73,167.17 L692.49,167.27 L693.24,167.36 L694.00,167.45 L694.76,167.55 L695.51,167.64 L696.27,167.74 L697.03,167.84 L697.79,167.94 L698.55,168.04 L699.31,168.14 L700.07,168.24 L700.83,168.34 L701.60,168.44 L702.36,168.55 L703.12,168.65 L703.89,168.76 L704.65,168.87 L705.42,168.97 L706.18,169.08 L706.95,169.19 L707.72,169.30 L708.49,169.41 L709.26,169.53 L710.03,169.64 L710.80,169.75 L711.57,169.87 L712.34,169.98 L713.11,170.10 L713.88,170.22 L714.66,170.34 L715.43,170.46 L716.21,170.58 L716.98,170.70 L717.76,170.82 L718.53,170.95 L719.31,171.07 L720.09,171.19 L720.87,171.32 L721.65,171.45 L722.43,171.58 L723.21,171.70 L723.99,171.83 L724.77,171.97 L725.55,172.10 L726.33,172.23 L727.12,172.36 L727.90,172.50 L728.69,172.64 L729.47,172.77 L730.26,172.91 L731.05,173.05 L731.83,173.19 L732.62,173.33 L733.41,173.47 L734.20,173.61 L734.99,173.76 L735.78,173.90 L736.57,174.05 L737.36,174.19 L738.16,174.34 L738.95,174.49 L739.74,174.64 L740.54,174.79 L741.33,174.94 L742.13,175.10 L742.93,175.25 L743.72,175.40 L744.52,175.56 L745.32,175.71 L746.12,175.87 L746.92,176.03 L747.72,176.19 L748.52,176.35 L749.32,176.51 L750.12,176.68 L750.93,176.84 L751.73,177.01 L752.54,177.17 L753.34,177.34" stroke="#0aa5ff" stroke-width="3.7"/>
<path d="M158.80,275.95 L158.98,276.12 L159.16,276.28 L159.35,276.44 L159.53,276.61 L159.71,276.78 L159.89,276.95 L160.08,277.12 L160.26,277.29 L160.44,277.46 L160.62,277.64 L160.80,277.81 L160.98,277.99 L161.16,278.17 L161.34,278.35 L161.52,278.53 L161.69,278.71 L161.87,278.89 L162.05,279.07 L162.23,279.25 L162.40,279.44 L162.58,279.62 L162.76,279.81 L162.93,280.00 L163.11,280.19 L163.28,280.37 L163.46,280.56 L163.63,280.75 L163.80,280.95 L163.98,281.14 L164.15,281.33 L164.32,281.52 L164.50,281.72 L164.67,281.91 L164.84,282.11 L165.01,282.30 L165.18,282.50 L165.35,282.70 L165.52,282.90 L165.69,283.10 L165.86,283.29 L166.03,283.49 L166.20,283.69 L166.37,283.90 L166.54,284.10 L166.70,284.30 L166.87,284.50 L167.04,284.70 L167.20,284.91 L167.37,285.11 L167.54,285.31 L167.70,285.52 L167.87,285.72 L168.03,285.93 L168.19,286.13 L168.36,286.34 L168.52,286.54 L168.69,286.75 L168.85,286.95 L169.01,287.16 L169.17,287.37 L169.33,287.58 L169.50,287.79 L169.66,288.01 L169.82,288.23 L169.98,288.45 L170.14,288.67 M178.22,300.98 L178.36,301.18 L178.50,301.38 L178.64,301.58 L178.78,301.77 L178.91,301.97 L179.05,302.16 L179.19,302.35 L179.33,302.55 L179.46,302.74 L179.60,302.93 L179.73,303.12 L179.87,303.31 L180.01,303.50 L180.14,303.69 L180.27,303.88 L180.41,304.07 L180.54,304.26 L180.68,304.46 L180.81,304.65 L180.94,304.84 L181.07,305.04 L181.21,305.23 L181.34,305.43 L181.47,305.62 L181.60,305.82 L181.73,306.02 L181.86,306.23 L181.99,306.43 L182.12,306.63 L182.25,306.84 L182.37,307.05 L182.50,307.25 L182.63,307.46 L182.76,307.67 L182.88,307.87 L183.01,308.08 L183.14,308.28 L183.26,308.49 L183.39,308.69 L183.51,308.90 L183.64,309.11 L183.76,309.31 L183.89,309.52 L184.01,309.73 L184.13,309.94 L184.26,310.15 L184.38,310.37 L184.50,310.58 L184.62,310.80 L184.75,311.01 L184.87,311.23 L184.99,311.45 L185.11,311.68 L185.23,311.90 L185.35,312.13 L185.47,312.36 L185.59,312.59 L185.70,312.83 L185.82,313.06 L185.94,313.30 L186.06,313.54 L186.18,313.79 L186.29,314.04 L186.41,314.29 L186.52,314.54 M190.96,327.65 L191.06,327.94 L191.16,328.24 L191.26,328.52 L191.36,328.81 L191.46,329.08 L191.56,329.36 L191.66,329.62 L191.75,329.88 L191.85,330.14 L191.95,330.39 L192.05,330.64 L192.14,330.88 L192.24,331.12 L192.33,331.36 L192.43,331.59 L192.52,331.82 L192.62,332.05 L192.71,332.27 L192.81,332.50 L192.90,332.72 L192.99,332.93 L193.09,333.15 L193.18,333.36 L193.27,333.57 L193.36,333.78 L193.45,333.98 L193.54,334.19 L193.63,334.39 L193.72,334.59 L193.81,334.79 L193.90,334.98 L193.99,335.18 L194.08,335.37 L194.17,335.56 L194.26,335.75 L194.35,335.94 L194.43,336.13 L194.52,336.32 L194.61,336.50 L194.69,336.69 L194.78,336.87 L194.86,337.06 L194.95,337.24 L195.03,337.42 L195.12,337.60 L195.20,337.78 L195.28,337.96 L195.37,338.14 L195.45,338.32 L195.53,338.50 L195.61,338.68 L195.70,338.85 L195.78,339.03 L195.86,339.21 L195.94,339.39 L196.02,339.56 L196.10,339.74 L196.18,339.92 L196.26,340.09 L196.34,340.27 L196.41,340.45 L196.49,340.62 L196.57,340.80 L196.65,340.98 L196.72,341.16 L196.80,341.33 L196.88,341.51 L196.95,341.69 L197.03,341.87 L197.10,342.05 L197.18,342.23 L197.25,342.41 L197.33,342.59 L197.40,342.77 L197.47,342.95 M202.63,361.01 L202.67,361.22 L202.71,361.43 L202.74,361.65 L202.78,361.86 L202.82,362.08 L202.86,362.29 L202.89,362.51 L202.93,362.73 L202.97,362.94 L203.00,363.16 L203.04,363.38 L203.07,363.60 L203.11,363.83 L203.14,364.05 L203.17,364.27 L203.21,364.49 L203.24,364.72 L203.27,364.94 L203.30,365.16 L203.34,365.39 L203.37,365.61 L203.40,365.83 L203.43,366.06 L203.46,366.28 L203.49,366.50 L203.52,366.72 L203.55,366.94 L203.58,367.16 L203.61,367.38 L203.64,367.59 L203.66,367.81 L203.69,368.02 L203.72,368.23 L203.74,368.45 L203.77,368.66 L203.80,368.86 L203.82,369.07 L203.85,369.28 L203.87,369.48 L203.90,369.68 L203.92,369.88 L203.94,370.08 L203.97,370.27 L203.99,370.47 L204.01,370.66 L204.04,370.85 L204.06,371.04 L204.08,371.22 L204.10,371.40 L204.12,371.58 L204.14,371.76 L204.16,371.93 L204.18,372.11 L204.20,372.28 L204.22,372.44 L204.24,372.61 L204.26,372.77 L204.28,372.93 L204.29,373.09 L204.31,373.24 L204.33,373.39 L204.34,373.54 L204.36,373.68 L204.37,373.83 L204.39,373.96 L204.41,374.10 L204.42,374.23 L204.43,374.36 L204.45,374.49 L204.46,374.61 L204.47,374.73 L204.49,374.85 L204.50,374.97 L204.51,375.08 L204.52,375.19 L204.53,375.29 L204.54,375.39 L204.56,375.49 L204.57,375.58 L204.58,375.68 L204.58,375.76 L204.59,375.85 L204.60,375.93 L204.61,376.01 L204.62,376.08 L204.63,376.15 L204.63,376.22 L204.64,376.29 L204.65,376.35 L204.65,376.41 L204.66,376.46 L204.66,376.51 L204.67,376.56 L204.67,376.60 L204.68,376.64 L204.68,376.68 L204.69,376.71 L204.69,376.74 L204.69,376.77 L204.69,376.79 L204.70,376.81 L204.70,376.83 L204.70,376.84 L204.70,376.85 L204.70,376.85 L204.70,376.86 L204.70,376.85 L204.70,376.85 L204.70,376.85 L204.70,376.84 L204.70,376.84 L204.70,376.83 L204.70,376.82 L204.71,376.80 L204.71,376.79 L204.71,376.77 L204.71,376.75 L204.71,376.73 L204.72,376.71 L204.72,376.68 L204.72,376.65 L204.73,376.62 L204.73,376.59 L204.73,376.55 L204.74,376.51 L204.74,376.47 L204.75,376.43 L204.75,376.38 L204.76,376.33 L204.76,376.28 L204.77,376.23 L204.77,376.17 L204.78,376.11 L204.79,376.05 L204.79,375.99 L204.80,375.92 L204.81,375.85 L204.82,375.78 L204.82,375.70 L204.83,375.63 L204.84,375.55 L204.85,375.46 L204.86,375.38 L204.87,375.29 L204.88,375.20 L204.89,375.11 L204.90,375.01 L204.91,374.91 L204.92,374.81 L204.93,374.71 L204.95,374.60 L204.96,374.49 L204.97,374.38 L204.98,374.26 L205.00,374.14 L205.01,374.02 L205.02,373.90 L205.04,373.77 L205.05,373.64 L205.07,373.51 L205.08,373.38 L205.10,373.24 L205.11,373.10 L205.13,372.96 L205.15,372.82 L205.16,372.67 L205.18,372.52 L205.20,372.37 L205.21,372.22 L205.23,372.06 L205.25,371.90 L205.27,371.74 L205.29,371.58 L205.31,371.41 L205.33,371.24 L205.35,371.07 L205.37,370.90 L205.39,370.72 L205.41,370.54 L205.43,370.36 L205.45,370.18 L205.48,370.00 L205.50,369.81 L205.52,369.62 L205.55,369.43 L205.57,369.24 L205.59,369.05 L205.62,368.85 L205.64,368.65 L205.67,368.45 L205.69,368.25 L205.72,368.05 L205.75,367.84 L205.77,367.64 L205.80,367.43 L205.83,367.22 L205.85,367.01 L205.88,366.80 L205.91,366.59 L205.94,366.37 L205.97,366.16 L206.00,365.94 L206.03,365.72 L206.06,365.51 L206.09,365.29 L206.12,365.07 L206.15,364.85 L206.18,364.63 L206.22,364.41 L206.25,364.19 L206.28,363.96 L206.32,363.74 L206.35,363.52 L206.38,363.30 L206.42,363.08 L206.45,362.86 L206.49,362.64 L206.52,362.41 L206.56,362.19 L206.60,361.97 L206.63,361.75 L206.67,361.53 L206.71,361.30 L206.74,361.08 M208.43,352.93 L208.48,352.74 L208.53,352.55 L208.59,352.36 L208.64,352.17 L208.70,351.98 L208.75,351.80 L208.81,351.62 L208.86,351.43 L208.92,351.25 L208.98,351.08 L209.03,350.90 L209.09,350.72 L209.15,350.55 L209.21,350.37 L209.27,350.20 L209.33,350.03 L209.38,349.86 L209.44,349.69 L209.51,349.52 L209.57,349.36 L209.63,349.19 L209.69,349.02 L209.75,348.85 L209.81,348.69 L209.88,348.52 L209.94,348.36 L210.00,348.19 L210.07,348.02 L210.13,347.86 L210.20,347.69 L210.26,347.52 L210.33,347.35 L210.40,347.18 L210.46,347.01 L210.53,346.84 L210.60,346.67 L210.67,346.49 L210.74,346.31 L210.81,346.14 L210.87,345.95 L210.94,345.77 L211.01,345.58 L211.09,345.39 L211.16,345.20 L211.23,345.01 L211.30,344.82 L211.37,344.63 L211.45,344.44 L211.52,344.25 L211.59,344.06 L211.67,343.87 L211.74,343.68 L211.82,343.49 L211.89,343.30 L211.97,343.12 L212.04,342.93 L212.12,342.74 L212.20,342.55 L212.28,342.36 L212.35,342.17 L212.43,341.98 L212.51,341.78 L212.59,341.59 L212.67,341.39 L212.75,341.20 L212.83,341.00 L212.91,340.80 L212.99,340.60 L213.08,340.39 L213.16,340.19 L213.24,339.98 L213.33,339.76 L213.41,339.55 L213.49,339.33 L213.58,339.11 L213.66,338.89 L213.75,338.66 L213.83,338.42 L213.92,338.19 M218.71,321.83 L218.82,321.55 L218.93,321.27 L219.04,321.00 L219.15,320.72 L219.26,320.45 L219.37,320.18 L219.48,319.91 L219.60,319.64 L219.71,319.38 L219.82,319.11 L219.94,318.85 L220.05,318.58 L220.17,318.32 L220.28,318.06 L220.40,317.81 L220.51,317.55 L220.63,317.29 L220.75,317.04 L220.86,316.79 L220.98,316.54 L221.10,316.29 L221.22,316.04 L221.34,315.79 L221.46,315.54 L221.58,315.30 L221.70,315.05 L221.82,314.81 L221.94,314.56 L222.06,314.32 L222.19,314.08 L222.31,313.84 L222.43,313.60 L222.56,313.36 L222.68,313.12 L222.81,312.89 L222.93,312.65 L223.06,312.41 L223.19,312.18 L223.31,311.94 L223.44,311.71 L223.57,311.47 L223.70,311.24 L223.83,311.00 L223.95,310.77 L224.08,310.53 L224.21,310.30 L224.35,310.06 L224.48,309.83 L224.61,309.59 L224.74,309.36 L224.87,309.12 L225.01,308.89 L225.14,308.65 L225.27,308.41 L225.41,308.17 L225.54,307.93 L225.68,307.69 M232.91,295.85 L233.07,295.63 L233.23,295.41 L233.39,295.19 L233.55,294.97 L233.71,294.76 L233.88,294.54 L234.04,294.33 L234.20,294.13 L234.37,293.92 L234.53,293.72 L234.70,293.51 L234.86,293.32 L235.03,293.12 L235.19,292.92 L235.36,292.73 L235.53,292.54 L235.69,292.35 L235.86,292.16 L236.03,291.97 L236.20,291.78 L236.37,291.60 L236.54,291.41 L236.71,291.23 L236.88,291.05 L237.05,290.87 L237.23,290.69 L237.40,290.51 L237.57,290.34 L237.75,290.16 L237.92,289.99 L238.09,289.81 L238.27,289.64 L238.45,289.47 L238.62,289.30 L238.80,289.13 L238.98,288.96 L239.15,288.79 L239.33,288.62 L239.51,288.46 L239.69,288.29 L239.87,288.13 L240.05,287.96 L240.23,287.79 L240.41,287.63 L240.59,287.47 L240.77,287.30 L240.96,287.14 L241.14,286.97 L241.32,286.81 L241.51,286.65 L241.69,286.48 L241.88,286.32 L242.06,286.16 L242.25,285.99 L242.44,285.83 L242.62,285.66 L242.81,285.50 L243.00,285.33 L243.19,285.17 L243.38,285.00 L243.57,284.83 L243.76,284.66 L243.95,284.49 L244.14,284.32 L244.33,284.15 M256.55,272.31 L256.78,272.12 L257.00,271.93 L257.22,271.75 L257.45,271.57 L257.67,271.40 L257.90,271.22 L258.12,271.05 L258.35,270.89 L258.58,270.72 L258.80,270.56 L259.03,270.41 L259.26,270.25 L259.49,270.11 L259.72,269.97 L259.95,269.83 L260.18,269.69 L260.41,269.56 L260.64,269.43 L260.87,269.31 L261.11,269.18 L261.34,269.06 L261.57,268.94 L261.81,268.82 L262.04,268.69 L262.28,268.57 L262.51,268.45 L262.75,268.33 L262.99,268.20 L263.22,268.07 L263.46,267.94 L263.70,267.80 L263.94,267.66 L264.18,267.52 L264.42,267.37 L264.66,267.23 L264.90,267.08 L265.14,266.92 L265.38,266.77 L265.62,266.61 L265.87,266.45 L266.11,266.29 L266.36,266.13 L266.60,265.97 L266.84,265.80 L267.09,265.64 L267.34,265.47 L267.58,265.30 L267.83,265.13 L268.08,264.96 L268.33,264.79 L268.58,264.61 L268.83,264.44 L269.08,264.27 L269.33,264.09 M283.37,254.99 L283.65,254.82 L283.93,254.65 L284.21,254.49 L284.49,254.32 L284.77,254.16 L285.05,253.99 L285.33,253.83 L285.62,253.66 L285.90,253.50 L286.18,253.34 L286.47,253.17 L286.75,253.01 L287.04,252.84 L287.33,252.68 L287.61,252.52 L287.90,252.35 L288.19,252.19 L288.48,252.03 L288.77,251.86 L289.06,251.70 L289.35,251.54 L289.64,251.38 L289.93,251.21 L290.22,251.05 L290.51,250.89 L290.81,250.73 L291.10,250.57 L291.39,250.41 L291.69,250.24 L291.98,250.08 L292.28,249.92 L292.58,249.76 L292.87,249.60 L293.17,249.44 L293.47,249.28 L293.77,249.12 L294.07,248.96 L294.36,248.80 L294.66,248.64 L294.97,248.48 L295.27,248.32 L295.57,248.16 L295.87,248.00 L296.17,247.84 L296.48,247.68 L296.78,247.53 L297.08,247.37 L297.39,247.21 L297.70,247.05 M311.03,240.60 L311.35,240.45 L311.68,240.30 L312.01,240.16 L312.35,240.01 L312.68,239.86 L313.01,239.71 L313.34,239.56 L313.68,239.42 L314.01,239.27 L314.34,239.12 L314.68,238.97 L315.01,238.83 L315.35,238.68 L315.69,238.53 L316.02,238.39 L316.36,238.24 L316.70,238.10 L317.04,237.95 L317.38,237.80 L317.72,237.66 L318.06,237.51 L318.40,237.37 L318.74,237.23 L319.08,237.08 L319.42,236.94 L319.77,236.79 L320.11,236.65 L320.46,236.51 L320.80,236.36 L321.15,236.22 L321.49,236.08 L321.84,235.93 L322.19,235.79 L322.53,235.65 L322.88,235.51 L323.23,235.37 L323.58,235.22 L323.93,235.08 L324.28,234.94 L324.63,234.80 L324.98,234.66 L325.33,234.52 M339.51,229.19 L339.88,229.06 L340.26,228.93 L340.64,228.79 L341.01,228.66 L341.39,228.53 L341.77,228.40 L342.14,228.26 L342.52,228.13 L342.90,228.00 L343.28,227.87 L343.66,227.74 L344.04,227.61 L344.43,227.48 L344.81,227.35 L345.19,227.21 L345.57,227.08 L345.96,226.95 L346.34,226.82 L346.73,226.69 L347.11,226.56 L347.50,226.43 L347.89,226.30 L348.27,226.17 L348.66,226.04 L349.05,225.91 L349.44,225.79 L349.83,225.66 L350.22,225.53 L350.61,225.40 L351.00,225.27 L351.39,225.14 L351.78,225.01 L352.18,224.89 L352.57,224.76 L352.96,224.63 L353.36,224.50 L353.75,224.38 L354.15,224.25 L354.55,224.12 L354.94,223.99 M370.04,219.40 L370.45,219.28 L370.87,219.16 L371.29,219.04 L371.71,218.92 L372.14,218.80 L372.56,218.68 L372.98,218.56 L373.40,218.44 L373.83,218.32 L374.25,218.20 L374.68,218.08 L375.10,217.96 L375.53,217.84 L375.95,217.72 L376.38,217.60 L376.81,217.49 L377.24,217.37 L377.66,217.25 L378.09,217.13 L378.52,217.02 L378.95,216.90 L379.38,216.78 L379.82,216.66 L380.25,216.55 L380.68,216.43 L381.11,216.31 L381.55,216.20 L381.98,216.08 L382.42,215.97 L382.85,215.85 L383.29,215.73 L383.73,215.62 L384.16,215.50 L384.60,215.39 L385.04,215.27 L385.48,215.16 M400.30,211.49 L400.76,211.38 L401.22,211.27 L401.68,211.16 L402.14,211.06 L402.60,210.95 L403.06,210.84 L403.53,210.74 L403.99,210.63 L404.45,210.52 L404.92,210.42 L405.38,210.31 L405.85,210.21 L406.31,210.10 L406.78,209.99 L407.25,209.89 L407.72,209.78 L408.18,209.68 L408.65,209.58 L409.12,209.47 L409.59,209.37 L410.06,209.26 L410.54,209.16 L411.01,209.06 L411.48,208.95 L411.95,208.85 L412.43,208.75 L412.90,208.64 L413.38,208.54 L413.85,208.44 L414.33,208.34 L414.80,208.24 L415.28,208.13 M431.37,204.89 L431.86,204.80 L432.36,204.70 L432.86,204.61 L433.36,204.52 L433.86,204.42 L434.36,204.33 L434.86,204.24 L435.36,204.14 L435.86,204.05 L436.37,203.96 L436.87,203.86 L437.37,203.77 L437.88,203.68 L438.38,203.59 L438.89,203.49 L439.40,203.40 L439.90,203.31 L440.41,203.22 L440.92,203.13 L441.43,203.04 L441.94,202.95 L442.45,202.86 L442.96,202.77 L443.47,202.68 L443.98,202.58 L444.49,202.50 L445.01,202.41 L445.52,202.32 L446.03,202.23 M461.74,199.63 L462.27,199.55 L462.80,199.47 L463.34,199.38 L463.87,199.30 L464.41,199.22 L464.94,199.13 L465.48,199.05 L466.02,198.97 L466.55,198.89 L467.09,198.80 L467.63,198.72 L468.17,198.64 L468.71,198.56 L469.25,198.48 L469.79,198.40 L470.33,198.31 L470.88,198.23 L471.42,198.15 L471.96,198.07 L472.51,197.99 L473.05,197.91 L473.60,197.83 L474.14,197.75 L474.69,197.67 L475.24,197.59 L475.79,197.51 L476.33,197.43 L476.88,197.35 L477.43,197.27 L477.98,197.19 L478.53,197.12 M494.77,194.91 L495.34,194.83 L495.91,194.76 L496.48,194.69 L497.05,194.61 L497.63,194.54 L498.20,194.47 L498.77,194.39 L499.34,194.32 L499.92,194.25 L500.49,194.18 L501.07,194.11 L501.64,194.04 L502.22,193.96 L502.80,193.89 L503.37,193.82 L503.95,193.75 L504.53,193.68 L505.11,193.61 L505.69,193.54 L506.27,193.47 L506.85,193.40 L507.43,193.33 L508.02,193.26 L508.60,193.19 L509.18,193.13 L509.77,193.06 L510.35,192.99 M525.78,191.28 L526.38,191.22 L526.98,191.16 L527.58,191.09 L528.19,191.03 L528.79,190.97 L529.39,190.91 L530.00,190.85 L530.60,190.79 L531.21,190.72 L531.82,190.66 L532.43,190.60 L533.03,190.54 L533.64,190.48 L534.25,190.42 L534.86,190.36 L535.47,190.30 L536.08,190.25 L536.70,190.19 L537.31,190.13 L537.92,190.07 L538.54,190.01 L539.15,189.95 L539.76,189.90 L540.38,189.84 L541.00,189.78 L541.61,189.72 M558.50,188.28 L559.14,188.23 L559.77,188.18 L560.41,188.13 L561.04,188.08 L561.68,188.03 L562.32,187.98 L562.95,187.93 L563.59,187.88 L564.23,187.84 L564.87,187.79 L565.51,187.74 L566.15,187.69 L566.79,187.65 L567.44,187.60 L568.08,187.55 L568.72,187.51 L569.37,187.46 L570.01,187.41 L570.66,187.37 L571.30,187.32 L571.95,187.28 L572.60,187.23 L573.24,187.19 L573.89,187.15 M589.64,186.17 L590.31,186.13 L590.97,186.10 L591.64,186.06 L592.30,186.02 L592.97,185.99 L593.64,185.95 L594.30,185.92 L594.97,185.88 L595.64,185.85 L596.31,185.81 L596.98,185.78 L597.65,185.74 L598.32,185.71 L598.99,185.68 L599.67,185.64 L600.34,185.61 L601.02,185.58 L601.69,185.55 L602.36,185.51 L603.04,185.48 L603.72,185.45 L604.39,185.42 L605.07,185.39 L605.75,185.36 M622.22,184.72 L622.91,184.70 L623.61,184.67 L624.30,184.65 L625.00,184.63 L625.70,184.61 L626.39,184.59 L627.09,184.57 L627.79,184.55 L628.49,184.53 L629.19,184.51 L629.89,184.49 L630.59,184.47 L631.29,184.45 L631.99,184.43 L632.70,184.41 L633.40,184.39 L634.11,184.38 L634.81,184.36 L635.52,184.34 L636.22,184.32 L636.93,184.31 L637.64,184.29 M654.80,184.01 L655.52,184.00 L656.25,183.99 L656.97,183.98 L657.70,183.98 L658.42,183.97 L659.15,183.96 L659.88,183.96 L660.60,183.95 L661.33,183.95 L662.06,183.94 L662.79,183.94 L663.52,183.94 L664.25,183.93 L664.98,183.93 L665.71,183.93 L666.45,183.93 L667.18,183.93 L667.91,183.93 L668.65,183.93 L669.38,183.93 L670.12,183.93 L670.85,183.92 M687.97,184.00 L688.72,184.01 L689.47,184.02 L690.22,184.03 L690.98,184.04 L691.73,184.05 L692.49,184.06 L693.24,184.07 L694.00,184.08 L694.76,184.09 L695.51,184.10 L696.27,184.11 L697.03,184.13 L697.79,184.14 L698.55,184.15 L699.31,184.16 L700.07,184.18 L700.83,184.19 L701.60,184.21 L702.36,184.22 L703.12,184.24 M720.09,184.67 L720.87,184.69 L721.65,184.71 L722.43,184.74 L723.21,184.76 L723.99,184.79 L724.77,184.81 L725.55,184.84 L726.33,184.87 L727.12,184.89 L727.90,184.92 L728.69,184.95 L729.47,184.98 L730.26,185.01 L731.05,185.03 L731.83,185.06 L732.62,185.09 L733.41,185.12 L734.20,185.15 L734.99,185.18 L735.78,185.22 M752.54,185.96 L753.34,186.00" stroke="#0aa5ff" stroke-width="3.7"/>
<path d="M158.80,294.96 L158.97,295.13 L159.15,295.30 L159.32,295.48 L159.49,295.65 L159.67,295.83 L159.84,296.02 L160.01,296.20 L160.18,296.39 L160.36,296.58 L160.53,296.78 L160.70,296.97 L160.87,297.17 L161.04,297.38 L161.21,297.58 L161.38,297.78 L161.55,297.99 L161.72,298.20 L161.89,298.42 L162.06,298.63 L162.22,298.85 L162.39,299.06 L162.56,299.28 L162.73,299.50 L162.89,299.73 L163.06,299.95 L163.22,300.18 L163.39,300.40 L163.55,300.63 L163.72,300.86 L163.88,301.09 L164.05,301.32 L164.21,301.56 L164.38,301.79 L164.54,302.03 L164.70,302.27 L164.86,302.51 L165.03,302.76 L165.19,303.02 L165.35,303.27 L165.51,303.54 L165.67,303.80 L165.83,304.07 L165.99,304.34 L166.15,304.62 L166.31,304.90 L166.47,305.18 L166.63,305.47 L166.78,305.76 L166.94,306.05 L167.10,306.34 L167.26,306.64 L167.41,306.94 L167.57,307.24 L167.73,307.54 L167.88,307.84 L168.04,308.15 L168.19,308.45 L168.35,308.76 L168.50,309.07 L168.66,309.38 L168.81,309.69 L168.96,310.00 L169.12,310.31 L169.27,310.62 L169.42,310.93 L169.57,311.25 L169.72,311.56 L169.87,311.87 L170.03,312.18 L170.18,312.49 L170.33,312.80 L170.48,313.11 L170.63,313.42 L170.77,313.73 L170.92,314.04 L171.07,314.34 L171.22,314.65 L171.37,314.95 L171.51,315.26 L171.66,315.57 L171.81,315.87 L171.95,316.18 L172.10,316.49 L172.25,316.79 L172.39,317.10 L172.54,317.40 L172.68,317.71 L172.82,318.02 L172.97,318.32 L173.11,318.63 L173.25,318.94 L173.40,319.24 L173.54,319.55 L173.68,319.86 L173.82,320.17 L173.97,320.48 L174.11,320.78 L174.25,321.09 L174.39,321.40 L174.53,321.71 L174.67,322.02 L174.81,322.33 L174.94,322.64 L175.08,322.95 L175.22,323.26 L175.36,323.58 L175.50,323.89 L175.63,324.20 L175.77,324.51 L175.91,324.83 L176.04,325.14 L176.18,325.46 L176.31,325.77 L176.45,326.09 L176.58,326.40 L176.72,326.72 L176.85,327.04 L176.99,327.36 L177.12,327.68 L177.25,327.99 L177.39,328.31 L177.52,328.63 L177.65,328.96 L177.78,329.28 L177.91,329.60 L178.04,329.92 L178.17,330.25 L178.30,330.57 L178.43,330.90 L178.56,331.22 L178.69,331.55 L178.82,331.88 L178.95,332.20 L179.08,332.53 L179.21,332.86 L179.33,333.19 L179.46,333.52 L179.59,333.85 L179.71,334.19 L179.84,334.52 L179.96,334.85 L180.09,335.19 L180.21,335.52 L180.34,335.86 L180.46,336.19 L180.59,336.53 L180.71,336.87 L180.83,337.21 L180.96,337.56 L181.08,337.92 L181.20,338.28 L181.32,338.65 L181.44,339.03 L181.56,339.41 L181.69,339.79 L181.81,340.17 L181.93,340.56 L182.05,340.95 L182.16,341.35 L182.28,341.74 L182.40,342.14 L182.52,342.53 L182.64,342.93 L182.76,343.33 L182.87,343.72 L182.99,344.11 L183.11,344.51 L183.22,344.89 L183.34,345.28 L183.45,345.67 L183.57,346.05 L183.68,346.42 L183.80,346.80 L183.91,347.16 L184.03,347.53 L184.14,347.89 L184.25,348.24 L184.36,348.58 L184.48,348.92 L184.59,349.26 L184.70,349.58 L184.81,349.90 L184.92,350.21 L185.03,350.52 L185.14,350.81 L185.25,351.10 L185.36,351.37 L185.47,351.65 L185.58,351.91 L185.69,352.17 L185.80,352.43 L185.90,352.68 L186.01,352.93 L186.12,353.17 L186.23,353.41 L186.33,353.65 L186.44,353.89 L186.54,354.13 L186.65,354.36 L186.75,354.60 L186.86,354.84 L186.96,355.07 L187.07,355.31 L187.17,355.55 L187.27,355.79 L187.38,356.04 L187.48,356.29 L187.58,356.54 L187.68,356.79 L187.78,357.05 L187.88,357.32 L187.99,357.59 L188.09,357.86 L188.19,358.14 L188.29,358.43 L188.39,358.72 L188.48,359.02 L188.58,359.33 L188.68,359.64 L188.78,359.96 L188.88,360.29 L188.97,360.64 L189.07,361.00 L189.17,361.37 L189.26,361.76 L189.36,362.15 L189.45,362.56 L189.55,362.98 L189.64,363.41 L189.74,363.84 L189.83,364.29 L189.93,364.74 L190.02,365.20 L190.11,365.66 L190.21,366.13 L190.30,366.61 L190.39,367.09 L190.48,367.57 L190.57,368.06 L190.66,368.55 L190.75,369.05 L190.84,369.54 L190.93,370.04 L191.02,370.54 L191.11,371.03 L191.20,371.53 L191.29,372.03 L191.38,372.52 L191.47,373.02 L191.55,373.51 L191.64,374.00 L191.73,374.49 L191.81,374.97 L191.90,375.46 L191.99,375.93 L192.07,376.41 L192.16,376.87 L192.24,377.34 L192.32,377.80 L192.41,378.25 L192.49,378.69 L192.58,379.13 L192.66,379.57 L192.74,379.99 L192.82,380.41 L192.90,380.82 L192.99,381.23 L193.07,381.62 L193.15,382.01 L193.23,382.39 L193.31,382.76 L193.39,383.12 L193.47,383.47 L193.55,383.81 L193.62,384.14 L193.70,384.46 L193.78,384.76 L193.86,385.05 L193.94,385.34 L194.01,385.61 L194.09,385.88 L194.17,386.14 L194.24,386.40 L194.32,386.65 L194.39,386.90 L194.47,387.15 L194.54,387.39 L194.62,387.63 L194.69,387.87 L194.76,388.11 L194.84,388.35 L194.91,388.60 L194.98,388.84 L195.05,389.09 L195.12,389.33 L195.20,389.59 L195.27,389.84 L195.34,390.11 L195.41,390.37 L195.48,390.65 L195.55,390.93 L195.62,391.21 L195.68,391.50 L195.75,391.81 L195.82,392.11 L195.89,392.43 L195.96,392.76 L196.02,393.09 L196.09,393.44 L196.16,393.80 L196.22,394.16 L196.29,394.54 L196.35,394.93 L196.42,395.33 L196.48,395.78 L196.55,396.28 L196.61,396.82 L196.68,397.39 L196.74,397.99 L196.80,398.62 L196.86,399.27 L196.93,399.93 L196.99,400.61 L197.05,401.30 L197.11,402.00 L197.17,402.70 L197.23,403.39 L197.29,404.08 L197.35,404.77 L197.41,405.44 L197.47,406.09 L197.53,406.73 L197.59,407.34 L197.65,407.93 L197.70,408.49 L197.76,409.02 L197.82,409.54 L197.87,410.04 L197.93,410.53 L197.99,411.00 L198.04,411.47 L198.10,411.93 L198.15,412.38 L198.21,412.84 L198.26,413.29 L198.31,413.75 L198.37,414.21 L198.42,414.68 L198.47,415.15 L198.53,415.64 L198.58,416.13 L198.63,416.64 L198.68,417.16 L198.73,417.70 L198.78,418.26 L198.83,418.83 L198.88,419.43 L198.93,420.05 L198.98,420.68 L199.03,421.35 L199.08,422.03 L199.13,422.74 L199.17,423.48 L199.22,424.24 L199.27,425.03 L199.32,425.85 L199.36,426.70 L199.41,427.58 L199.45,428.48 L199.50,429.42 L199.54,430.40 L199.59,431.66" stroke="#6a00ff" stroke-width="3.7"/>
<path d="M209.18,431.82 L209.22,430.39 L209.26,429.46 L209.30,428.60 L209.34,427.79 L209.38,427.03 L209.42,426.32 L209.46,425.66 L209.51,425.04 L209.55,424.46 L209.59,423.92 L209.64,423.41 L209.68,422.93 L209.72,422.48 L209.77,422.06 L209.81,421.65 L209.86,421.25 L209.91,420.87 L209.95,420.49 L210.00,420.11 L210.05,419.72 L210.09,419.32 L210.14,418.90 L210.19,418.46 L210.24,418.01 L210.29,417.57 L210.34,417.14 L210.39,416.73 L210.44,416.32 L210.49,415.92 L210.54,415.53 L210.59,415.15 L210.64,414.77 L210.70,414.40 L210.75,414.04 L210.80,413.68 L210.86,413.32 L210.91,412.96 L210.97,412.60 L211.02,412.24 L211.08,411.88 L211.13,411.51 L211.19,411.14 L211.24,410.76 L211.30,410.38 L211.36,409.98 L211.42,409.57 L211.47,409.15 L211.53,408.72 L211.59,408.27 L211.65,407.80 L211.71,407.30 L211.77,406.79 L211.83,406.26 L211.89,405.71 L211.95,405.15 L212.02,404.58 L212.08,404.00 L212.14,403.40 L212.21,402.79 L212.27,402.16 L212.33,401.50 L212.40,400.83 L212.46,400.14 L212.53,399.41 L212.59,398.67 L212.66,397.89 L212.73,397.09 L212.79,396.25 L212.86,395.38 L212.93,394.44 L213.00,393.31 L213.07,392.03 L213.13,390.66 L213.20,389.24 L213.27,387.83 L213.34,386.49 L213.42,385.28 L213.49,384.27 L213.56,383.50 L213.63,382.94 L213.70,382.40 L213.78,381.88 L213.85,381.38 L213.92,380.89 L214.00,380.43 L214.07,379.98 L214.15,379.55 L214.22,379.13 L214.30,378.73 L214.38,378.35 L214.45,377.98 L214.53,377.62 L214.61,377.27 L214.69,376.94 L214.76,376.62 L214.84,376.31 L214.92,376.01 L215.00,375.72 L215.08,375.43 L215.16,375.16 L215.25,374.88 L215.33,374.62 L215.41,374.36 L215.49,374.10 L215.58,373.84 L215.66,373.58 L215.74,373.33 L215.83,373.07 L215.91,372.81 L216.00,372.54 L216.08,372.27 L216.17,371.99 L216.26,371.70 L216.34,371.41 L216.43,371.12 L216.52,370.83 L216.61,370.54 L216.70,370.26 L216.78,369.98 L216.87,369.70 L216.96,369.43 L217.05,369.16 L217.15,368.89 L217.24,368.62 L217.33,368.35 L217.42,368.09 L217.51,367.83 L217.61,367.56 L217.70,367.31 L217.80,367.05 L217.89,366.79 L217.98,366.54 L218.08,366.29 L218.18,366.03 L218.27,365.78 L218.37,365.53 L218.47,365.29 L218.56,365.04 L218.66,364.79 L218.76,364.54 L218.86,364.30 L218.96,364.05 L219.06,363.80 L219.16,363.56 L219.26,363.31 L219.36,363.06 L219.46,362.81 L219.57,362.56 L219.67,362.31 L219.77,362.06 L219.88,361.81 L219.98,361.55 L220.09,361.30 L220.19,361.04 L220.30,360.78 L220.40,360.52 L220.51,360.25 L220.61,359.98 L220.72,359.72 L220.83,359.45 L220.94,359.18 L221.05,358.91 L221.16,358.65 L221.27,358.38 L221.38,358.11 L221.49,357.85 L221.60,357.58 L221.71,357.32 L221.82,357.05 L221.93,356.79 L222.05,356.52 L222.16,356.26 L222.27,355.99 L222.39,355.73 L222.50,355.46 L222.62,355.19 L222.73,354.93 L222.85,354.66 L222.97,354.39 L223.08,354.12 L223.20,353.84 L223.32,353.57 L223.44,353.30 L223.56,353.02 L223.67,352.74 L223.79,352.46 L223.91,352.18 L224.04,351.90 L224.16,351.61 L224.28,351.33 L224.40,351.03 L224.52,350.74 L224.65,350.45 L224.77,350.15 L224.89,349.85 L225.02,349.54 L225.14,349.24 L225.27,348.93 L225.39,348.62 L225.52,348.30 L225.65,347.99 L225.78,347.67 L225.90,347.35 L226.03,347.03 L226.16,346.71 L226.29,346.38 L226.42,346.05 L226.55,345.72 L226.68,345.39 L226.81,345.06 L226.94,344.72 L227.07,344.38 L227.21,344.04 L227.34,343.70 L227.47,343.35 L227.61,343.01 L227.74,342.66 L227.88,342.31 L228.01,341.95 L228.15,341.60 L228.28,341.24 L228.42,340.88 L228.56,340.52 L228.70,340.16 L228.84,339.80 L228.97,339.43 L229.11,339.06 L229.25,338.69 L229.39,338.32 L229.53,337.95 L229.67,337.57 L229.82,337.20 L229.96,336.82 L230.10,336.44 L230.24,336.06 L230.39,335.67 L230.53,335.29 L230.68,334.90 L230.82,334.51 L230.97,334.12 L231.11,333.73 L231.26,333.34 L231.41,332.95 L231.55,332.55 L231.70,332.15 L231.85,331.76 L232.00,331.36 L232.15,330.96 L232.30,330.55 L232.45,330.15 L232.60,329.75 L232.75,329.34 L232.90,328.94 L233.05,328.53 L233.21,328.12 L233.36,327.71 L233.51,327.30 L233.67,326.89 L233.82,326.48 L233.98,326.06 L234.13,325.65 L234.29,325.24 L234.45,324.82 L234.60,324.40 L234.76,323.99 L234.92,323.57 L235.08,323.15 L235.24,322.74 L235.40,322.32 L235.56,321.90 L235.72,321.48 L235.88,321.06 L236.04,320.64 L236.20,320.22 L236.37,319.80 L236.53,319.38 L236.69,318.96 L236.86,318.54 L237.02,318.13 L237.19,317.71 L237.35,317.29 L237.52,316.87 L237.68,316.45 L237.85,316.03 L238.02,315.61 L238.19,315.20 L238.36,314.78 L238.52,314.37 L238.69,313.95 L238.86,313.54 L239.03,313.12 L239.20,312.71 L239.38,312.30 L239.55,311.89 L239.72,311.48 L239.89,311.07 L240.07,310.67 L240.24,310.26 L240.42,309.86 L240.59,309.46 L240.77,309.05 L240.94,308.66 L241.12,308.26 L241.30,307.86 L241.47,307.47 L241.65,307.08 L241.83,306.69 L242.01,306.30 L242.19,305.92 L242.37,305.53 L242.55,305.15 L242.73,304.78 L242.91,304.40 L243.09,304.02 L243.27,303.65 L243.46,303.28 L243.64,302.91 L243.82,302.54 L244.01,302.17 L244.19,301.81 L244.38,301.44 L244.57,301.08 L244.75,300.72 L244.94,300.36 L245.13,300.00 L245.31,299.64 L245.50,299.29 L245.69,298.93 L245.88,298.58 L246.07,298.23 L246.26,297.88 L246.45,297.53 L246.64,297.19 L246.84,296.84 L247.03,296.50 L247.22,296.16 L247.42,295.82 L247.61,295.48 L247.80,295.14 L248.00,294.80 L248.19,294.47 L248.39,294.13 L248.59,293.80 L248.78,293.47 L248.98,293.14 L249.18,292.81 L249.38,292.49 L249.58,292.17 L249.78,291.85 L249.98,291.53 L250.18,291.22 L250.38,290.91 L250.58,290.60 L250.78,290.29 L250.99,289.98 L251.19,289.68 L251.39,289.37 L251.60,289.07 L251.80,288.77 L252.01,288.46 L252.21,288.16 L252.42,287.86 L252.63,287.56 L252.83,287.25 L253.04,286.95 L253.25,286.64 L253.46,286.34 L253.67,286.03 L253.88,285.72 L254.09,285.41 L254.30,285.09 L254.51,284.77 L254.72,284.45 L254.93,284.13 L255.15,283.80 L255.36,283.48 L255.57,283.15 L255.79,282.81 L256.00,282.48 L256.22,282.15 L256.44,281.81 L256.65,281.47 L256.87,281.13 L257.09,280.79 L257.30,280.45 L257.52,280.11 L257.74,279.77 L257.96,279.42 L258.18,279.08 L258.40,278.73 L258.62,278.38 L258.85,278.03 L259.07,277.69 L259.29,277.34 L259.51,276.98 L259.74,276.63 L259.96,276.28 L260.19,275.93 L260.41,275.58 L260.64,275.22 L260.86,274.87 L261.09,274.52 L261.32,274.17 L261.55,273.81 L261.78,273.46 L262.00,273.11 L262.23,272.75 L262.46,272.40 L262.69,272.05 L262.93,271.70 L263.16,271.34 L263.39,270.99 L263.62,270.64 L263.85,270.29 L264.09,269.94 L264.32,269.60 L264.56,269.25 L264.79,268.90 L265.03,268.55 L265.26,268.20 L265.50,267.86 L265.74,267.51 L265.98,267.16 L266.21,266.81 L266.45,266.47 L266.69,266.12 L266.93,265.77 L267.17,265.42 L267.41,265.07 L267.66,264.72 L267.90,264.38 L268.14,264.03 L268.38,263.68 L268.63,263.33 L268.87,262.98 L269.12,262.63 L269.36,262.28 L269.61,261.93 L269.85,261.58 L270.10,261.23 L270.35,260.88 L270.60,260.53 L270.84,260.18 L271.09,259.83 L271.34,259.48 L271.59,259.13 L271.84,258.78 L272.09,258.42 L272.35,258.07 L272.60,257.72 L272.85,257.36 L273.10,257.01 L273.36,256.66 L273.61,256.30 L273.87,255.95 L274.12,255.59 L274.38,255.23 L274.63,254.88 L274.89,254.52 L275.15,254.16 L275.41,253.80 L275.66,253.45 L275.92,253.09 L276.18,252.73 L276.44,252.37 L276.70,252.01 L276.96,251.65 L277.23,251.29 L277.49,250.92 L277.75,250.56 L278.01,250.20 L278.28,249.84 L278.54,249.48 L278.81,249.11 L279.07,248.75 L279.34,248.39 L279.60,248.02 L279.87,247.66 L280.14,247.30 L280.41,246.93 L280.68,246.57 L280.95,246.20 L281.21,245.84 L281.48,245.47 L281.76,245.10 L282.03,244.74 L282.30,244.37 L282.57,244.01 L282.84,243.64 L283.12,243.27 L283.39,242.90 L283.67,242.54 L283.94,242.17 L284.22,241.80 L284.49,241.43 L284.77,241.06 L285.05,240.70 L285.32,240.33 L285.60,239.96 L285.88,239.59 L286.16,239.22 L286.44,238.85 L286.72,238.48 L287.00,238.11 L287.28,237.74 L287.56,237.37 L287.85,237.00 L288.13,236.62 L288.41,236.25 L288.70,235.88 L288.98,235.51 L289.27,235.14 L289.55,234.76 L289.84,234.39 L290.13,234.02 L290.41,233.65 L290.70,233.27 L290.99,232.90 L291.28,232.53 L291.57,232.15 L291.86,231.78 L292.15,231.40 L292.44,231.03 L292.73,230.66 L293.03,230.28 L293.32,229.91 L293.61,229.53 L293.91,229.16 L294.20,228.78 L294.50,228.40 L294.79,228.03 L295.09,227.65 L295.38,227.28 L295.68,226.90 L295.98,226.52 L296.28,226.15 L296.58,225.77 L296.88,225.39 L297.18,225.02 L297.48,224.64 L297.78,224.26 L298.08,223.89 L298.38,223.51 L298.68,223.13 L298.99,222.75 L299.29,222.38 L299.59,222.00 L299.90,221.62 L300.20,221.24 L300.51,220.86 L300.82,220.49 L301.12,220.11 L301.43,219.73 L301.74,219.35 L302.05,218.97 L302.36,218.59 L302.67,218.21 L302.98,217.83 L303.29,217.45 L303.60,217.07 L303.91,216.69 L304.22,216.31 L304.54,215.93 L304.85,215.55 L305.16,215.17 L305.48,214.79 L305.79,214.41 L306.11,214.03 L306.43,213.65 L306.74,213.27 L307.06,212.89 L307.38,212.51 L307.70,212.13 L308.02,211.75 L308.34,211.37 L308.66,210.99 L308.98,210.61 L309.30,210.23 L309.62,209.85 L309.94,209.47 L310.27,209.09 L310.59,208.71 L310.91,208.33 L311.24,207.95 L311.56,207.56 L311.89,207.18 L312.21,206.80 L312.54,206.42 L312.87,206.04 L313.20,205.66 L313.52,205.28 L313.85,204.90 L314.18,204.51 L314.51,204.13 L314.84,203.75 L315.18,203.37 L315.51,202.99 L315.84,202.61 L316.17,202.23 L316.51,201.84 L316.84,201.46 L317.17,201.08 L317.51,200.70 L317.85,200.32 L318.18,199.94 L318.52,199.56 L318.86,199.18 L319.19,198.79 L319.53,198.41 L319.87,198.03 L320.21,197.65 L320.55,197.27 L320.89,196.89 L321.23,196.51 L321.57,196.13 L321.92,195.75 L322.26,195.37 L322.60,194.99 L322.95,194.60 L323.29,194.22 L323.64,193.84 L323.98,193.46 L324.33,193.08 L324.68,192.70 L325.02,192.32 L325.37,191.94 L325.72,191.56 L326.07,191.18 L326.42,190.80 L326.77,190.42 L327.12,190.04 L327.47,189.66 L327.82,189.28 L328.17,188.90 L328.53,188.52 L328.88,188.14 L329.23,187.76 L329.59,187.38 L329.94,187.00 L330.30,186.62 L330.66,186.24 L331.01,185.86 L331.37,185.49 L331.73,185.11 L332.09,184.73 L332.45,184.35 L332.81,183.97 L333.17,183.59 L333.53,183.22 L333.89,182.84 L334.25,182.46 L334.61,182.08 L334.98,181.70 L335.34,181.33 L335.70,180.95 L336.07,180.57 L336.43,180.19 L336.80,179.82 L337.17,179.44 L337.53,179.06 L337.90,178.69 L338.27,178.31 L338.64,177.93 L339.01,177.56 L339.38,177.18 L339.75,176.81 L340.12,176.43 L340.49,176.06 L340.86,175.68 L341.23,175.30 L341.61,174.93 L341.98,174.56 L342.35,174.18 L342.73,173.81 L343.11,173.43 L343.48,173.06 L343.86,172.69 L344.23,172.31 L344.61,171.94 L344.99,171.57 L345.37,171.19 L345.75,170.82 L346.13,170.45 L346.51,170.08 L346.89,169.70 L347.27,169.33 L347.65,168.96 L348.04,168.59 L348.42,168.22 L348.80,167.85 L349.19,167.47 L349.57,167.10 L349.96,166.73 L350.35,166.36 L350.73,165.99 L351.12,165.62 L351.51,165.25 L351.90,164.88 L352.29,164.52 L352.68,164.15 L353.07,163.78 L353.46,163.41 L353.85,163.04 L354.24,162.68 L354.63,162.31 L355.03,161.94 L355.42,161.57 L355.81,161.21 L356.21,160.84 L356.60,160.48 L357.00,160.11 L357.40,159.75 L357.79,159.38 L358.19,159.02 L358.59,158.65 L358.99,158.29 L359.39,157.92 L359.79,157.56 L360.19,157.20 L360.59,156.83 L360.99,156.47 L361.39,156.11 L361.79,155.74 L362.20,155.38 L362.60,155.02 L363.01,154.66 L363.41,154.30 L363.82,153.94 L364.22,153.58 L364.63,153.22 L365.04,152.86 L365.45,152.50 L365.85,152.14 L366.26,151.78 L366.67,151.42 L367.08,151.06 L367.49,150.71 L367.90,150.35 L368.32,149.99 L368.73,149.64 L369.14,149.28 L369.56,148.92 L369.97,148.57 L370.39,148.21 L370.80,147.86 L371.22,147.50 L371.63,147.15 L372.05,146.80 L372.47,146.44 L372.89,146.09 L373.31,145.74 L373.72,145.38 L374.14,145.03 L374.56,144.68 L374.99,144.33 L375.41,143.98 L375.83,143.63 L376.25,143.28 L376.68,142.93 L377.10,142.58 L377.53,142.23 L377.95,141.88 L378.38,141.53 L378.80,141.19 L379.23,140.84 L379.66,140.49 L380.08,140.15 L380.51,139.80 L380.94,139.46 L381.37,139.11 L381.80,138.77 L382.23,138.42 L382.67,138.08 L383.10,137.73 L383.53,137.39 L383.96,137.05 L384.40,136.71 L384.83,136.36 L385.27,136.02 L385.70,135.68 L386.14,135.34 L386.58,135.00 L387.01,134.66 L387.45,134.32 L387.89,133.99 L388.33,133.65 L388.77,133.31 L389.21,132.97 L389.65,132.64 L390.09,132.30 L390.53,131.96 L390.98,131.63 L391.42,131.29 L391.86,130.96 L392.31,130.63 L392.75,130.29 L393.20,129.96 L393.64,129.63 L394.09,129.30 L394.54,128.96 L394.98,128.63 L395.43,128.30 L395.88,127.97 L396.33,127.64 L396.78,127.31 L397.23,126.98 L397.68,126.66 L398.14,126.33 L398.59,126.00 L399.04,125.68 L399.49,125.35 L399.95,125.02 L400.40,124.70 L400.86,124.37 L401.32,124.05 L401.77,123.73 L402.23,123.41 L402.69,123.08 L403.14,122.76 L403.60,122.44 L404.06,122.12 L404.52,121.80 L404.98,121.48 L405.45,121.16 L405.91,120.84 L406.37,120.52 L406.83,120.21 L407.30,119.89 L407.76,119.57 L408.22,119.26 L408.69,118.94 L409.16,118.63 L409.62,118.31 L410.09,118.00 L410.56,117.68 L411.03,117.37 L411.49,117.06 L411.96,116.75 L412.43,116.44 L412.90,116.13 L413.38,115.82 L413.85,115.51 L414.32,115.20 L414.79,114.89 L415.27,114.59 L415.74,114.28 L416.22,113.97 L416.69,113.67 L417.17,113.36 L417.64,113.06 L418.12,112.75 L418.60,112.45 L419.08,112.15 L419.56,111.84 L420.03,111.54 L420.51,111.24 L421.00,110.94 L421.48,110.64 L421.96,110.34 L422.44,110.04 L422.92,109.75 L423.41,109.45 L423.89,109.15 L424.38,108.86 L424.86,108.56 L425.35,108.27 L425.83,107.97 L426.32,107.68 L426.81,107.39 L427.30,107.09 L427.79,106.80 L428.28,106.51 L428.77,106.22 L429.26,105.93 L429.75,105.64 L430.24,105.35 L430.73,105.07 L431.22,104.78 L431.72,104.49 L432.21,104.21 L432.71,103.92 L433.20,103.64 L433.70,103.35 L434.20,103.07 L434.69,102.79 L435.19,102.50 L435.69,102.22 L436.19,101.94 L436.69,101.66 L437.19,101.38 L437.69,101.11 L438.19,100.83 L438.69,100.55 L439.19,100.27 L439.70,100.00 L440.20,99.72 L440.70,99.45 L441.21,99.17 L441.72,98.90 L442.22,98.63 L442.73,98.35 L443.24,98.08 L443.74,97.81 L444.25,97.54 L444.76,97.27 L445.27,97.00 L445.78,96.74 L446.29,96.47 L446.80,96.20 L447.31,95.94 L447.83,95.67 L448.34,95.41 L448.85,95.15 L449.37,94.88 L449.88,94.62 L450.40,94.36 L450.92,94.10 L451.43,93.84 L451.95,93.58 L452.47,93.32 L452.99,93.06 L453.51,92.80 L454.03,92.55 L454.55,92.29 L455.07,92.04 L455.59,91.78 L456.11,91.53 L456.63,91.27 L457.16,91.02 L457.68,90.77 L458.21,90.52 L458.73,90.27 L459.26,90.02 L459.78,89.77 L460.31,89.52 L460.84,89.28 L461.37,89.03 L461.89,88.78 L462.42,88.54 L462.95,88.30 L463.48,88.05 L464.01,87.81 L464.55,87.57 L465.08,87.32 L465.61,87.08 L466.15,86.84 L466.68,86.60 L467.21,86.37 L467.75,86.13 L468.29,85.89 L468.82,85.66 L469.36,85.42 L469.90,85.19 L470.44,84.96 L470.97,84.72 L471.51,84.49 L472.05,84.26 L472.60,84.03 L473.14,83.80 L473.68,83.57 L474.22,83.34 L474.76,83.12 L475.31,82.89 L475.85,82.66 L476.40,82.44 L476.94,82.21 L477.49,81.99 L478.04,81.77 L478.58,81.55 L479.13,81.33 L479.68,81.11 L480.23,80.89 L480.78,80.67 L481.33,80.46 L481.88,80.24 L482.43,80.02 L482.98,79.81 L483.54,79.60 L484.09,79.38 L484.64,79.17 L485.20,78.96 L485.75,78.75 L486.31,78.54 L486.87,78.33 L487.42,78.13 L487.98,77.92 L488.54,77.71 L489.10,77.51 L489.66,77.30 L490.22,77.10 L490.78,76.90 L491.34,76.70 L491.90,76.50 L492.46,76.30 L493.03,76.10 L493.59,75.91 L494.15,75.71 L494.72,75.52 L495.28,75.32 L495.85,75.13 L496.42,74.94 L496.98,74.74 L497.55,74.55 L498.12,74.36 L498.69,74.17 L499.26,73.99 L499.83,73.80 L500.40,73.61 L500.97,73.43 L501.55,73.24 L502.12,73.06 L502.69,72.88 L503.27,72.70 L503.84,72.52 L504.42,72.34 L504.99,72.17 L505.57,71.99 L506.14,71.82 L506.72,71.64 L507.30,71.47 L507.88,71.30 L508.46,71.12 L509.04,70.95 L509.62,70.78 L510.20,70.61 L510.78,70.45 L511.36,70.28 L511.95,70.12 L512.53,69.95 L513.12,69.79 L513.70,69.63 L514.29,69.47 L514.87,69.31 L515.46,69.15 L516.05,68.99 L516.63,68.84 L517.22,68.68 L517.81,68.53 L518.40,68.37 L518.99,68.22 L519.58,68.07 L520.18,67.92 L520.77,67.77 L521.36,67.62 L521.95,67.48 L522.55,67.33 L523.14,67.19 L523.74,67.04 L524.33,66.90 L524.93,66.76 L525.53,66.62 L526.13,66.49 L526.72,66.35 L527.32,66.21 L527.92,66.08 L528.52,65.95 L529.12,65.82 L529.72,65.68 L530.33,65.55 L530.93,65.42 L531.53,65.30 L532.14,65.17 L532.74,65.04 L533.35,64.92 L533.95,64.80 L534.56,64.67 L535.16,64.55 L535.77,64.43 L536.38,64.32 L536.99,64.20 L537.60,64.09 L538.21,63.97 L538.82,63.86 L539.43,63.75 L540.04,63.64 L540.65,63.53 L541.27,63.42 L541.88,63.32 L542.50,63.21 L543.11,63.11 L543.73,63.00 L544.34,62.90 L544.96,62.80 L545.58,62.70 L546.19,62.60 L546.81,62.50 L547.43,62.41 L548.05,62.32 L548.67,62.22 L549.29,62.13 L549.92,62.05 L550.54,61.96 L551.16,61.87 L551.78,61.79 L552.41,61.70 L553.03,61.62 L553.66,61.54 L554.28,61.46 L554.91,61.38 L555.54,61.30 L556.17,61.22 L556.79,61.14 L557.42,61.07 L558.05,61.00 L558.68,60.93 L559.31,60.86 L559.95,60.79 L560.58,60.73 L561.21,60.66 L561.84,60.60 L562.48,60.54 L563.11,60.48 L563.75,60.42 L564.38,60.36 L565.02,60.30 L565.66,60.25 L566.29,60.19 L566.93,60.14 L567.57,60.08 L568.21,60.03 L568.85,59.98 L569.49,59.94 L570.13,59.89 L570.78,59.85 L571.42,59.81 L572.06,59.77 L572.71,59.74 L573.35,59.70 L573.99,59.67 L574.64,59.63 L575.29,59.60 L575.93,59.56 L576.58,59.53 L577.23,59.50 L577.88,59.47 L578.53,59.44 L579.18,59.41 L579.83,59.38 L580.48,59.36 L581.13,59.34 L581.78,59.32 L582.44,59.31 L583.09,59.30 L583.75,59.30 L584.40,59.29 L585.06,59.29 L585.71,59.30 L586.37,59.30 L587.03,59.30 L587.69,59.30 L588.34,59.30 L589.00,59.30 L589.66,59.31 L590.32,59.31 L590.99,59.31 L591.65,59.31 L592.31,59.32 L592.97,59.32 L593.64,59.32 L594.30,59.33 L594.97,59.33 L595.63,59.34 L596.30,59.34 L596.96,59.36 L597.63,59.37 L598.30,59.39 L598.97,59.42 L599.64,59.44 L600.31,59.47 L600.98,59.50 L601.65,59.54 L602.32,59.58 L602.99,59.61 L603.67,59.65 L604.34,59.69 L605.02,59.74 L605.69,59.78 L606.37,59.82 L607.04,59.86 L607.72,59.90 L608.40,59.95 L609.07,60.00 L609.75,60.05 L610.43,60.10 L611.11,60.16 L611.79,60.21 L612.47,60.27 L613.16,60.34 L613.84,60.40 L614.52,60.46 L615.20,60.53 L615.89,60.60 L616.57,60.67 L617.26,60.74 L617.95,60.81 L618.63,60.88 L619.32,60.96 L620.01,61.03 L620.70,61.11 L621.39,61.19 L622.08,61.28 L622.77,61.36 L623.46,61.45 L624.15,61.54 L624.84,61.64 L625.53,61.73 L626.23,61.82 L626.92,61.92 L627.62,62.02 L628.31,62.12 L629.01,62.22 L629.71,62.32 L630.40,62.43 L631.10,62.54 L631.80,62.64 L632.50,62.76 L633.20,62.87 L633.90,62.99 L634.60,63.10 L635.30,63.22 L636.01,63.35 L636.71,63.47 L637.41,63.60 L638.12,63.72 L638.82,63.85 L639.53,63.98 L640.23,64.12 L640.94,64.25 L641.65,64.39 L642.36,64.52 L643.07,64.66 L643.77,64.81 L644.48,64.95 L645.20,65.10 L645.91,65.25 L646.62,65.40 L647.33,65.55 L648.04,65.71 L648.76,65.87 L649.47,66.03 L650.19,66.19 L650.90,66.35 L651.62,66.52 L652.34,66.68 L653.05,66.85 L653.77,67.02 L654.49,67.19 L655.21,67.37 L655.93,67.55 L656.65,67.73 L657.37,67.91 L658.09,68.09 L658.82,68.28 L659.54,68.47 L660.26,68.66 L660.99,68.85 L661.71,69.04 L662.44,69.24 L663.17,69.44 L663.89,69.64 L664.62,69.84 L665.35,70.04 L666.08,70.25 L666.81,70.46 L667.54,70.67 L668.27,70.89 L669.00,71.10 L669.73,71.32 L670.47,71.54 L671.20,71.76 L671.93,71.99 L672.67,72.22 L673.40,72.45 L674.14,72.68 L674.87,72.91 L675.61,73.14 L676.35,73.38 L677.09,73.62 L677.83,73.86 L678.57,74.11 L679.31,74.35 L680.05,74.60 L680.79,74.86 L681.53,75.11 L682.27,75.37 L683.02,75.62 L683.76,75.88 L684.51,76.15 L685.25,76.41 L686.00,76.68 L686.75,76.95 L687.49,77.22 L688.24,77.49 L688.99,77.77 L689.74,78.05 L690.49,78.33 L691.24,78.61 L691.99,78.90 L692.74,79.19 L693.49,79.48 L694.25,79.77 L695.00,80.07 L695.75,80.37 L696.51,80.67 L697.26,80.97 L698.02,81.27 L698.78,81.58 L699.54,81.89 L700.29,82.20 L701.05,82.51 L701.81,82.83 L702.57,83.15 L703.33,83.47 L704.09,83.80 L704.86,84.12 L705.62,84.45 L706.38,84.78 L707.14,85.12 L707.91,85.45 L708.67,85.79 L709.44,86.13 L710.21,86.48 L710.97,86.82 L711.74,87.17 L712.51,87.52 L713.28,87.88 L714.05,88.23 L714.82,88.59 L715.59,88.95 L716.36,89.32 L717.13,89.68 L717.91,90.05 L718.68,90.42 L719.45,90.80 L720.23,91.17 L721.00,91.55 L721.78,91.93 L722.56,92.32 L723.33,92.70 L724.11,93.09 L724.89,93.49 L725.67,93.88 L726.45,94.28 L727.23,94.68 L728.01,95.08 L728.79,95.49 L729.57,95.89 L730.36,96.30 L731.14,96.72 L731.92,97.13 L732.71,97.55 L733.49,97.97 L734.28,98.39 L735.07,98.82 L735.85,99.25 L736.64,99.68 L737.43,100.11 L738.22,100.55 L739.01,100.99 L739.80,101.43 L740.59,101.88 L741.38,102.33 L742.18,102.78 L742.97,103.23 L743.76,103.68 L744.56,104.14 L745.35,104.60 L746.15,105.06 L746.95,105.53 L747.74,106.00 L748.54,106.47 L749.34,106.95 L750.14,107.43 L750.94,107.91 L751.74,108.39 L752.54,108.88 L753.34,109.37" stroke="#6a00ff" stroke-width="3.7"/>
<path d="M189.83,364.29 L189.93,364.74 L190.02,365.20 L190.11,365.66 L190.21,366.13 L190.30,366.61 L190.39,367.09 L190.48,367.57 L190.57,368.06 L190.66,368.55 L190.75,369.05 L190.84,369.54 L190.93,370.04 L191.02,370.54 L191.11,371.03 L191.20,371.53 L191.29,372.03 L191.38,372.52 L191.47,373.02 L191.55,373.51 L191.64,374.00 L191.73,374.49 L191.81,374.97 L191.90,375.46 L191.99,375.93 L192.07,376.41 L192.16,376.87 L192.24,377.34 L192.32,377.80 L192.41,378.25 L192.49,378.69 L192.58,379.13 L192.66,379.57 L192.74,379.99 L192.82,380.41 L192.90,380.82 L192.99,381.23 L193.07,381.62 L193.15,382.01 L193.23,382.39 L193.31,382.76 L193.39,383.12 L193.47,383.47 L193.55,383.81 L193.62,384.14 L193.70,384.46 L193.78,384.76 L193.86,385.05 L193.94,385.34 L194.01,385.61 L194.09,385.88 L194.17,386.14 L194.24,386.40 L194.32,386.65 L194.39,386.90 L194.47,387.15 L194.54,387.39 L194.62,387.63 L194.69,387.87 L194.76,388.11 L194.84,388.35 L194.91,388.60 L194.98,388.84 L195.05,389.09 L195.12,389.33 L195.20,389.59 L195.27,389.84 L195.34,390.11 L195.41,390.37 L195.48,390.65 L195.55,390.93 L195.62,391.21 L195.68,391.50 L195.75,391.81 L195.82,392.11 L195.89,392.43 L195.96,392.76 L196.02,393.09 L196.09,393.44 L196.16,393.80 L196.22,394.16 L196.29,394.54 L196.35,394.93 L196.42,395.33 L196.48,395.78 L196.55,396.28 L196.61,396.82 L196.68,397.39 L196.74,397.99 L196.80,398.62 L196.86,399.27 L196.93,399.93 L196.99,400.61 L197.05,401.30 L197.11,402.00 L197.17,402.70 L197.23,403.39 L197.29,404.08 L197.35,404.77 L197.41,405.44 L197.47,406.09 L197.53,406.73 L197.59,407.34 L197.65,407.93 L197.70,408.49 L197.76,409.02 L197.82,409.54 L197.87,410.04 L197.93,410.53 L197.99,411.00 L198.04,411.47 L198.10,411.93 L198.15,412.38 L198.21,412.84 L198.26,413.29 L198.31,413.75 L198.37,414.21 L198.42,414.68 L198.47,415.15 L198.53,415.64 L198.58,416.13 L198.63,416.64 L198.68,417.16 L198.73,417.70 L198.78,418.26 L198.83,418.83 L198.88,419.43 L198.93,420.05 L198.98,420.68 L199.03,421.35 L199.08,422.03 L199.13,422.74 L199.17,423.48 L199.22,424.24 L199.27,425.03 L199.32,425.85 L199.36,426.70 L199.41,427.58 L199.45,428.48 L199.50,429.42 L199.54,430.40 L199.59,431.66" stroke="#6a00ff" stroke-width="4.7"/>
<path d="M209.18,431.82 L209.22,430.39 L209.26,429.46 L209.30,428.60 L209.34,427.79 L209.38,427.03 L209.42,426.32 L209.46,425.66 L209.51,425.04 L209.55,424.46 L209.59,423.92 L209.64,423.41 L209.68,422.93 L209.72,422.48 L209.77,422.06 L209.81,421.65 L209.86,421.25 L209.91,420.87 L209.95,420.49 L210.00,420.11 L210.05,419.72 L210.09,419.32 L210.14,418.90 L210.19,418.46 L210.24,418.01 L210.29,417.57 L210.34,417.14 L210.39,416.73 L210.44,416.32 L210.49,415.92 L210.54,415.53 L210.59,415.15 L210.64,414.77 L210.70,414.40 L210.75,414.04 L210.80,413.68 L210.86,413.32 L210.91,412.96 L210.97,412.60 L211.02,412.24 L211.08,411.88 L211.13,411.51 L211.19,411.14 L211.24,410.76 L211.30,410.38 L211.36,409.98 L211.42,409.57 L211.47,409.15 L211.53,408.72 L211.59,408.27 L211.65,407.80 L211.71,407.30 L211.77,406.79 L211.83,406.26 L211.89,405.71 L211.95,405.15 L212.02,404.58 L212.08,404.00 L212.14,403.40 L212.21,402.79 L212.27,402.16 L212.33,401.50 L212.40,400.83 L212.46,400.14 L212.53,399.41 L212.59,398.67 L212.66,397.89 L212.73,397.09 L212.79,396.25 L212.86,395.38 L212.93,394.44 L213.00,393.31 L213.07,392.03 L213.13,390.66 L213.20,389.24 L213.27,387.83 L213.34,386.49 L213.42,385.28 L213.49,384.27 L213.56,383.50 L213.63,382.94 L213.70,382.40 L213.78,381.88 L213.85,381.38 L213.92,380.89 L214.00,380.43 L214.07,379.98 L214.15,379.55 L214.22,379.13 L214.30,378.73 L214.38,378.35 L214.45,377.98 L214.53,377.62 L214.61,377.27 L214.69,376.94 L214.76,376.62 L214.84,376.31 L214.92,376.01 L215.00,375.72 L215.08,375.43 L215.16,375.16 L215.25,374.88 L215.33,374.62 L215.41,374.36 L215.49,374.10 L215.58,373.84 L215.66,373.58 L215.74,373.33 L215.83,373.07 L215.91,372.81 L216.00,372.54 L216.08,372.27 L216.17,371.99 L216.26,371.70 L216.34,371.41 L216.43,371.12 L216.52,370.83 L216.61,370.54 L216.70,370.26 L216.78,369.98 L216.87,369.70 L216.96,369.43 L217.05,369.16 L217.15,368.89 L217.24,368.62 L217.33,368.35 L217.42,368.09 L217.51,367.83 L217.61,367.56 L217.70,367.31 L217.80,367.05 L217.89,366.79 L217.98,366.54 L218.08,366.29 L218.18,366.03 L218.27,365.78 L218.37,365.53 L218.47,365.29 L218.56,365.04 L218.66,364.79 L218.76,364.54 L218.86,364.30" stroke="#6a00ff" stroke-width="4.7"/>
<polygon points="197.6,430 212.0,430 212.0,456 209.7,457 209.7,474.5 208.7,475.5 208.7,538 206.9,539 206.9,555 205.4,556 205.4,575 200.5,575 200.5,521 199.7,520 199.7,478.4 198.2,477.4 198.2,439.6 197.6,438.6" fill="#6a00ff"/>
<path d="M158.80,280.04 L158.98,280.14 L159.16,280.24 L159.35,280.35 L159.53,280.46 L159.71,280.57 L159.89,280.68 L160.08,280.79 L160.26,280.90 L160.44,281.02 L160.62,281.14 L160.80,281.26 L160.98,281.38 L161.16,281.50 L161.34,281.63 L161.52,281.76 L161.69,281.88 L161.87,282.01 L162.05,282.14 L162.23,282.28 L162.40,282.41 L162.58,282.54 L162.76,282.68 L162.93,282.82 L163.11,282.96 L163.28,283.10 L163.46,283.24 L163.63,283.38 L163.80,283.52 L163.98,283.67 L164.15,283.81 L164.32,283.96 L164.50,284.10 L164.67,284.25 L164.84,284.40 L165.01,284.55 L165.18,284.70 L165.35,284.85 L165.52,285.00 L165.69,285.16 L165.86,285.31 L166.03,285.46 L166.20,285.62 L166.37,285.77 L166.54,285.93 L166.70,286.09 L166.87,286.24 L167.04,286.40 L167.20,286.56 L167.37,286.72 L167.54,286.88 L167.70,287.04 L167.87,287.20 L168.03,287.36 L168.19,287.52 L168.36,287.68 L168.52,287.84 L168.69,288.00 L168.85,288.16 M177.94,300.39 L178.08,300.59 L178.22,300.79 L178.36,300.98 L178.50,301.17 L178.64,301.37 L178.78,301.56 L178.91,301.75 L179.05,301.95 L179.19,302.14 L179.33,302.33 L179.46,302.52 L179.60,302.71 L179.73,302.91 L179.87,303.10 L180.01,303.29 L180.14,303.48 L180.27,303.68 L180.41,303.87 L180.54,304.07 L180.68,304.26 L180.81,304.46 L180.94,304.65 L181.07,304.85 L181.21,305.05 L181.34,305.25 L181.47,305.45 L181.60,305.65 L181.73,305.85 L181.86,306.05 L181.99,306.26 L182.12,306.46 L182.25,306.67 L182.37,306.88 L182.50,307.08 L182.63,307.29 L182.76,307.50 L182.88,307.70 L183.01,307.91 L183.14,308.11 L183.26,308.32 L183.39,308.53 L183.51,308.73 L183.64,308.94 L183.76,309.15 L183.89,309.36 L184.01,309.57 L184.13,309.78 L184.26,309.99 L184.38,310.20 L184.50,310.42 L184.62,310.63 L184.75,310.85 L184.87,311.07 L184.99,311.29 L185.11,311.52 L185.23,311.74 L185.35,311.97 L185.47,312.20 L185.59,312.43 L185.70,312.66 L185.82,312.90 L185.94,313.14 L186.06,313.38 L186.18,313.62 L186.29,313.87 L186.41,314.12 L186.52,314.37 L186.64,314.62 L186.75,314.89 M191.85,329.71 L191.95,329.96 L192.05,330.20 L192.14,330.44 L192.24,330.68 L192.33,330.92 L192.43,331.15 L192.52,331.38 L192.62,331.60 L192.71,331.83 L192.81,332.05 L192.90,332.27 L192.99,332.48 L193.09,332.70 L193.18,332.91 L193.27,333.12 L193.36,333.33 L193.45,333.54 L193.54,333.74 L193.63,333.94 L193.72,334.14 L193.81,334.34 L193.90,334.54 L193.99,334.74 L194.08,334.93 L194.17,335.12 L194.26,335.32 L194.35,335.51 L194.43,335.70 L194.52,335.88 L194.61,336.07 L194.69,336.26 L194.78,336.44 L194.86,336.62 L194.95,336.81 L195.03,336.99 L195.12,337.17 L195.20,337.35 L195.28,337.53 L195.37,337.71 L195.45,337.89 L195.53,338.07 L195.61,338.24 L195.70,338.42 L195.78,338.60 L195.86,338.77 L195.94,338.95 L196.02,339.12 L196.10,339.30 L196.18,339.47 L196.26,339.64 L196.34,339.82 L196.41,339.99 L196.49,340.16 L196.57,340.34 L196.65,340.51 L196.72,340.68 L196.80,340.86 L196.88,341.03 L196.95,341.20 L197.03,341.37 L197.10,341.55 L197.18,341.72 L197.25,341.89 L197.33,342.06 L197.40,342.24 L197.47,342.41 L197.55,342.58 L197.62,342.75 L197.69,342.93 L197.76,343.10 L197.83,343.27 L197.90,343.45 L197.97,343.62 L198.05,343.80 L198.11,343.97 L198.18,344.14 L198.25,344.32 L198.32,344.49 L198.39,344.67 M203.00,360.54 L203.04,360.75 L203.07,360.95 L203.11,361.16 L203.14,361.36 L203.17,361.57 L203.21,361.78 L203.24,361.98 L203.27,362.19 L203.30,362.40 L203.34,362.61 L203.37,362.82 L203.40,363.02 L203.43,363.23 L203.46,363.44 L203.49,363.65 L203.52,363.85 L203.55,364.06 L203.58,364.27 L203.61,364.47 L203.64,364.67 L203.66,364.88 L203.69,365.08 L203.72,365.28 L203.74,365.48 L203.77,365.68 L203.80,365.87 L203.82,366.07 L203.85,366.26 L203.87,366.45 L203.90,366.64 L203.92,366.83 L203.94,367.02 L203.97,367.20 L203.99,367.39 L204.01,367.57 L204.04,367.75 L204.06,367.92 L204.08,368.10 L204.10,368.27 L204.12,368.44 L204.14,368.61 L204.16,368.77 L204.18,368.94 L204.20,369.10 L204.22,369.26 L204.24,369.41 L204.26,369.57 L204.28,369.72 L204.29,369.87 L204.31,370.01 L204.33,370.16 L204.34,370.30 L204.36,370.43 L204.37,370.57 L204.39,370.70 L204.41,370.83 L204.42,370.96 L204.43,371.08 L204.45,371.20 L204.46,371.32 L204.47,371.43 L204.49,371.54 L204.50,371.65 L204.51,371.76 L204.52,371.86 L204.53,371.96 L204.54,372.06 L204.56,372.15 L204.57,372.24 L204.58,372.33 L204.58,372.41 L204.59,372.49 L204.60,372.57 L204.61,372.64 L204.62,372.72 L204.63,372.78 L204.63,372.85 L204.64,372.91 L204.65,372.97 L204.65,373.02 L204.66,373.07 L204.66,373.12 L204.67,373.17 L204.67,373.21 L204.68,373.25 L204.68,373.28 L204.69,373.31 L204.69,373.34 L204.69,373.37 L204.69,373.39 L204.70,373.41 L204.70,373.42 L204.70,373.43 L204.70,373.44 L204.70,373.45 L204.70,373.45 L204.70,373.45 L204.70,373.45 L204.70,373.44 L204.70,373.44 L204.70,373.43 L204.70,373.42 L204.70,373.41 L204.71,373.40 L204.71,373.39 L204.71,373.37 L204.71,373.35 L204.71,373.33 L204.72,373.31 L204.72,373.28 L204.72,373.25 L204.73,373.22 L204.73,373.19 L204.73,373.16 L204.74,373.12 L204.74,373.08 L204.75,373.04 L204.75,373.00 L204.76,372.95 L204.76,372.90 L204.77,372.85 L204.77,372.80 L204.78,372.74 L204.79,372.68 L204.79,372.62 L204.80,372.56 L204.81,372.49 L204.82,372.42 L204.82,372.35 L204.83,372.28 L204.84,372.20 L204.85,372.12 L204.86,372.04 L204.87,371.96 L204.88,371.87 L204.89,371.78 L204.90,371.69 L204.91,371.59 L204.92,371.50 L204.93,371.40 L204.95,371.30 L204.96,371.19 L204.97,371.08 L204.98,370.98 L205.00,370.86 L205.01,370.75 L205.02,370.63 L205.04,370.51 L205.05,370.39 L205.07,370.26 L205.08,370.14 L205.10,370.01 L205.11,369.87 L205.13,369.74 L205.15,369.60 L205.16,369.46 L205.18,369.32 L205.20,369.18 L205.21,369.03 L205.23,368.88 L205.25,368.73 L205.27,368.58 L205.29,368.42 L205.31,368.26 L205.33,368.10 L205.35,367.94 L205.37,367.78 L205.39,367.61 L205.41,367.44 L205.43,367.27 L205.45,367.10 L205.48,366.93 L205.50,366.75 L205.52,366.57 L205.55,366.39 L205.57,366.21 L205.59,366.03 L205.62,365.84 L205.64,365.66 L205.67,365.47 L205.69,365.28 L205.72,365.09 L205.75,364.89 L205.77,364.70 L205.80,364.51 L205.83,364.31 L205.85,364.11 L205.88,363.91 L205.91,363.72 L205.94,363.51 L205.97,363.31 L206.00,363.11 L206.03,362.91 L206.06,362.71 L206.09,362.50 L206.12,362.30 L206.15,362.10 L206.18,361.89 L206.22,361.69 L206.25,361.48 L206.28,361.28 L206.32,361.07 L206.35,360.87 L206.38,360.66 M208.43,351.40 L208.48,351.23 L208.53,351.06 L208.59,350.89 L208.64,350.72 L208.70,350.55 L208.75,350.39 L208.81,350.22 L208.86,350.06 L208.92,349.90 L208.98,349.74 L209.03,349.58 L209.09,349.42 L209.15,349.26 L209.21,349.11 L209.27,348.95 L209.33,348.80 L209.38,348.65 L209.44,348.49 L209.51,348.34 L209.57,348.19 L209.63,348.04 L209.69,347.89 L209.75,347.74 L209.81,347.59 L209.88,347.44 L209.94,347.29 L210.00,347.14 L210.07,346.99 L210.13,346.84 L210.20,346.68 L210.26,346.53 L210.33,346.37 L210.40,346.22 L210.46,346.06 L210.53,345.90 L210.60,345.74 L210.67,345.58 L210.74,345.41 L210.81,345.24 L210.87,345.07 L210.94,344.90 L211.01,344.72 L211.09,344.54 L211.16,344.35 L211.23,344.17 L211.30,343.99 L211.37,343.80 L211.45,343.62 L211.52,343.44 L211.59,343.25 L211.67,343.07 L211.74,342.88 L211.82,342.70 L211.89,342.51 L211.97,342.32 L212.04,342.14 L212.12,341.95 L212.20,341.76 L212.28,341.57 L212.35,341.38 L212.43,341.18 L212.51,340.99 L212.59,340.79 L212.67,340.60 L212.75,340.40 L212.83,340.20 L212.91,339.99 L212.99,339.79 L213.08,339.58 L213.16,339.37 L213.24,339.16 L213.33,338.94 L213.41,338.72 L213.49,338.50 L213.58,338.28 L213.66,338.05 L213.75,337.82 L213.83,337.58 L213.92,337.34 L214.01,337.10 L214.10,336.85 L214.18,336.60 L214.27,336.34 L214.36,336.08 M219.04,320.19 L219.15,319.92 L219.26,319.65 L219.37,319.38 L219.48,319.12 L219.60,318.86 L219.71,318.59 L219.82,318.34 L219.94,318.08 L220.05,317.82 L220.17,317.57 L220.28,317.31 L220.40,317.06 L220.51,316.81 L220.63,316.56 L220.75,316.31 L220.86,316.07 L220.98,315.82 L221.10,315.58 L221.22,315.34 L221.34,315.10 L221.46,314.86 L221.58,314.62 L221.70,314.38 L221.82,314.14 L221.94,313.91 L222.06,313.67 L222.19,313.44 L222.31,313.20 L222.43,312.97 L222.56,312.74 L222.68,312.51 L222.81,312.28 L222.93,312.05 L223.06,311.82 L223.19,311.59 L223.31,311.36 L223.44,311.14 L223.57,310.91 L223.70,310.68 L223.83,310.45 L223.95,310.23 L224.08,310.00 L224.21,309.77 L224.35,309.54 L224.48,309.32 L224.61,309.09 L224.74,308.86 L224.87,308.63 L225.01,308.40 L225.14,308.17 L225.27,307.94 L225.41,307.71 L225.54,307.48 L225.68,307.25 L225.81,307.01 L225.95,306.78 L226.09,306.54 L226.23,306.31 L226.36,306.07 M234.86,293.32 L235.03,293.13 L235.19,292.94 L235.36,292.75 L235.53,292.57 L235.69,292.39 L235.86,292.20 L236.03,292.02 L236.20,291.84 L236.37,291.67 L236.54,291.49 L236.71,291.31 L236.88,291.14 L237.05,290.97 L237.23,290.80 L237.40,290.63 L237.57,290.46 L237.75,290.29 L237.92,290.12 L238.09,289.96 L238.27,289.79 L238.45,289.63 L238.62,289.46 L238.80,289.30 L238.98,289.14 L239.15,288.98 L239.33,288.82 L239.51,288.66 L239.69,288.50 L239.87,288.34 L240.05,288.18 L240.23,288.03 L240.41,287.87 L240.59,287.71 L240.77,287.55 L240.96,287.40 L241.14,287.24 L241.32,287.08 L241.51,286.93 L241.69,286.77 L241.88,286.61 L242.06,286.46 L242.25,286.30 L242.44,286.14 L242.62,285.98 L242.81,285.82 L243.00,285.66 L243.19,285.50 L243.38,285.34 L243.57,285.18 L243.76,285.02 L243.95,284.86 L244.14,284.69 L244.33,284.53 L244.52,284.36 L244.72,284.19 L244.91,284.02 L245.10,283.85 L245.30,283.68 L245.49,283.50 L245.69,283.33 L245.88,283.15 L246.08,282.97 L246.28,282.79 M259.03,270.92 L259.26,270.77 L259.49,270.62 L259.72,270.47 L259.95,270.34 L260.18,270.20 L260.41,270.07 L260.64,269.94 L260.87,269.81 L261.11,269.68 L261.34,269.56 L261.57,269.44 L261.81,269.31 L262.04,269.19 L262.28,269.07 L262.51,268.94 L262.75,268.82 L262.99,268.69 L263.22,268.56 L263.46,268.43 L263.70,268.29 L263.94,268.15 L264.18,268.01 L264.42,267.86 L264.66,267.71 L264.90,267.56 L265.14,267.41 L265.38,267.25 L265.62,267.09 L265.87,266.93 L266.11,266.77 L266.36,266.61 L266.60,266.45 L266.84,266.28 L267.09,266.12 L267.34,265.95 L267.58,265.78 L267.83,265.61 L268.08,265.44 L268.33,265.27 L268.58,265.09 L268.83,264.92 L269.08,264.74 L269.33,264.57 L269.58,264.39 L269.83,264.21 L270.08,264.04 L270.33,263.86 L270.59,263.68 L270.84,263.50 L271.09,263.32 L271.35,263.14 L271.60,262.96 M285.05,254.38 L285.33,254.21 L285.62,254.04 L285.90,253.87 L286.18,253.70 L286.47,253.53 L286.75,253.36 L287.04,253.19 L287.33,253.02 L287.61,252.85 L287.90,252.68 L288.19,252.52 L288.48,252.35 L288.77,252.18 L289.06,252.01 L289.35,251.84 L289.64,251.67 L289.93,251.50 L290.22,251.33 L290.51,251.17 L290.81,251.00 L291.10,250.83 L291.39,250.66 L291.69,250.49 L291.98,250.32 L292.28,250.15 L292.58,249.99 L292.87,249.82 L293.17,249.65 L293.47,249.48 L293.77,249.31 L294.07,249.14 L294.36,248.98 L294.66,248.81 L294.97,248.64 L295.27,248.47 L295.57,248.30 L295.87,248.13 L296.17,247.97 L296.48,247.80 L296.78,247.63 L297.08,247.46 L297.39,247.29 L297.70,247.13 L298.00,246.96 L298.31,246.79 L298.62,246.62 L298.92,246.46 L299.23,246.29 L299.54,246.12 M313.01,239.12 L313.34,238.96 L313.68,238.79 L314.01,238.63 L314.34,238.46 L314.68,238.30 L315.01,238.14 L315.35,237.97 L315.69,237.81 L316.02,237.64 L316.36,237.48 L316.70,237.32 L317.04,237.15 L317.38,236.99 L317.72,236.83 L318.06,236.67 L318.40,236.50 L318.74,236.34 L319.08,236.18 L319.42,236.02 L319.77,235.85 L320.11,235.69 L320.46,235.53 L320.80,235.37 L321.15,235.21 L321.49,235.05 L321.84,234.89 L322.19,234.72 L322.53,234.56 L322.88,234.40 L323.23,234.24 L323.58,234.08 L323.93,233.92 L324.28,233.76 L324.63,233.60 L324.98,233.44 L325.33,233.28 L325.69,233.12 L326.04,232.97 L326.39,232.81 L326.75,232.65 L327.10,232.49 L327.46,232.33 M341.39,226.48 L341.77,226.33 L342.14,226.18 L342.52,226.03 L342.90,225.89 L343.28,225.74 L343.66,225.59 L344.04,225.44 L344.43,225.30 L344.81,225.15 L345.19,225.01 L345.57,224.86 L345.96,224.71 L346.34,224.57 L346.73,224.42 L347.11,224.28 L347.50,224.13 L347.89,223.99 L348.27,223.85 L348.66,223.70 L349.05,223.56 L349.44,223.41 L349.83,223.27 L350.22,223.13 L350.61,222.99 L351.00,222.85 L351.39,222.70 L351.78,222.56 L352.18,222.42 L352.57,222.28 L352.96,222.14 L353.36,222.00 L353.75,221.86 L354.15,221.72 L354.55,221.58 L354.94,221.44 L355.34,221.30 L355.74,221.17 L356.14,221.03 M371.29,216.15 L371.71,216.02 L372.14,215.89 L372.56,215.77 L372.98,215.64 L373.40,215.52 L373.83,215.39 L374.25,215.27 L374.68,215.14 L375.10,215.02 L375.53,214.89 L375.95,214.77 L376.38,214.65 L376.81,214.52 L377.24,214.40 L377.66,214.28 L378.09,214.16 L378.52,214.03 L378.95,213.91 L379.38,213.79 L379.82,213.67 L380.25,213.55 L380.68,213.43 L381.11,213.30 L381.55,213.18 L381.98,213.06 L382.42,212.94 L382.85,212.82 L383.29,212.71 L383.73,212.59 L384.16,212.47 L384.60,212.35 L385.04,212.23 L385.48,212.11 L385.92,211.99 M401.68,207.98 L402.14,207.86 L402.60,207.75 L403.06,207.64 L403.53,207.53 L403.99,207.42 L404.45,207.31 L404.92,207.20 L405.38,207.08 L405.85,206.97 L406.31,206.86 L406.78,206.75 L407.25,206.64 L407.72,206.53 L408.18,206.42 L408.65,206.31 L409.12,206.20 L409.59,206.09 L410.06,205.98 L410.54,205.87 L411.01,205.76 L411.48,205.65 L411.95,205.54 L412.43,205.43 L412.90,205.32 L413.38,205.21 L413.85,205.10 L414.33,204.99 L414.80,204.88 L415.28,204.77 L415.76,204.66 L416.24,204.55 M432.36,200.96 L432.86,200.85 L433.36,200.75 L433.86,200.64 L434.36,200.53 L434.86,200.42 L435.36,200.31 L435.86,200.20 L436.37,200.09 L436.87,199.98 L437.37,199.88 L437.88,199.77 L438.38,199.66 L438.89,199.55 L439.40,199.44 L439.90,199.33 L440.41,199.22 L440.92,199.11 L441.43,199.00 L441.94,198.89 L442.45,198.79 L442.96,198.68 L443.47,198.57 L443.98,198.46 L444.49,198.35 L445.01,198.24 L445.52,198.13 L446.03,198.02 L446.55,197.91 L447.06,197.80 L447.58,197.69 M451.21,196.93 L451.73,196.82 L452.25,196.71 L452.77,196.60 L453.30,196.49 L453.82,196.38 L454.34,196.27 L454.87,196.16 L455.39,196.05 L455.92,195.94 L456.44,195.84 L456.97,195.73 L457.50,195.62 L458.03,195.51 L458.55,195.40 L459.08,195.29 L459.61,195.18 L460.14,195.07 L460.67,194.96 L461.21,194.86 L461.74,194.75 L462.27,194.64 L462.80,194.53 L463.34,194.42 L463.87,194.31 L464.41,194.20 L464.94,194.09 L465.48,193.99 L466.02,193.88 L466.55,193.77 M481.85,190.79 L482.41,190.68 L482.96,190.58 L483.52,190.47 L484.08,190.37 L484.63,190.26 L485.19,190.16 L485.75,190.06 L486.31,189.95 L486.87,189.85 L487.43,189.75 L487.99,189.64 L488.55,189.54 L489.12,189.44 L489.68,189.34 L490.24,189.23 L490.81,189.13 L491.37,189.03 L491.94,188.93 L492.50,188.83 L493.07,188.73 L493.64,188.63 L494.21,188.53 L494.77,188.43 L495.34,188.33 L495.91,188.23 L496.48,188.13 L497.05,188.03 M513.29,185.33 L513.87,185.24 L514.46,185.15 L515.05,185.05 L515.64,184.96 L516.24,184.87 L516.83,184.78 L517.42,184.69 L518.01,184.60 L518.61,184.51 L519.20,184.41 L519.79,184.32 L520.39,184.23 L520.99,184.14 L521.58,184.05 L522.18,183.97 L522.78,183.88 L523.38,183.79 L523.97,183.70 L524.57,183.61 L525.17,183.52 L525.78,183.44 L526.38,183.35 L526.98,183.26 L527.58,183.17 L528.19,183.09 L528.79,183.00 M544.71,180.85 L545.33,180.78 L545.95,180.70 L546.57,180.62 L547.19,180.54 L547.82,180.46 L548.44,180.39 L549.06,180.31 L549.69,180.23 L550.31,180.16 L550.94,180.08 L551.57,180.01 L552.19,179.93 L552.82,179.86 L553.45,179.78 L554.08,179.71 L554.71,179.63 L555.34,179.56 L555.97,179.48 L556.60,179.41 L557.24,179.34 L557.87,179.27 L558.50,179.19 L559.14,179.12 L559.77,179.05 L560.41,178.98 M576.49,177.31 L577.14,177.25 L577.80,177.18 L578.45,177.12 L579.10,177.06 L579.76,177.00 L580.41,176.94 L581.07,176.88 L581.72,176.82 L582.38,176.76 L583.04,176.70 L583.69,176.64 L584.35,176.58 L585.01,176.53 L585.67,176.47 L586.33,176.41 L586.99,176.35 L587.65,176.30 L588.32,176.24 L588.98,176.19 L589.64,176.13 L590.31,176.08 L590.97,176.02 L591.64,175.97 L592.30,175.91 M608.47,174.73 L609.15,174.69 L609.83,174.65 L610.52,174.60 L611.20,174.56 L611.88,174.52 L612.57,174.48 L613.25,174.43 L613.94,174.39 L614.63,174.35 L615.31,174.31 L616.00,174.27 L616.69,174.23 L617.38,174.19 L618.07,174.15 L618.76,174.12 L619.45,174.08 L620.14,174.04 L620.83,174.00 L621.53,173.97 L622.22,173.93 L622.91,173.90 L623.61,173.86 L624.30,173.82 M640.47,173.14 L641.18,173.12 L641.89,173.10 L642.60,173.07 L643.32,173.05 L644.03,173.03 L644.74,173.01 L645.46,172.99 L646.17,172.96 L646.89,172.94 L647.60,172.92 L648.32,172.90 L649.04,172.88 L649.76,172.87 L650.47,172.85 L651.19,172.83 L651.91,172.81 L652.63,172.80 L653.36,172.78 L654.08,172.77 L654.80,172.75 L655.52,172.74 L656.25,172.72 M672.33,172.53 L673.07,172.53 L673.81,172.53 L674.55,172.53 L675.29,172.53 L676.03,172.53 L676.77,172.53 L677.51,172.53 L678.25,172.53 L679.00,172.53 L679.74,172.54 L680.49,172.54 L681.23,172.54 L681.98,172.55 L682.72,172.55 L683.47,172.55 L684.22,172.56 L684.97,172.56 L685.72,172.57 L686.47,172.57 L687.22,172.58 L687.97,172.59 M704.65,172.90 L705.42,172.92 L706.18,172.94 L706.95,172.96 L707.72,172.99 L708.49,173.01 L709.26,173.03 L710.03,173.06 L710.80,173.08 L711.57,173.10 L712.34,173.13 L713.11,173.16 L713.88,173.18 L714.66,173.21 L715.43,173.24 L716.21,173.27 L716.98,173.30 L717.76,173.33 L718.53,173.36 L719.31,173.39 L720.09,173.42 L720.87,173.45 M737.36,174.27 L738.16,174.31 L738.95,174.36 L739.74,174.41 L740.54,174.46 L741.33,174.50 L742.13,174.55 L742.93,174.60 L743.72,174.65 L744.52,174.70 L745.32,174.75 L746.12,174.80 L746.92,174.86 L747.72,174.91 L748.52,174.96 L749.32,175.02 L750.12,175.07 L750.93,175.13 L751.73,175.19 L752.54,175.24 L753.34,175.30" stroke="#6a00ff" stroke-width="3.7"/>
</g>
<g fill="#000"><text transform="translate(138.40,75.40) scale(1,1.062)" font-size="36.3" text-anchor="end" font-family="Liberation Sans, sans-serif" stroke="#000" stroke-width="0.40">100</text><rect x="79.61" y="70.12" width="7.21" height="7.18" fill="#fff"/><rect x="90.32" y="70.12" width="7.07" height="7.18" fill="#fff"/>
<text transform="translate(138.40,160.55) scale(1,1.062)" font-size="36.3" text-anchor="end" font-family="Liberation Sans, sans-serif" stroke="#000" stroke-width="0.40">10</text><rect x="99.80" y="155.27" width="7.21" height="7.18" fill="#fff"/><rect x="110.51" y="155.27" width="7.07" height="7.18" fill="#fff"/>
<text transform="translate(138.40,245.70) scale(1,1.062)" font-size="36.3" text-anchor="end" font-family="Liberation Sans, sans-serif" stroke="#000" stroke-width="0.40">1</text><rect x="119.98" y="240.42" width="7.21" height="7.18" fill="#fff"/><rect x="130.70" y="240.42" width="7.07" height="7.18" fill="#fff"/>
<text transform="translate(138.40,330.85) scale(1,1.062)" font-size="36.3" text-anchor="end" font-family="Liberation Sans, sans-serif" stroke="#000" stroke-width="0.40">0.1</text><rect x="119.98" y="325.57" width="7.21" height="7.18" fill="#fff"/><rect x="130.70" y="325.57" width="7.07" height="7.18" fill="#fff"/>
<text transform="translate(138.40,416.00) scale(1,1.062)" font-size="36.3" text-anchor="end" font-family="Liberation Sans, sans-serif" stroke="#000" stroke-width="0.40">0.01</text><rect x="119.98" y="410.72" width="7.21" height="7.18" fill="#fff"/><rect x="130.70" y="410.72" width="7.07" height="7.18" fill="#fff"/>
<text transform="translate(138.40,501.15) scale(1,1.062)" font-size="36.3" text-anchor="end" font-family="Liberation Sans, sans-serif" stroke="#000" stroke-width="0.40">0.001</text><rect x="119.98" y="495.87" width="7.21" height="7.18" fill="#fff"/><rect x="130.70" y="495.87" width="7.07" height="7.18" fill="#fff"/>
<text transform="translate(138.40,586.30) scale(1,1.062)" font-size="36.3" text-anchor="end" font-family="Liberation Sans, sans-serif" stroke="#000" stroke-width="0.40">0.0001</text><rect x="119.98" y="581.02" width="7.21" height="7.18" fill="#fff"/><rect x="130.70" y="581.02" width="7.07" height="7.18" fill="#fff"/>
<text transform="translate(204.80,614.80) scale(1,1.062)" font-size="36.3" text-anchor="middle" font-family="Liberation Sans, sans-serif" stroke="#000" stroke-width="0.40">0</text>
<text transform="translate(296.24,614.80) scale(1,1.062)" font-size="36.3" text-anchor="middle" font-family="Liberation Sans, sans-serif" stroke="#000" stroke-width="0.40">2</text>
<text transform="translate(387.68,614.80) scale(1,1.062)" font-size="36.3" text-anchor="middle" font-family="Liberation Sans, sans-serif" stroke="#000" stroke-width="0.40">4</text>
<text transform="translate(479.12,614.80) scale(1,1.062)" font-size="36.3" text-anchor="middle" font-family="Liberation Sans, sans-serif" stroke="#000" stroke-width="0.40">6</text>
<text transform="translate(570.56,614.80) scale(1,1.062)" font-size="36.3" text-anchor="middle" font-family="Liberation Sans, sans-serif" stroke="#000" stroke-width="0.40">8</text>
<text transform="translate(662.00,614.80) scale(1,1.062)" font-size="36.3" text-anchor="middle" font-family="Liberation Sans, sans-serif" stroke="#000" stroke-width="0.40">10</text><rect x="643.58" y="609.52" width="7.21" height="7.18" fill="#fff"/><rect x="654.30" y="609.52" width="7.07" height="7.18" fill="#fff"/>
<text transform="translate(753.44,614.80) scale(1,1.062)" font-size="36.3" text-anchor="middle" font-family="Liberation Sans, sans-serif" stroke="#000" stroke-width="0.40">12</text><rect x="735.02" y="609.52" width="7.21" height="7.18" fill="#fff"/><rect x="745.74" y="609.52" width="7.07" height="7.18" fill="#fff"/>
<text transform="translate(444.40,651.20) scale(1,1.06)" font-size="35.6" text-anchor="middle" font-family="Liberation Sans, sans-serif" stroke="#000" stroke-width="0.39">B(T)</text></g>
<g transform="translate(47.0,397) rotate(-90)" fill="#000"><text transform="translate(0.00,0.00) scale(1,1.045)" font-size="35.5" font-family="Liberation Sans, sans-serif">R</text>
<rect x="39.4" y="-7.4" width="9.0" height="9.0" fill="none" stroke="#000" stroke-width="1"/>
<text transform="translate(83.00,0.20) scale(1,1.0)" font-size="37.5" font-family="Liberation Serif, serif">(</text>
<text transform="translate(94.30,0.00) scale(1,1.0)" font-size="36" font-family="Liberation Serif, serif">h</text>
<text transform="translate(113.40,0.00) scale(1,1.0)" font-size="36" font-family="Liberation Serif, serif">/</text>
<text transform="translate(122.70,0.00) scale(1,1.0)" font-size="36" font-family="Liberation Serif, serif">4</text>
<text transform="translate(139.80,0.00) scale(1,1.0)" font-size="38" font-family="Liberation Serif, serif">e</text>
<text transform="translate(156.10,-23.80) scale(1,1.0)" font-size="26.5" font-family="Liberation Serif, serif">2</text>
<text transform="translate(169.10,0.20) scale(1,1.0)" font-size="37.5" font-family="Liberation Serif, serif">)</text></g>
<g fill="#000"><line x1="571.7" x2="617.5" y1="351.7" y2="351.7" stroke="#ff0000" stroke-width="3.4"/>
<text transform="translate(620.80,359.00) scale(1,1.065)" font-size="24.65" text-anchor="start" font-family="Liberation Sans, sans-serif" stroke="#000" stroke-width="0.27">T=1 K</text><rect x="651.46" y="354.64" width="4.84" height="6.26" fill="#fff"/><rect x="658.78" y="354.64" width="4.80" height="6.26" fill="#fff"/>
<line x1="571.7" x2="617.5" y1="379.4" y2="379.4" stroke="#99ff33" stroke-width="3.4"/>
<text transform="translate(620.80,386.70) scale(1,1.065)" font-size="24.65" text-anchor="start" font-family="Liberation Sans, sans-serif" stroke="#000" stroke-width="0.27">T=0.8 K</text>
<line x1="571.7" x2="617.5" y1="407.0" y2="407.0" stroke="#0aa5ff" stroke-width="3.4"/>
<text transform="translate(620.80,414.30) scale(1,1.065)" font-size="24.65" text-anchor="start" font-family="Liberation Sans, sans-serif" stroke="#000" stroke-width="0.27">T=0.5 K</text>
<line x1="571.7" x2="617.5" y1="434.7" y2="434.7" stroke="#6a00ff" stroke-width="3.4"/>
<text transform="translate(620.80,442.00) scale(1,1.065)" font-size="24.65" text-anchor="start" font-family="Liberation Sans, sans-serif" stroke="#000" stroke-width="0.27">T=0.2 K</text>
<text transform="translate(561.80,501.70) scale(1,1.062)" font-size="21.5" text-anchor="start" font-family="Liberation Sans, sans-serif" stroke="#000" stroke-width="0.24">Solid line - Film</text>
<text transform="translate(561.80,525.60) scale(1,1.062)" font-size="21.5" text-anchor="start" font-family="Liberation Sans, sans-serif" stroke="#000" stroke-width="0.24">Dashed line - Wire</text></g>
</svg>
</body></html>
